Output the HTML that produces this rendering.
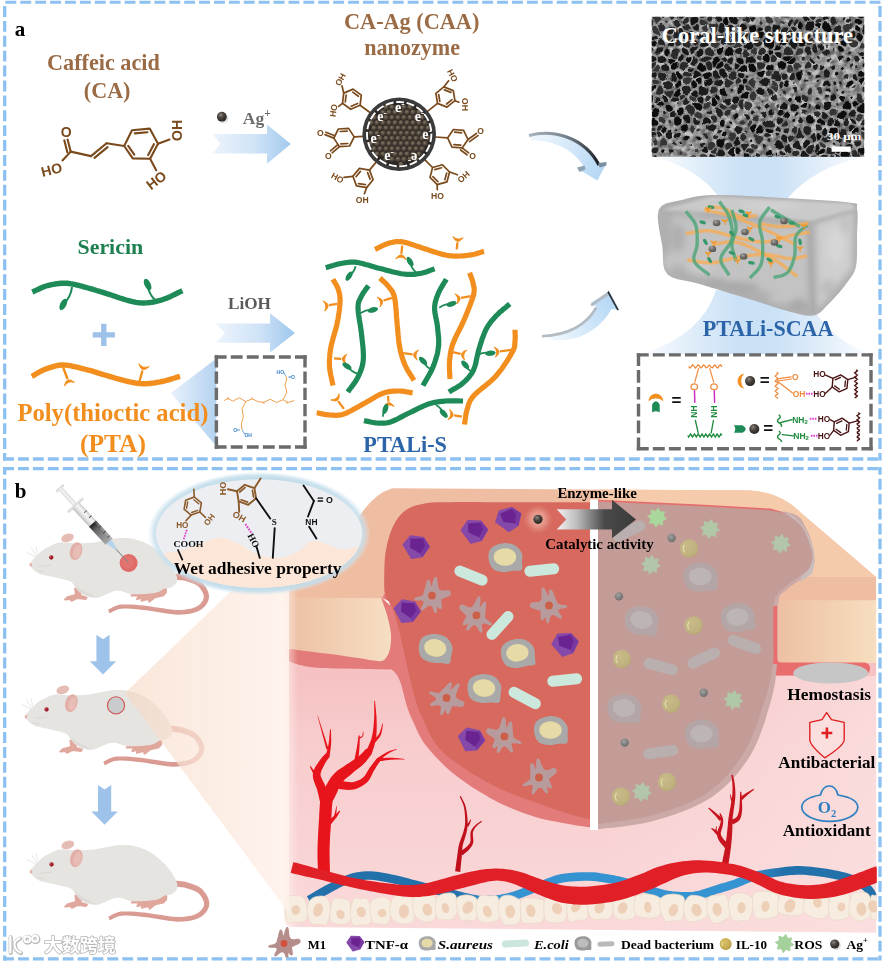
<!DOCTYPE html>
<html lang="en"><head><meta charset="utf-8"><title>PTALi-SCAA hydrogel scheme</title>
<style>html,body{margin:0;padding:0;background:#fff}svg{display:block;font-family:"Liberation Serif","Noto Serif CJK SC",serif}</style></head>
<body>
<svg width="887" height="962" viewBox="0 0 887 962">
<defs><radialGradient id="agS" cx="0.38" cy="0.32" r="0.7"><stop offset="0" stop-color="#8A847C"/><stop offset="0.45" stop-color="#4A4540"/><stop offset="1" stop-color="#262321"/></radialGradient><radialGradient id="npS" cx="0.4" cy="0.35" r="0.7"><stop offset="0" stop-color="#857865"/><stop offset="0.55" stop-color="#4C4339"/><stop offset="1" stop-color="#2A2520"/></radialGradient><radialGradient id="ilS" cx="0.4" cy="0.35" r="0.75"><stop offset="0" stop-color="#C8BB88"/><stop offset="0.7" stop-color="#BFB27E"/><stop offset="1" stop-color="#B2A470"/></radialGradient><radialGradient id="ilL" cx="0.4" cy="0.35" r="0.75"><stop offset="0" stop-color="#D9C26A"/><stop offset="0.7" stop-color="#C4A850"/><stop offset="1" stop-color="#A88E3C"/></radialGradient><radialGradient id="agG" cx="0.5" cy="0.5" r="0.5"><stop offset="0" stop-color="#F3C2B2" stop-opacity="0.95"/><stop offset="0.55" stop-color="#EBA898" stop-opacity="0.6"/><stop offset="1" stop-color="#E08878" stop-opacity="0"/></radialGradient><radialGradient id="agD" cx="0.4" cy="0.35" r="0.7"><stop offset="0" stop-color="#A2A2A2"/><stop offset="0.6" stop-color="#7E7E7E"/><stop offset="1" stop-color="#6C6C6C"/></radialGradient><linearGradient id="pe1" x1="287" x2="388" y1="0" y2="0" gradientUnits="userSpaceOnUse"><stop offset="0" stop-color="#EDBFA4"/><stop offset="1" stop-color="#F6DEC2"/></linearGradient><linearGradient id="pe2" x1="776" x2="877" y1="0" y2="0" gradientUnits="userSpaceOnUse"><stop offset="0" stop-color="#EDBFA2"/><stop offset="1" stop-color="#F7DEC0"/></linearGradient><linearGradient id="derm" x1="0" x2="0" y1="655" y2="933" gradientUnits="userSpaceOnUse"><stop offset="0" stop-color="#F5BFC0"/><stop offset="0.35" stop-color="#F8CDCE"/><stop offset="1" stop-color="#FAD9DA"/></linearGradient><linearGradient id="dermR" x1="600" x2="877" y1="0" y2="0" gradientUnits="userSpaceOnUse"><stop offset="0" stop-color="#FBE0E0" stop-opacity="0"/><stop offset="1" stop-color="#FBE0E0" stop-opacity="0.75"/></linearGradient><linearGradient id="arrG" x1="557" x2="636" y1="0" y2="0" gradientUnits="userSpaceOnUse"><stop offset="0" stop-color="#F2F2F2"/><stop offset="0.25" stop-color="#BDBDBD"/><stop offset="0.6" stop-color="#4A4A4A"/><stop offset="1" stop-color="#3A3A3A"/></linearGradient><linearGradient id="coneB" x1="125" x2="289" y1="0" y2="0" gradientUnits="userSpaceOnUse"><stop offset="0" stop-color="#F6D5BF" stop-opacity="0.55"/><stop offset="0.35" stop-color="#FAE3D5" stop-opacity="0.7"/><stop offset="1" stop-color="#FEF3EC" stop-opacity="0.9"/></linearGradient><g id="mouse">
<path d="M686.5 251.4 L695.3 252.3 L704 252.8 L712.3 253.4 L720.3 254.1 L728.2 255.4 L736.5 257.4 L746.1 260.2 L756.5 263.4 L766.8 267 L776.5 271.1 L784.9 275.7 L791.6 281 L797.9 287.6 L804.1 295.9 L809.5 305 L813.6 314.1 L815.9 322.3 L816.4 329.1 L815.1 335.7 L812 343.2 L807.3 350.8 L801.1 358.2 L793.6 364.8 L784.9 370.3 L774.8 374.9 L763.2 378.8 L750.1 381.9 L735.3 384.1 L718.7 385.3 L700.3 385.6 L678.9 384.4 L654 381.4 L627.2 377.4 L600.1 373.1 L574.2 369.1 L551.1 366.3 L530.8 364.4 L512.1 362.8 L494.7 361.5 L478.4 360.9 L463.2 360.9 L449 361.9 L436.2 364.2 L425.2 367.7 L415.9 371.9 L407.7 376.3 L399.9 380.4 L391.6 384.2 L398.4 399.8 L407.4 396 L415.7 391.8 L423.5 387.8 L431.4 384.4 L440.3 381.8 L451 380.1 L463.8 379.4 L477.9 379.5 L493.5 380.4 L510.5 381.8 L529 383.6 L548.9 385.7 L571.4 388.6 L596.9 392.7 L624.1 397.3 L651.2 401.5 L676.9 404.8 L699.7 406.4 L719.5 406.3 L737.5 405.1 L753.9 402.9 L768.9 399.6 L782.6 395.2 L795.1 389.7 L806.7 382.7 L816.8 374.1 L825.4 364.4 L832.2 353.8 L837.1 342.7 L839.6 330.9 L839.1 318.5 L835.9 306.2 L830.8 294.1 L824.2 282.7 L816.7 272.3 L808.4 263 L798.6 255.2 L787.7 248.8 L776.2 243.6 L764.7 239.4 L753.7 235.8 L743.5 232.6 L733.6 230 L723.9 228.2 L714.7 227.1 L706.1 226.3 L697.8 225.6 L689.5 224.6Z" fill="#DA9C93"/>
<path d="M688 238 L696.6 238.9 L705 239.6 L713.5 240.2 L722.1 241.2 L730.9 242.7 L740 245 L749.9 248 L760.6 251.4 L771.5 255.3 L782.1 260 L791.8 265.5 L800 272 L807.3 280 L814.1 289.3 L820.1 299.6 L824.7 310.1 L827.5 320.4 L828 330 L826.1 339.2 L822.1 348.5 L816.4 357.6 L809 366.1 L800.1 373.7 L790 380 L778.7 385.1 L766.1 389.2 L752 392.4 L736.4 394.6 L719.1 395.8 L700 396 L677.9 394.6 L652.6 391.4 L625.6 387.3 L598.5 382.9 L572.8 378.9 L550 376 L529.9 374 L511.3 372.3 L494.1 370.9 L478.1 370.2 L463.5 370.2 L450 371 L438.2 373 L428.3 376.1 L419.7 379.9 L411.7 384 L403.6 388.2 L395 392" fill="none" stroke="#C98A84" stroke-width="1.5" opacity="0.5" transform="translate(0,5)"/>
<ellipse cx="212" cy="66" rx="29" ry="18" fill="#E6BDB5" transform="rotate(-18 212 66)"/>
<path d="M600 300 Q625 275 648 290 Q655 310 635 322 L600 330 L575 350 L570 338 L540 345 L545 332 L520 338 L528 322 L495 322 L510 312 L570 308Z" fill="#E0A79D" stroke="#E0A79D" stroke-width="8" stroke-linejoin="round"/>
<path d="M245 290 L275 300 L268 322 L298 330 L292 338 L255 334 L230 346 L225 338 L200 340 L212 328 L248 318Z" fill="#E0A79D" stroke="#E0A79D" stroke-width="7" stroke-linejoin="round"/>
<path d="M45 183 L45.7 179.3 L47.5 175.9 L50.2 172.4 L53.6 168.8 L57.6 164.7 L62 160 L67.1 154.3 L73 147.9 L79.6 140.9 L86.4 134 L93.3 127.6 L100 122 L106.6 117.3 L113.2 113.2 L119.9 109.5 L126.6 106.1 L133.3 103 L140 100 L146.3 97 L152.2 94.1 L158.1 91.4 L164.4 89 L171.6 87.2 L180 86 L189.8 85.7 L200.7 86.3 L212.5 87.4 L224.8 88.6 L237.4 89.6 L250 90 L262.5 90 L275.2 89.8 L288.1 89.4 L301.5 88.7 L315.4 87.6 L330 86 L345.9 83.6 L363 80.3 L380.6 76.6 L398.1 73 L414.8 70 L430 68 L443.3 66.9 L455.2 66.1 L466.2 66 L477 66.5 L488.1 67.8 L500 70 L512.9 73 L526.3 76.8 L540 81.4 L553.7 86.7 L567.1 92.9 L580 100 L592.6 108.3 L605.2 117.8 L617.5 128.1 L629.3 138.9 L640.2 149.7 L650 160 L658.8 170.2 L666.8 180.7 L673.9 191.2 L680.2 201.5 L685.6 211.2 L690 220 L693.4 228 L696 235.4 L697.6 242.2 L698.3 248.5 L698.1 254.4 L697 260 L694.8 265.2 L691.3 270.1 L686.9 274.6 L682 278.6 L676.9 282 L672 285 L667.2 287.1 L662.1 288.3 L656.9 288.9 L651.5 289.5 L645.9 290.4 L640 292 L634.5 294.5 L629.5 297.6 L624.2 301.1 L618.1 304.5 L610.2 307.6 L600 310 L586.5 311.9 L570 313.7 L551.9 315.1 L533.3 316.1 L515.6 316.4 L500 316 L486.7 314.1 L474.8 310.6 L463.8 306.5 L453 302.7 L441.9 300.3 L430 300 L416.9 302.7 L403 307.9 L388.8 314.2 L374.8 320.8 L361.7 326.4 L350 330 L339.8 331.5 L330.7 331.9 L322.5 331.4 L314.8 330.1 L307.4 328.2 L300 326 L292.6 323.3 L285.6 320.1 L278.8 316.2 L272.2 311.9 L266 307.2 L260 302 L255 296.1 L251.1 289.2 L247.5 281.9 L243.3 274.6 L237.8 267.8 L230 262 L219.3 257.2 L206.3 253 L191.9 249.4 L177 246.1 L162.8 243 L150 240 L138.5 237.3 L127.4 235 L116.9 232.9 L107 230.8 L98 228.6 L90 226 L83.1 223 L77.2 219.9 L72.2 216.6 L67.8 213.1 L63.8 209.6 L60 206 L56.3 202.3 L52.7 198.6 L49.6 194.7 L47.1 190.8 L45.5 186.9Z" fill="#E6E4E1"/>
<path d="M230 262 Q300 320 350 330 Q300 330 260 302Z" fill="#D8D5D1" opacity="0.6"/>
<ellipse cx="250" cy="125" rx="27" ry="40" fill="#E1AFA7" transform="rotate(16 250 125)"/>
<ellipse cx="254" cy="128" rx="17" ry="30" fill="#E8BDB5" transform="rotate(16 254 128)"/>
<circle cx="140" cy="153" r="9.5" fill="#A01E2A"/><circle cx="137" cy="150" r="2.5" fill="#E08080"/>
<ellipse cx="49" cy="185" rx="6" ry="8" fill="#E3B0A8"/>
<path d="M72 152 L30 130 M72 146 L52 110 M78 140 L72 104" stroke="#BBB" stroke-width="1.6" fill="none"/>
<path d="M85 192 Q110 192 140 186 M78 210 Q92 218 108 216" stroke="#C9C5C0" stroke-width="2" fill="none"/>
</g></defs>
<rect width="887" height="962" fill="#fff"/>
<g id="panelA">
<linearGradient id="bm1" x1="652" x2="865" y1="0" y2="0" gradientUnits="userSpaceOnUse"><stop offset="0" stop-color="#CBE1F6" stop-opacity="0.05"/><stop offset="0.22" stop-color="#CBE1F6" stop-opacity="0.6"/><stop offset="0.42" stop-color="#CBE1F6"/><stop offset="0.58" stop-color="#CBE1F6"/><stop offset="0.78" stop-color="#CBE1F6" stop-opacity="0.6"/><stop offset="1" stop-color="#CBE1F6" stop-opacity="0.05"/></linearGradient>
<path d="M652 157 L865 157 Q815 166 786 200 L721 200 Q697 166 652 157Z" fill="url(#bm1)"/>
<linearGradient id="bm2" x1="640" x2="872" y1="0" y2="0" gradientUnits="userSpaceOnUse"><stop offset="0" stop-color="#CBE1F6" stop-opacity="0.05"/><stop offset="0.22" stop-color="#CBE1F6" stop-opacity="0.6"/><stop offset="0.42" stop-color="#CBE1F6"/><stop offset="0.58" stop-color="#CBE1F6"/><stop offset="0.78" stop-color="#CBE1F6" stop-opacity="0.6"/><stop offset="1" stop-color="#CBE1F6" stop-opacity="0.05"/></linearGradient>
<path d="M716 290 Q702 335 642 354 L870 354 Q826 338 806 296Z" fill="url(#bm2)"/>
<clipPath id="semclip"><rect x="651.7" y="16.7" width="212.6" height="140.1"/></clipPath>
<filter id="semn" x="0" y="0" width="100%" height="100%"><feTurbulence type="fractalNoise" baseFrequency="0.16" numOctaves="3" seed="4" result="n"/><feColorMatrix in="n" type="matrix" values="0 0 0 0 0  0 0 0 0 0  0 0 0 0 0  1.7 1.7 0 0 -1.25"/><feComposite in="SourceGraphic" operator="in"/></filter>
<filter id="semw" x="-5%" y="-5%" width="110%" height="110%"><feTurbulence type="fractalNoise" baseFrequency="0.07" numOctaves="2" seed="9" result="n"/><feDisplacementMap in="SourceGraphic" in2="n" scale="6" xChannelSelector="R" yChannelSelector="G"/></filter>
<g clip-path="url(#semclip)">
<rect x="651.7" y="16.7" width="212.6" height="140.1" fill="#686868"/>
<rect x="651.7" y="16.7" width="212.6" height="140.1" fill="#C2C2C2" filter="url(#semn)"/>
<g filter="url(#semw)" transform="translate(651.7 16.7)">
<path d="M7.7 -3.6Q7.9 -1.3 3 -1.2Q-1.9 -1.1 -2.1 -1.2Q-2.3 -1.4 -0.6 -4.2Q1.1 -7 4.3 -6.5Q7.6 -6 7.7 -3.6Z" fill="#1B1B1B"/>
<path d="M12.5 0Q10.5 0.6 9.9 -0.5Q9.2 -1.6 9.1 -3.7Q9 -5.8 10.1 -6.8Q11.3 -7.8 13.5 -6.7Q15.7 -5.5 15.2 -3.1Q14.6 -0.6 12.5 0Z" fill="#2B2B2B"/>
<path d="M18.4 1.2Q16.5 -0.3 17 -2.6Q17.5 -5 19.1 -5.5Q20.6 -6.1 21.4 -6Q22.2 -5.8 23 -4.9Q23.8 -4 23.7 -1.8Q23.6 0.4 21.9 1.5Q20.3 2.6 18.4 1.2Z" fill="#222"/>
<path d="M34 -2.6Q32.5 -4.9 29.5 -4.4Q26.5 -4 26.4 -1.7Q26.2 0.6 27.9 1.6Q29.6 2.6 32.6 1.1Q35.6 -0.4 34 -2.6Z" fill="#1B1B1B"/>
<path d="M38.2 -9.7Q40.6 -9.1 40.9 -5.7Q41.1 -2.3 39.5 -1.8Q38 -1.4 37.7 -1.5Q37.4 -1.6 35.9 -3.9Q34.3 -6.1 35 -8.2Q35.8 -10.3 38.2 -9.7Z" fill="#1B1B1B"/>
<path d="M42.4 -6Q42.2 -9 43.9 -9.9Q45.6 -10.9 47.1 -8.9Q48.6 -7 47.4 -4.7Q46.2 -2.4 44.4 -2.7Q42.6 -3 42.4 -6Z" fill="#222"/>
<path d="M50.2 -3.2Q48.8 -0.6 49.1 -0.1Q49.4 0.3 51.4 1Q53.4 1.6 55.3 -0.4Q57.1 -2.5 55.7 -4.4Q54.2 -6.3 52.8 -6Q51.5 -5.8 50.2 -3.2Z" fill="#2B2B2B"/>
<path d="M58.9 -9.1Q55.4 -8.2 55 -7.8Q54.7 -7.5 56.4 -5.2Q58.1 -3 59.9 -2.5Q61.6 -1.9 63.1 -3Q64.6 -4 64.6 -5.2Q64.7 -6.3 63.5 -8.2Q62.4 -10.1 58.9 -9.1Z" fill="#353535"/>
<path d="M66.3 -5.2Q66.3 -6.2 69.4 -7.7Q72.5 -9.1 74 -7.9Q75.5 -6.8 75.3 -4.4Q75.2 -2 73.3 -1.3Q71.4 -0.6 68.9 -2.4Q66.3 -4.2 66.3 -5.2Z" fill="#2B2B2B"/>
<path d="M83.2 -8Q80.6 -8.3 79.3 -7.4Q78 -6.5 77.9 -4.3Q77.7 -2 77.8 -2Q77.8 -2 81.4 -1.7Q85 -1.5 85.4 -4.6Q85.8 -7.7 83.2 -8Z" fill="#222"/>
<path d="M93.3 -3.8Q92.9 -2.6 91 -0.9Q89.2 0.7 88.2 -0.4Q87.2 -1.5 87.5 -4.3Q87.9 -7.1 88.4 -7.4Q88.8 -7.8 90.8 -7.3Q92.9 -6.9 93.3 -5.9Q93.7 -4.9 93.3 -3.8Z" fill="#2B2B2B"/>
<path d="M103.4 -2.1Q103.9 -1.1 100.8 -0.3Q97.8 0.6 96.5 -0.5Q95.2 -1.7 95.7 -3.1Q96.2 -4.4 99.5 -3.7Q102.9 -3 103.4 -2.1Z" fill="#0C0C0C"/>
<path d="M109 -2.1Q107 -2.3 106.9 -2.5Q106.7 -2.7 106.3 -3.6Q105.8 -4.5 106.5 -8.1Q107.3 -11.7 110.2 -9.8Q113.1 -8 112.6 -5.5Q112.1 -3.1 111.5 -2.5Q110.9 -1.9 109 -2.1Z" fill="#161616"/>
<path d="M119.3 -5.4Q119.5 -8.3 117.8 -8.1Q116.1 -7.8 115.7 -7.7Q115.4 -7.6 114.9 -5.1Q114.4 -2.6 116.8 -2.5Q119.1 -2.5 119.3 -5.4Z" fill="#2B2B2B"/>
<path d="M124.4 -6.7Q122.8 -9.2 121.7 -8.6Q120.6 -8 120.5 -5.3Q120.3 -2.5 122.1 -1.4Q123.9 -0.3 124.4 -0.7Q124.8 -1.1 125.4 -2.6Q125.9 -4.1 124.4 -6.7Z" fill="#353535"/>
<path d="M134.4 -4.6Q133.6 -4.7 131.4 -3.9Q129.1 -3.2 128.5 -1.4Q127.9 0.3 131.2 1.5Q134.5 2.6 136.6 1.2Q138.8 -0.2 137 -2.4Q135.2 -4.6 134.4 -4.6Z" fill="#353535"/>
<path d="M137.7 -8.1Q139 -10.4 142.8 -8.8Q146.5 -7.1 146.4 -4.3Q146.2 -1.5 143.7 -1.1Q141.2 -0.7 140.8 -0.8Q140.5 -0.9 138.4 -3.4Q136.4 -5.9 137.7 -8.1Z" fill="#222"/>
<path d="M155.4 -3.6Q154.6 -2.6 151.5 -1.7Q148.3 -0.9 147.9 -1.1Q147.6 -1.4 147.7 -4.2Q147.9 -7 149.4 -10.1Q150.9 -13.2 153.6 -8.9Q156.2 -4.6 155.4 -3.6Z" fill="#222"/>
<path d="M160.6 2.4Q160.5 2.4 158.2 0.2Q155.9 -1.9 156.6 -2.8Q157.3 -3.6 158.5 -4.2Q159.8 -4.8 161.1 -4.3Q162.5 -3.8 163 -2.2Q163.5 -0.6 162.1 0.9Q160.7 2.4 160.6 2.4Z" fill="#222"/>
<path d="M164.8 -2.7Q164.2 -4.5 166.5 -7.2Q168.9 -9.9 170.9 -6.8Q173 -3.7 171.6 -1.7Q170.1 0.3 167.7 -0.3Q165.3 -0.9 164.8 -2.7Z" fill="#161616"/>
<path d="M180.7 -3Q181 -3 182.3 -6.5Q183.5 -10 180.8 -9.4Q178.1 -8.8 177.2 -6.6Q176.4 -4.5 178.4 -3.7Q180.5 -2.9 180.7 -3Z" fill="#161616"/>
<path d="M184.5 -1.4Q182.5 -2.4 183.8 -6Q185.1 -9.5 185.6 -10Q186.1 -10.6 188.8 -8.1Q191.6 -5.5 191.4 -4.7Q191.2 -3.9 188.8 -2.1Q186.4 -0.3 184.5 -1.4Z" fill="#222"/>
<path d="M201.9 0.3Q200.8 1.4 198.4 0.6Q195.9 -0.3 195.1 -1.7Q194.2 -3.1 194.4 -3.8Q194.6 -4.5 195.2 -4.8Q195.8 -5.1 199.4 -3Q202.9 -0.9 202.9 -0.9Q202.9 -0.8 201.9 0.3Z" fill="#1B1B1B"/>
<path d="M205 -6.8Q205.4 -6.1 204.8 -3.9Q204.1 -1.7 200.1 -4.1Q196.1 -6.4 197.1 -7.4Q198 -8.4 201.3 -7.9Q204.5 -7.5 205 -6.8Z" fill="#222"/>
<path d="M209.1 0.4Q206.8 -0.9 206.8 -0.9Q206.8 -0.9 207.4 -3.1Q208.1 -5.3 211.1 -6Q214.2 -6.7 214.9 -4.2Q215.6 -1.7 213.5 -0Q211.3 1.6 209.1 0.4Z" fill="#111"/>
<path d="M-0.7 3.8Q-3 0.4 -3.2 0.3Q-3.3 0.1 -3.6 0.1Q-3.9 0.2 -5.1 0.8Q-6.4 1.5 -6.2 4.9Q-5.9 8.3 -3.7 9.5Q-1.5 10.7 -1.5 10.7Q-1.5 10.7 0 8.9Q1.6 7.2 -0.7 3.8Z" fill="#353535"/>
<path d="M6.2 4.9Q8.3 3.6 8.6 2.6Q9 1.6 8.4 0.5Q7.7 -0.7 3.1 -0.6Q-1.5 -0.5 0.7 2.9Q3 6.2 3.6 6.2Q4.2 6.2 6.2 4.9Z" fill="#353535"/>
<path d="M13.8 5.7Q14.8 6.6 15.5 6.1Q16.2 5.7 16.3 5.2Q16.4 4.8 15.6 4.1Q14.8 3.5 14 3.8Q13.2 4 13.1 4.4Q12.9 4.7 13.8 5.7Z" fill="#353535"/>
<path d="M21.7 6.1Q21.9 4.9 23.5 3.8Q25.2 2.6 26.8 3.6Q28.5 4.5 28.8 6.5Q29.2 8.4 29 8.9Q28.7 9.3 27.1 10Q25.5 10.7 25.1 10.7Q24.8 10.7 23.1 9Q21.5 7.3 21.7 6.1Z" fill="#2B2B2B"/>
<path d="M36.6 1.2Q36.9 1.3 37.1 4.4Q37.2 7.4 34.1 7.8Q31.1 8.1 30.7 6.1Q30.4 4.1 33.4 2.6Q36.4 1.1 36.6 1.2Z" fill="#2B2B2B"/>
<path d="M40.2 0.5Q38.6 1 38.7 4.2Q38.9 7.5 39.4 8.2Q40 8.9 43 7.5Q46 6.1 46.5 3.9Q46.9 1.8 46.6 1.2Q46.3 0.7 44.1 0.4Q41.9 -0 40.2 0.5Z" fill="#161616"/>
<path d="M53 8.6Q56.6 7.2 56.6 7.2Q56.6 7.2 54.7 5.3Q52.9 3.4 50.6 2.7Q48.4 2 48 4.2Q47.5 6.4 48.4 8.2Q49.3 10 53 8.6Z" fill="#353535"/>
<path d="M59.3 -1.2Q57.9 -1.6 56.1 0.3Q54.4 2.3 56 3.9Q57.6 5.5 58.8 4.7Q60.1 4 60.4 1.6Q60.7 -0.8 59.3 -1.2Z" fill="#2B2B2B"/>
<path d="M62.5 1.9Q62.8 -0.5 64 -1.4Q65.2 -2.2 67.6 -0.6Q69.9 1 69.3 2.6Q68.6 4.2 67.3 4.8Q66 5.3 64.1 4.8Q62.3 4.2 62.5 1.9Z" fill="#1B1B1B"/>
<path d="M76.1 -0Q76.1 -0 74.1 0.7Q72.1 1.5 71.4 3.3Q70.6 5.1 72.2 7.3Q73.8 9.5 76.1 8Q78.5 6.4 77.3 3.2Q76.1 -0 76.1 -0Z" fill="#0C0C0C"/>
<path d="M85.9 6.7Q84 8.5 81.8 7.3Q79.5 6 78.4 2.9Q77.2 -0.3 81.2 -0Q85.1 0.3 86.3 1.7Q87.6 3.1 87.7 4Q87.8 4.9 85.9 6.7Z" fill="#161616"/>
<path d="M96.5 6.6Q95.8 7.1 93.3 5.7Q90.7 4.4 90.7 3.6Q90.6 2.8 92.6 1Q94.6 -0.8 95.8 0.3Q97.1 1.4 97.2 3.8Q97.3 6.2 96.5 6.6Z" fill="#2B2B2B"/>
<path d="M100.1 5.9Q98.2 6.3 98.1 3.8Q98 1.3 101 0.4Q104 -0.4 104.2 -0.2Q104.4 0 103.2 2.8Q102 5.6 100.1 5.9Z" fill="#222"/>
<path d="M106.9 6.5Q106.6 6.2 107.1 5Q107.6 3.9 108.5 4Q109.3 4.1 109.8 5.2Q110.3 6.3 109.9 6.8Q109.5 7.3 108.4 7.1Q107.2 6.8 106.9 6.5Z" fill="#2B2B2B"/>
<path d="M114.3 3Q115.4 5.5 117.7 5.6Q120.1 5.8 121.1 5.1Q122.1 4.3 122.5 3.1Q123 1.8 121 0.6Q119.1 -0.6 116.7 -0.6Q114.4 -0.7 113.8 -0.1Q113.2 0.5 114.3 3Z" fill="#353535"/>
<path d="M131.2 7.3Q130.3 7.4 129.4 6.6Q128.5 5.8 128.7 5.2Q128.9 4.6 129.1 4.4Q129.4 4.2 130.8 4.7Q132.3 5.2 132.2 6.2Q132.1 7.1 131.2 7.3Z" fill="#353535"/>
<path d="M136.5 9.5Q135.4 8.5 135.6 6.5Q135.8 4.5 137.8 3.2Q139.7 1.9 140.1 2Q140.4 2 140.2 4.9Q140 7.8 138.9 9.1Q137.8 10.5 137.7 10.5Q137.7 10.5 136.5 9.5Z" fill="#1B1B1B"/>
<path d="M146 5.7Q146.9 2.8 146.7 2.4Q146.5 1.9 146.2 1.6Q145.9 1.4 143.9 1.7Q141.9 2.1 141.7 5Q141.5 7.9 143.3 8.3Q145.1 8.6 146 5.7Z" fill="#2B2B2B"/>
<path d="M152.5 3.6Q154.4 5.6 156.8 4.4Q159.1 3.2 157.1 1.3Q155.1 -0.6 152.7 0.1Q150.3 0.7 150.5 1.2Q150.7 1.6 152.5 3.6Z" fill="#1B1B1B"/>
<path d="M170.5 6Q170.2 6.5 166.8 6.4Q163.3 6.3 162.8 5.1Q162.3 3.9 163.7 2.4Q165.1 0.9 167.3 1.5Q169.4 2 170.1 3.8Q170.8 5.6 170.5 6Z" fill="#2B2B2B"/>
<path d="M178.7 2Q180 -1.2 177.8 -2Q175.7 -2.9 174.9 -2.8Q174.2 -2.8 172.8 -0.8Q171.4 1.2 172.1 3Q172.9 4.9 175.1 5Q177.4 5.1 178.7 2Z" fill="#161616"/>
<path d="M181.5 0Q181.7 -0 183.3 0.9Q185 1.7 185.4 3.9Q185.7 6 183.8 6.9Q181.9 7.8 180.5 6.5Q179.2 5.2 180.2 2.6Q181.3 0.1 181.5 0Z" fill="#222"/>
<path d="M190.1 2.7Q189.9 1.7 190.8 1Q191.7 0.3 192.1 1Q192.5 1.6 192.1 2.5Q191.7 3.5 191.3 3.7Q190.9 3.9 190.6 3.8Q190.2 3.7 190.1 2.7Z" fill="#1B1B1B"/>
<path d="M199.8 4.8Q199.5 6.2 196.5 6Q193.5 5.8 194.4 3.7Q195.3 1.7 197.7 2.5Q200.1 3.3 199.8 4.8Z" fill="#222"/>
<path d="M202.9 7.8Q203.1 8.6 205.8 8.9Q208.6 9.2 209.8 8.1Q211.1 7 210.6 5.4Q210.1 3.8 207.9 2.6Q205.7 1.4 204.5 2.6Q203.4 3.9 203 5.4Q202.7 7 202.9 7.8Z" fill="#0C0C0C"/>
<path d="M212.9 4.6Q212.3 3 214.5 1.3Q216.7 -0.3 219.7 1Q222.7 2.3 219.4 4.9Q216.1 7.4 214.8 6.8Q213.5 6.3 212.9 4.6Z" fill="#222"/>
<path d="M-8.7 13.3Q-6.9 14 -5.8 12.8Q-4.7 11.7 -5.6 11.2Q-6.6 10.7 -8.5 11.6Q-10.4 12.6 -8.7 13.3Z" fill="#353535"/>
<path d="M7.2 12.3Q10.2 16.7 9.8 17.4Q9.4 18.1 9.1 18.2Q8.9 18.3 6 17.8Q3.2 17.4 1.4 14.6Q-0.4 11.8 1.2 9.9Q2.8 8 3.5 8Q4.2 8 7.2 12.3Z" fill="#353535"/>
<path d="M11.6 14.9Q12.5 14.4 13.3 12.2Q14.1 10.1 11.7 7.7Q9.3 5.3 7.3 6.6Q5.4 7.8 8.1 11.6Q10.7 15.5 11.6 14.9Z" fill="#2B2B2B"/>
<path d="M15 13Q14.1 15.3 17.2 16.2Q20.3 17.1 22 14.6Q23.6 12.1 21.8 10.2Q19.9 8.3 17.9 9.5Q15.9 10.7 15 13Z" fill="#222"/>
<path d="M29.4 20.2Q29.4 20.2 27.6 16.3Q25.9 12.4 27.8 11.6Q29.7 10.7 31 12.5Q32.3 14.2 30.8 17.2Q29.4 20.2 29.4 20.2Z" fill="#1B1B1B"/>
<path d="M39 11.4Q39.1 12.9 38.1 13.5Q37.1 14 35 13.8Q32.9 13.7 31.6 12Q30.3 10.2 30.6 9.7Q30.8 9.1 34.3 8.7Q37.7 8.3 38.3 9.1Q38.8 9.9 39 11.4Z" fill="#2B2B2B"/>
<path d="M45.6 14.1Q47.1 13.9 47.3 12.2Q47.5 10.5 46.8 9.1Q46.1 7.6 43.7 8.8Q41.2 9.9 41.3 11.1Q41.4 12.3 42.8 13.3Q44.1 14.3 45.6 14.1Z" fill="#1B1B1B"/>
<path d="M50.6 15.1Q49.7 14.5 49.9 12.6Q50.1 10.8 53.2 9.7Q56.3 8.5 56.7 11.2Q57.1 13.9 54.3 14.8Q51.5 15.7 50.6 15.1Z" fill="#353535"/>
<path d="M58.7 11Q59.2 14.4 60.7 15.3Q62.1 16.2 63.8 15.5Q65.5 14.8 65.7 10.9Q65.9 7 63.6 6.3Q61.3 5.7 59.8 6.6Q58.2 7.6 58.2 7.6Q58.2 7.6 58.7 11Z" fill="#353535"/>
<path d="M69.4 15.3Q72.6 15.7 72.8 15.6Q73 15.5 73 12.8Q73.1 10.1 71.4 7.8Q69.8 5.5 68.1 6.3Q66.5 7 66.4 10.9Q66.2 14.9 69.4 15.3Z" fill="#1B1B1B"/>
<path d="M82.8 11Q83 9.8 80.9 8.6Q78.8 7.4 76.7 8.8Q74.5 10.2 74.5 12.5Q74.5 14.8 76.4 15Q78.3 15.2 80.5 13.7Q82.6 12.3 82.8 11Z" fill="#1B1B1B"/>
<path d="M94.3 12.2Q94.3 9.8 91.8 8.5Q89.4 7.2 87.8 8.8Q86.2 10.4 86 11.5Q85.8 12.7 87.5 14.3Q89.3 15.9 91.8 15.3Q94.4 14.7 94.3 12.2Z" fill="#161616"/>
<path d="M98.1 9.3Q97.4 9.7 97.4 12.1Q97.5 14.6 97.8 15Q98.2 15.3 100.5 15.4Q102.8 15.5 103 15.2Q103.2 14.9 103.5 12.3Q103.7 9.6 103.1 8.9Q102.4 8.1 100.6 8.5Q98.8 8.8 98.1 9.3Z" fill="#111"/>
<path d="M104.6 12.4Q104.9 9.2 108.2 9.8Q111.5 10.4 111.5 12.1Q111.6 13.8 107.9 14.7Q104.3 15.6 104.6 12.4Z" fill="#0C0C0C"/>
<path d="M113.8 9Q112.8 10.4 112.8 12.1Q112.8 13.8 113.6 15.1Q114.4 16.4 117.5 14.7Q120.6 13 120.5 10.5Q120.5 8 117.6 7.8Q114.8 7.7 113.8 9Z" fill="#2B2B2B"/>
<path d="M121.5 10.5Q121.5 13 123.1 14.9Q124.6 16.7 126.1 16.4Q127.7 16.1 128.1 13.3Q128.6 10.4 126.3 8.3Q124 6.2 122.8 7Q121.5 7.9 121.5 10.5Z" fill="#161616"/>
<path d="M130.3 16.9Q128.9 16 129.3 13.4Q129.7 10.9 131.8 10.5Q133.9 10.2 135.1 11.3Q136.4 12.4 134 15.1Q131.6 17.8 130.3 16.9Z" fill="#222"/>
<path d="M145.9 11.5Q145.3 9.4 143.2 9Q141 8.5 139.7 10.2Q138.4 11.8 140.7 13.8Q143.1 15.7 144.7 14.7Q146.4 13.6 145.9 11.5Z" fill="#222"/>
<path d="M150.4 5.6Q152.3 7.6 152.4 10.1Q152.5 12.7 150.1 12.6Q147.7 12.5 147.3 10.8Q146.8 9.1 147.7 6.3Q148.5 3.5 150.4 5.6Z" fill="#0C0C0C"/>
<path d="M160.1 13.2Q158.7 14.2 156.9 13.9Q155 13.6 154.9 13.5Q154.8 13.4 154.7 10.4Q154.6 7.3 157.5 5.8Q160.4 4.4 160.5 4.4Q160.6 4.4 161.2 5.7Q161.8 7 161.7 9.6Q161.6 12.2 160.1 13.2Z" fill="#161616"/>
<path d="M166.1 12.1Q169 12.3 169.1 12.3Q169.1 12.3 169.6 9.8Q170.1 7.4 166.7 7.3Q163.4 7.2 163.3 9.5Q163.2 11.9 166.1 12.1Z" fill="#0C0C0C"/>
<path d="M179.1 8.3Q180.9 9.9 180.2 12.3Q179.6 14.7 178 15.8Q176.5 16.8 173.7 14.9Q170.9 13 171.5 10.3Q172.1 7.5 172.4 7Q172.7 6.5 175 6.6Q177.4 6.7 179.1 8.3Z" fill="#111"/>
<path d="M185 9.4Q187.3 8.4 188.2 8.7Q189 9.1 190.4 12.1Q191.8 15.1 188.5 16Q185.2 16.8 183.3 15.9Q181.5 15.1 182.1 12.8Q182.7 10.5 185 9.4Z" fill="#222"/>
<path d="M200.2 8.4Q200.4 9.3 200 10.4Q199.6 11.6 197.3 13.4Q195 15.1 194.3 14.7Q193.6 14.2 192.2 11.3Q190.9 8.3 191.9 7.7Q193 7.1 196.5 7.4Q200 7.6 200.2 8.4Z" fill="#353535"/>
<path d="M205.6 10.6Q202.8 10.3 202.4 11.4Q202 12.5 203.7 13.9Q205.3 15.4 207 15.3Q208.8 15.2 208.6 13.1Q208.4 10.9 205.6 10.6Z" fill="#0C0C0C"/>
<path d="M211.1 9.4Q209.7 10.7 210 12.9Q210.2 15.2 211.4 16.3Q212.6 17.5 215 16.3Q217.3 15.2 216.3 12.3Q215.3 9.4 213.9 8.8Q212.5 8.2 211.1 9.4Z" fill="#1B1B1B"/>
<path d="M-3.1 22Q-3.1 22 -0.6 19.8Q1.9 17.7 0.4 15.3Q-1.1 13 -1.1 13Q-1.1 13 -3.5 15.3Q-5.9 17.7 -4.7 19.8Q-3.5 21.9 -3.3 22Q-3.2 22 -3.1 22Z" fill="#1B1B1B"/>
<path d="M1.4 23.8Q-2 23.3 0.5 21.1Q3 18.9 5.5 19.3Q7.9 19.7 6.3 22Q4.7 24.4 1.4 23.8Z" fill="#1B1B1B"/>
<path d="M13.5 17.6Q14.3 17.1 16.9 17.9Q19.6 18.7 20 19.6Q20.5 20.6 18 22.9Q15.5 25.2 13.7 22.2Q12 19.3 12.3 18.7Q12.6 18.2 13.5 17.6Z" fill="#353535"/>
<path d="M27.1 16.5Q28.8 20.4 26.1 20.5Q23.4 20.5 22.8 20.2Q22.2 19.9 21.7 18.8Q21.1 17.7 22.8 15.1Q24.5 12.6 24.9 12.6Q25.3 12.7 27.1 16.5Z" fill="#222"/>
<path d="M33.5 21.4Q32.2 21.8 31.4 20.9Q30.6 20 31.8 17.5Q33.1 14.9 34.9 15Q36.6 15.1 35.7 18Q34.7 20.9 33.5 21.4Z" fill="#111"/>
<path d="M40.7 21.9Q41.4 21.4 42.3 19Q43.3 16.5 41.5 15.2Q39.6 13.8 38.6 14.3Q37.6 14.8 36.4 18.3Q35.3 21.8 37.7 22.1Q40 22.3 40.7 21.9Z" fill="#1B1B1B"/>
<path d="M48.4 23.1Q46.9 24.5 45 23.1Q43 21.7 43.8 19.8Q44.5 17.8 46.1 17.6Q47.7 17.4 48.6 18Q49.5 18.6 49.7 20.2Q49.8 21.7 48.4 23.1Z" fill="#161616"/>
<path d="M55 23.8Q52.4 21.5 52.3 19.9Q52.2 18.3 55.1 17.4Q58 16.5 59.3 17.3Q60.5 18 60.5 19.8Q60.5 21.5 59 23.8Q57.5 26 55 23.8Z" fill="#1B1B1B"/>
<path d="M65.2 23Q67.8 24.4 70 21.5Q72.2 18.7 72.3 17.8Q72.4 16.9 69.3 16.5Q66.1 16.1 64.4 16.8Q62.6 17.5 62.6 19.6Q62.6 21.7 65.2 23Z" fill="#353535"/>
<path d="M73.3 17.9Q73.1 18.8 74.1 22.7Q75.1 26.6 77.4 23.6Q79.8 20.6 79 18.9Q78.3 17.2 76 16.9Q73.8 16.7 73.6 16.8Q73.4 16.9 73.3 17.9Z" fill="#161616"/>
<path d="M86 15.7Q83.9 13.8 81.6 15.4Q79.2 17 80 18.6Q80.7 20.2 82.4 22.1Q84.2 23.9 85.6 23.6Q87 23.3 87.5 20.4Q88.1 17.6 86 15.7Z" fill="#2B2B2B"/>
<path d="M95.7 17.1Q96.1 17.5 95.9 20.7Q95.8 23.9 94.3 25.2Q92.7 26.5 90.6 24.9Q88.5 23.4 89 20.7Q89.5 18.1 92.4 17.4Q95.3 16.7 95.7 17.1Z" fill="#111"/>
<path d="M100.4 18.1Q98.2 18 98 20.9Q97.9 23.7 99.2 24Q100.5 24.2 102.5 22.9Q104.4 21.6 103.5 19.9Q102.6 18.2 100.4 18.1Z" fill="#161616"/>
<path d="M104.5 16.6Q104.2 16.9 105.3 18.9Q106.3 20.9 108.6 22Q110.9 23.1 112 21.8Q113.2 20.5 113.1 18.8Q113 17.1 112.2 15.9Q111.5 14.6 108.1 15.5Q104.7 16.3 104.5 16.6Z" fill="#0C0C0C"/>
<path d="M114.7 18.9Q114.6 17 117.8 15.3Q120.9 13.5 122.4 15.4Q124 17.2 122.5 19.3Q121.1 21.4 118 21.1Q114.8 20.7 114.7 18.9Z" fill="#1B1B1B"/>
<path d="M129.2 18.5Q127.8 17.5 126.4 17.8Q124.9 18.1 123.6 20Q122.3 22 123.3 23.7Q124.3 25.4 124.9 25.3Q125.5 25.3 128.5 23.4Q131.5 21.6 131.1 20.5Q130.6 19.4 129.2 18.5Z" fill="#111"/>
<path d="M134.8 15.8Q132.3 18.7 132.7 19.8Q133.2 20.9 134.7 22.1Q136.2 23.2 138.9 21.3Q141.7 19.5 141.9 18.2Q142.2 16.9 139.8 14.9Q137.5 12.9 137.4 12.9Q137.3 12.9 134.8 15.8Z" fill="#2B2B2B"/>
<path d="M150.1 15.8Q152.6 15.9 152.7 16Q152.8 16 151.9 18.9Q151.1 21.8 149 22.2Q146.9 22.6 145.6 21.2Q144.2 19.9 144.4 18.7Q144.6 17.6 146.1 16.7Q147.5 15.8 150.1 15.8Z" fill="#1B1B1B"/>
<path d="M158.6 18.9Q159.3 20.4 157 22.4Q154.7 24.5 153.9 23.4Q153.2 22.4 154 19.6Q154.8 16.9 156.4 17.2Q157.9 17.4 158.6 18.9Z" fill="#161616"/>
<path d="M163 21.6Q164.7 23.8 167.1 18.9Q169.4 14 166 13.8Q162.5 13.5 161 14.6Q159.5 15.7 160.4 17.6Q161.2 19.4 163 21.6Z" fill="#353535"/>
<path d="M167.8 19.2Q165.8 23.5 165.8 23.6Q165.8 23.7 166.2 23.8Q166.5 24 168.5 23.9Q170.5 23.8 172.5 22.9Q174.5 22 174.7 20.2Q174.9 18.3 172.4 16.6Q170 14.9 169.9 14.9Q169.9 15 167.8 19.2Z" fill="#353535"/>
<path d="M184.6 20Q184.3 18.8 182.7 18.1Q181.1 17.4 179.9 18.2Q178.7 19 178.4 20.7Q178.2 22.3 179.4 23.6Q180.6 24.9 181.3 25Q182 25.2 183.4 23.2Q184.8 21.3 184.6 20Z" fill="#1B1B1B"/>
<path d="M193.2 19.2Q193 17.7 192.3 17.3Q191.7 16.9 188.8 17.6Q185.9 18.3 186.2 19.6Q186.5 20.9 188.1 21.8Q189.7 22.7 191.6 21.8Q193.4 20.8 193.5 20.7Q193.5 20.6 193.2 19.2Z" fill="#1B1B1B"/>
<path d="M202.6 15.2Q201.1 13.8 199 15.4Q196.9 17 197.2 18.5Q197.4 19.9 200.3 20.4Q203.1 20.8 203.6 18.7Q204.2 16.6 202.6 15.2Z" fill="#1B1B1B"/>
<path d="M207.2 16.4Q209.2 16.3 210.5 17.5Q211.8 18.7 211 20.9Q210.2 23.1 208.7 23.7Q207.1 24.2 205.5 22.9Q203.9 21.6 204.5 19Q205.2 16.5 207.2 16.4Z" fill="#111"/>
<path d="M216.2 19.1Q214.2 20.1 213.6 21.7Q213 23.4 214.7 24.9Q216.4 26.3 219.2 22.8Q222 19.3 220.1 18.7Q218.1 18.2 216.2 19.1Z" fill="#222"/>
<path d="M-4.6 30.8Q-3.1 27.8 -3.6 26.1Q-4.2 24.3 -4.3 24.3Q-4.5 24.2 -10.7 27.7Q-16.9 31.2 -11.5 32.6Q-6.1 33.9 -4.6 30.8Z" fill="#2B2B2B"/>
<path d="M0.7 29.5Q3.4 31.5 4.5 30.6Q5.5 29.8 5.2 27.5Q4.9 25.3 1 24.6Q-3 24 -3.1 24Q-3.1 24 -2.6 25.8Q-2.1 27.5 0.7 29.5Z" fill="#0C0C0C"/>
<path d="M6.4 27.2Q6.6 29.2 9.4 29.3Q12.3 29.4 12.9 29Q13.5 28.5 13.4 27.6Q13.3 26.6 11.5 23.5Q9.7 20.5 9.5 20.6Q9.3 20.6 7.7 23Q6.1 25.3 6.4 27.2Z" fill="#222"/>
<path d="M22.4 25.7Q22.2 29.6 21.4 29.8Q20.5 30.1 18.4 29.3Q16.2 28.4 16.1 27.4Q16 26.4 18.8 23.8Q21.6 21.3 22.1 21.6Q22.6 21.9 22.4 25.7Z" fill="#161616"/>
<path d="M29.6 25.7Q29.7 23.9 29 23Q28.2 22.2 28.2 22.2Q28.2 22.2 25.9 22.2Q23.7 22.2 23.5 25.7Q23.3 29.2 25.3 29.3Q27.4 29.5 28.4 28.5Q29.4 27.5 29.6 25.7Z" fill="#2B2B2B"/>
<path d="M40 25.7Q39.9 23.1 37.6 22.9Q35.2 22.6 33.7 23.2Q32.2 23.7 32 26Q31.8 28.2 34.2 29.2Q36.5 30.2 38.3 29.2Q40.2 28.2 40 25.7Z" fill="#2B2B2B"/>
<path d="M45.9 27.6Q46.1 25.7 44.1 24.3Q42.2 23 41.6 23.3Q41.1 23.7 41.2 25.7Q41.3 27.7 43.5 28.7Q45.7 29.6 45.9 27.6Z" fill="#222"/>
<path d="M49.5 24.1Q47.8 25.8 47.6 28.1Q47.4 30.4 47.5 30.5Q47.6 30.7 49.8 31.2Q51.9 31.7 54.5 30.3Q57 29 57 28.2Q57 27.5 54.1 25Q51.2 22.5 49.5 24.1Z" fill="#161616"/>
<path d="M60 28Q60 27.4 61.4 25.3Q62.8 23.1 64.9 24.2Q67 25.3 67.5 26.5Q68.1 27.8 65.6 29.5Q63.1 31.3 61.6 30Q60 28.6 60 28Z" fill="#353535"/>
<path d="M68.9 26.1Q68.2 24.6 70.4 21.8Q72.5 19.1 73.5 22.9Q74.5 26.7 74.5 27.7Q74.4 28.7 72 28.2Q69.6 27.6 68.9 26.1Z" fill="#222"/>
<path d="M81.6 26.9Q83.4 24.6 81.6 22.8Q79.9 21 77.7 23.8Q75.6 26.6 75.5 27.6Q75.5 28.6 75.6 28.7Q75.8 28.9 77.8 29.1Q79.9 29.3 81.6 26.9Z" fill="#2B2B2B"/>
<path d="M89.7 26.3Q92.1 28.1 92.1 28.8Q92.1 29.4 87.6 31.4Q83 33.3 81.9 31.7Q80.7 30.2 82.5 27.7Q84.4 25.2 85.9 24.9Q87.4 24.5 89.7 26.3Z" fill="#353535"/>
<path d="M98.6 25.7Q97 25.4 95.4 26.7Q93.8 28.1 93.8 28.8Q93.8 29.4 94.1 30.2Q94.4 31 96 31.8Q97.5 32.6 100 31.1Q102.6 29.6 101.4 27.8Q100.2 26 98.6 25.7Z" fill="#161616"/>
<path d="M103.3 24Q101 25.5 102.1 27.3Q103.3 29.1 104.9 29.7Q106.6 30.4 108.3 29.3Q110.1 28.2 110.2 26.4Q110.2 24.6 107.9 23.5Q105.6 22.4 103.3 24Z" fill="#222"/>
<path d="M113.5 23.2Q112.2 24.6 112.2 26.5Q112.1 28.4 113.8 29.9Q115.5 31.3 118.3 31.4Q121.1 31.4 122.1 28.8Q123.2 26.2 122.1 24.4Q121 22.6 117.9 22.2Q114.7 21.8 113.5 23.2Z" fill="#111"/>
<path d="M123.4 32.1Q123.9 32.7 127.1 32.6Q130.3 32.6 130.7 31.8Q131.1 31 128.5 29.1Q125.8 27.2 125.2 27.2Q124.7 27.3 123.8 29.4Q123 31.5 123.4 32.1Z" fill="#0C0C0C"/>
<path d="M133.7 23.4Q132.2 22.3 129 24.2Q125.9 26.2 129 28.4Q132.1 30.6 133.7 29.3Q135.3 28 135.3 26.3Q135.2 24.5 133.7 23.4Z" fill="#0C0C0C"/>
<path d="M144.2 30.8Q142.6 32 139.8 30Q137 28 136.9 26.2Q136.8 24.4 139.7 22.4Q142.5 20.5 144.2 22.2Q145.9 23.9 145.9 26.8Q145.8 29.6 144.2 30.8Z" fill="#161616"/>
<path d="M152.9 29.1Q151.7 30 149.3 29.7Q146.8 29.4 146.8 26.7Q146.9 24 149.3 23.5Q151.7 23.1 152.5 24.4Q153.4 25.6 153.7 26.9Q154.1 28.1 152.9 29.1Z" fill="#0C0C0C"/>
<path d="M157 28.3Q155.2 28 154.8 26.7Q154.4 25.4 157.4 22.7Q160.3 20.1 162.1 22.3Q163.9 24.5 163.9 24.7Q163.9 24.8 161.4 26.7Q158.9 28.6 157 28.3Z" fill="#353535"/>
<path d="M170.1 32.7Q168.4 34 167.6 30.3Q166.7 26.7 168.7 26.6Q170.6 26.5 171.2 29Q171.8 31.5 170.1 32.7Z" fill="#1B1B1B"/>
<path d="M174.2 30.3Q173.6 30.2 173.4 29.2Q173.2 28.3 173.9 28Q174.6 27.6 175.1 28.2Q175.6 28.7 175.1 29.6Q174.7 30.4 174.2 30.3Z" fill="#222"/>
<path d="M184.4 24Q185.9 22 187.5 22.9Q189 23.8 187.9 25.6Q186.8 27.4 186.1 27.6Q185.5 27.8 184.2 26.9Q182.9 26.1 184.4 24Z" fill="#0C0C0C"/>
<path d="M195.2 30.7Q194.4 31.3 191.2 29.9Q188 28.6 189.2 26.5Q190.5 24.4 192.7 23.3Q194.8 22.2 195.4 26.2Q196.1 30.1 195.2 30.7Z" fill="#111"/>
<path d="M204.6 23.9Q203 22.6 199.7 22.1Q196.4 21.6 196.4 21.7Q196.3 21.8 197 25.9Q197.7 30 200.6 30.6Q203.4 31.3 204.8 28.3Q206.2 25.3 204.6 23.9Z" fill="#353535"/>
<path d="M209.7 26.5Q210.9 26.1 212.5 27.5Q214.2 28.9 214.7 29.9Q215.1 30.8 213.8 31.8Q212.5 32.8 209.7 32.7Q206.8 32.6 206.6 32.1Q206.3 31.7 207.4 29.3Q208.5 27 209.7 26.5Z" fill="#353535"/>
<path d="M-0.6 37Q1.4 36.9 1.8 34.5Q2.3 32.1 -0 30.4Q-2.4 28.7 -3.7 31.3Q-5 33.9 -3.8 35.5Q-2.6 37 -0.6 37Z" fill="#222"/>
<path d="M4.6 37.9Q5.3 38.5 8 37.7Q10.7 37 11.4 34.3Q12 31.6 9.3 31.5Q6.6 31.4 5.7 32Q4.9 32.7 4.4 35Q3.9 37.2 4.6 37.9Z" fill="#1B1B1B"/>
<path d="M13.7 34.9Q13.1 37.5 14.6 38.8Q16.1 40.2 17.6 39.5Q19 38.7 19.1 35.8Q19.2 32.9 17.3 32.2Q15.4 31.5 14.9 31.9Q14.3 32.3 13.7 34.9Z" fill="#111"/>
<path d="M26.6 38.8Q24.6 41 22.7 40.2Q20.8 39.3 20.9 35.8Q21.1 32.2 22 32Q22.9 31.7 25.2 31.9Q27.6 32.1 28.1 34.3Q28.6 36.5 26.6 38.8Z" fill="#2B2B2B"/>
<path d="M35.9 37.6Q37.9 37.3 36.9 34.5Q35.8 31.7 33.8 30.8Q31.9 30 30.8 31.1Q29.7 32.1 30.2 34Q30.6 36 32.2 37Q33.8 38 35.9 37.6Z" fill="#161616"/>
<path d="M45.2 31.5Q45.1 31.3 42.8 30.4Q40.5 29.5 39.1 30.3Q37.6 31.1 38.6 33.8Q39.6 36.5 39.9 36.7Q40.3 36.8 41.1 36.7Q41.9 36.6 43.6 34.1Q45.3 31.6 45.2 31.5Z" fill="#1B1B1B"/>
<path d="M49.4 33.1Q51.4 33.6 51.7 35.9Q52 38.3 50.2 40.4Q48.5 42.6 46.1 40.4Q43.6 38.2 45.5 35.4Q47.3 32.6 49.4 33.1Z" fill="#161616"/>
<path d="M55.4 32.2Q57.7 30.9 59.4 32.4Q61.2 33.9 61.8 35.8Q62.3 37.8 60.9 38.9Q59.5 40 56.5 39.1Q53.6 38.1 53.3 35.7Q53 33.4 55.4 32.2Z" fill="#2B2B2B"/>
<path d="M67 31.4Q64.7 33 65.2 34.7Q65.7 36.3 67 36.9Q68.2 37.4 69.7 36.8Q71.2 36.2 72.2 33.5Q73.2 30.8 73.1 30.7Q73 30.5 71.2 30.1Q69.3 29.7 67 31.4Z" fill="#0C0C0C"/>
<path d="M75.6 38.7Q73.4 37.5 74.6 34.3Q75.8 31.1 77.7 31.3Q79.6 31.4 80.6 32.8Q81.7 34.2 82.1 36.6Q82.5 39.1 82.3 39.3Q82.1 39.6 79.9 39.7Q77.8 39.9 75.6 38.7Z" fill="#111"/>
<path d="M91.9 31.3Q91.6 30.6 87.8 32.2Q84 33.8 84.4 36.1Q84.8 38.4 87.2 38.4Q89.5 38.3 90.8 35.1Q92.2 32 91.9 31.3Z" fill="#1B1B1B"/>
<path d="M92.2 35.7Q93.8 32 95.3 32.8Q96.9 33.7 98.6 36.1Q100.2 38.6 96.7 40Q93.1 41.4 91.9 40.4Q90.7 39.4 92.2 35.7Z" fill="#2B2B2B"/>
<path d="M105 33.7Q105.7 31.6 104.2 31Q102.7 30.5 100.5 31.8Q98.2 33.1 99.6 35.3Q101.1 37.4 101.8 37.6Q102.6 37.9 103.5 36.8Q104.3 35.8 105 33.7Z" fill="#353535"/>
<path d="M112.9 37.1Q113.9 36.3 114.2 34.4Q114.6 32.4 112.9 30.9Q111.2 29.5 109.3 30.6Q107.4 31.8 106.6 34.2Q105.8 36.6 108.9 37.3Q111.9 38 112.9 37.1Z" fill="#2B2B2B"/>
<path d="M116.8 38.2Q115.6 36.6 115.8 35.1Q116.1 33.6 118.3 33.6Q120.5 33.6 120.9 34.1Q121.4 34.7 121.4 36Q121.5 37.3 119.7 38.5Q117.9 39.8 116.8 38.2Z" fill="#0C0C0C"/>
<path d="M130.3 39.3Q131.2 37.4 130.8 35.8Q130.5 34.1 127.1 34.2Q123.7 34.3 123.8 35.7Q123.9 37.1 125.7 39.3Q127.5 41.6 128.4 41.3Q129.4 41.1 130.3 39.3Z" fill="#161616"/>
<path d="M141.9 35.4Q141.9 37.9 137.3 37.6Q132.8 37.3 132.4 35.5Q132 33.6 132.5 32.6Q133 31.7 134.6 30.4Q136.3 29.1 139.1 31Q141.9 33 141.9 35.4Z" fill="#2B2B2B"/>
<path d="M151.6 34.4Q151.3 31.7 149.1 31.5Q146.9 31.2 145.5 32.2Q144.2 33.2 144.2 35.3Q144.2 37.4 144.4 37.8Q144.6 38.2 144.9 38.5Q145.1 38.7 148.6 37.9Q152 37.1 151.6 34.4Z" fill="#353535"/>
<path d="M154 30.5Q152.9 31.4 153.2 34.2Q153.6 37 155.1 37.9Q156.5 38.8 158.1 38.1Q159.6 37.4 159.8 37.1Q160 36.7 159.2 33.5Q158.4 30.2 156.8 29.9Q155.1 29.6 154 30.5Z" fill="#222"/>
<path d="M160.8 33.1Q161.6 36.4 164.3 35.5Q166.9 34.7 166.9 34.6Q167 34.6 166.1 30.6Q165.2 26.6 164.9 26.5Q164.5 26.3 162.3 28Q160 29.8 160.8 33.1Z" fill="#222"/>
<path d="M168.7 35.2Q168.7 35.1 170.6 33.7Q172.5 32.3 174.1 32.6Q175.7 33 176.4 35.5Q177 37.9 174.8 38.7Q172.6 39.5 170.6 37.4Q168.6 35.3 168.7 35.2Z" fill="#222"/>
<path d="M179.2 33.7Q178.9 32.7 179.4 31.6Q180 30.6 180.3 30.7Q180.7 30.8 181.3 31.2Q181.9 31.6 181.8 32.8Q181.6 34 181.2 34.5Q180.7 35 180.1 34.8Q179.4 34.7 179.2 33.7Z" fill="#353535"/>
<path d="M192.9 34.4Q193.6 32.5 190.6 31.2Q187.6 30 186.8 30.2Q186.1 30.4 185.8 33.2Q185.6 36 188.9 36.1Q192.1 36.3 192.9 34.4Z" fill="#0C0C0C"/>
<path d="M200.7 35.9Q200.7 35.8 200.6 35.5Q200.4 35.2 199.1 34.9Q197.8 34.6 197.4 34.9Q197 35.1 196.6 36.1Q196.3 37.1 196.3 37.2Q196.4 37.4 197.9 38Q199.3 38.6 200 37.3Q200.7 36.1 200.7 35.9Z" fill="#222"/>
<path d="M212.5 36.7Q212.5 35.3 209.6 35.2Q206.7 35.1 206.6 35.4Q206.6 35.6 207.7 37Q208.8 38.4 210.7 38.3Q212.6 38.1 212.5 36.7Z" fill="#161616"/>
<path d="M214.7 36.8Q214.7 35.7 215.8 34.9Q216.9 34 218.2 34.6Q219.5 35.1 218.4 38Q217.4 40.8 216.4 40.6Q215.5 40.3 215.1 39.1Q214.8 38 214.7 36.8Z" fill="#222"/>
<path d="M-5.3 44.7Q-4.8 46.6 -5.2 48.2Q-5.6 49.9 -6.7 50.1Q-7.8 50.2 -9.1 47.1Q-10.3 44 -8.1 43.5Q-5.9 42.9 -5.3 44.7Z" fill="#111"/>
<path d="M3.7 42.4Q3.9 44.2 0.3 45.3Q-3.4 46.5 -4.1 44.1Q-4.8 41.7 -3.7 40.5Q-2.7 39.2 -0.5 39.1Q1.8 39.1 2.6 39.9Q3.4 40.7 3.7 42.4Z" fill="#161616"/>
<path d="M5.6 42.2Q5.8 43.9 6.1 44.5Q6.4 45.1 7.4 45.8Q8.5 46.5 11.3 46Q14.2 45.5 14.6 43.7Q15 42 13.2 40.4Q11.5 38.8 8.4 39.7Q5.4 40.6 5.6 42.2Z" fill="#1B1B1B"/>
<path d="M23.8 42.9Q23.7 42.5 22 41.8Q20.3 41 18.7 41.8Q17.1 42.6 16.7 44.2Q16.4 45.8 17.4 47.2Q18.4 48.6 21.2 45.9Q23.9 43.2 23.8 42.9Z" fill="#111"/>
<path d="M32 42Q32.7 39.8 31.1 38.8Q29.5 37.8 27.8 39.8Q26 41.7 26.2 42Q26.3 42.4 27.4 43.8Q28.5 45.3 29.9 44.8Q31.4 44.3 32 42Z" fill="#161616"/>
<path d="M38.9 39.3Q39.2 39.5 38.4 43.3Q37.5 47.2 35 46Q32.6 44.8 33.3 42.4Q34 39.9 36.3 39.5Q38.5 39.1 38.9 39.3Z" fill="#111"/>
<path d="M39.5 43.5Q40.4 39.6 41.4 39.5Q42.3 39.3 44.9 41.7Q47.4 44 47.5 44.3Q47.5 44.5 46.1 47.2Q44.6 49.9 41.6 48.8Q38.7 47.7 38.6 47.6Q38.6 47.5 39.5 43.5Z" fill="#222"/>
<path d="M49.3 43.9Q49.3 43.6 51.2 41.3Q53 39 56.3 40.1Q59.5 41.2 59.2 41.9Q59 42.5 56.2 44Q53.4 45.6 51.4 44.9Q49.4 44.2 49.3 43.9Z" fill="#222"/>
<path d="M67.4 42.3Q67.8 43.9 65.3 47.9Q62.9 51.8 62.5 51.8Q62.1 51.8 61.2 47.4Q60.3 43 60.5 42.4Q60.8 41.7 62.3 40.5Q63.9 39.3 65.5 39.9Q67.1 40.6 67.4 42.3Z" fill="#0C0C0C"/>
<path d="M69.8 42.3Q70.1 43.6 71.7 45.1Q73.3 46.7 73.9 46.5Q74.5 46.3 75.5 44Q76.5 41.8 74.6 40.7Q72.7 39.7 71.1 40.3Q69.6 41 69.8 42.3Z" fill="#1B1B1B"/>
<path d="M76.7 44.5Q75.5 47.2 78.2 48.3Q81 49.5 81.7 46.8Q82.4 44.1 82.4 42.8Q82.3 41.5 80.1 41.7Q77.9 41.8 76.7 44.5Z" fill="#1B1B1B"/>
<path d="M91 47.3Q92.4 46.9 92 44.9Q91.7 42.9 90.6 42Q89.6 41.1 87.3 41.2Q85 41.3 84.7 41.5Q84.5 41.8 84.6 43Q84.6 44.1 87.2 46Q89.7 47.8 91 47.3Z" fill="#111"/>
<path d="M94.5 47Q94.3 46.9 93.9 44.6Q93.6 42.3 97 40.9Q100.5 39.5 101.4 39.8Q102.2 40 102.8 41.7Q103.4 43.4 102.9 44.4Q102.4 45.4 98.6 46.3Q94.7 47.2 94.5 47Z" fill="#161616"/>
<path d="M111 40.9Q111.4 38.6 108.9 38Q106.3 37.5 105.5 38.5Q104.7 39.5 105.2 40.9Q105.7 42.3 108.2 42.7Q110.6 43.1 111 40.9Z" fill="#353535"/>
<path d="M113.4 37.7Q114.4 36.8 115.9 38.8Q117.3 40.8 117 43.2Q116.6 45.6 115.5 45.9Q114.5 46.2 113 45Q111.5 43.9 111.9 41.2Q112.4 38.5 113.4 37.7Z" fill="#111"/>
<path d="M118.1 43.2Q118.4 41 120.5 39.5Q122.6 38 124.5 40.4Q126.4 42.7 124.7 44.9Q123 47.1 120.4 46.3Q117.7 45.4 118.1 43.2Z" fill="#2B2B2B"/>
<path d="M141.8 39.2Q142 39.6 138.3 42.2Q134.7 44.8 132.8 43.5Q131 42.1 131.9 40.2Q132.9 38.2 137.2 38.5Q141.6 38.7 141.8 39.2Z" fill="#111"/>
<path d="M143 40.5Q142.7 40.2 138.9 42.9Q135.1 45.6 135.3 46.2Q135.5 46.8 138 47.4Q140.5 48 142.3 46Q144.2 43.9 143.7 42.3Q143.3 40.8 143 40.5Z" fill="#111"/>
<path d="M152 41.3Q152.6 41.7 152.5 42.1Q152.4 42.5 151.5 43.5Q150.6 44.5 149.8 43.7Q148.9 42.8 148.8 42.2Q148.6 41.6 150 41.3Q151.5 41 152 41.3Z" fill="#2B2B2B"/>
<path d="M159.3 40.9Q160.6 40.2 162.6 42.9Q164.5 45.5 162.3 46.1Q160.2 46.7 158.8 45Q157.5 43.2 157.7 42.4Q157.9 41.5 159.3 40.9Z" fill="#1B1B1B"/>
<path d="M164.8 39.8Q164.7 39.9 165.6 41Q166.4 42.1 166.6 42.3Q166.8 42.4 167.3 42.3Q167.7 42.2 168 41.4Q168.4 40.6 167.6 39.8Q166.9 39 165.9 39.3Q164.9 39.7 164.8 39.8Z" fill="#222"/>
<path d="M176.2 43.2Q175.3 43.5 174.9 44.4Q174.5 45.3 175.3 46.1Q176.1 46.9 177.6 45.9Q179 45 178.7 44.1Q178.4 43.2 177.7 43Q177.1 42.8 176.2 43.2Z" fill="#2B2B2B"/>
<path d="M190.8 39.2Q190.8 39 188.8 38.9Q186.9 38.8 186.2 39.5Q185.6 40.2 186.1 41.3Q186.5 42.5 187.1 43Q187.7 43.4 188.8 43.2Q190 43.1 190.5 41.2Q190.9 39.4 190.8 39.2Z" fill="#161616"/>
<path d="M197.1 44.2Q198.8 43.2 198.8 42.5Q198.7 41.7 196.7 40.9Q194.6 40 194.1 42.2Q193.6 44.3 194.5 44.7Q195.3 45.2 197.1 44.2Z" fill="#0C0C0C"/>
<path d="M203.6 43.4Q204.2 43.8 205.9 44Q207.7 44.1 208.2 43.6Q208.6 43 207.9 41.4Q207.3 39.7 206.2 38.3Q205.2 37 204.1 39.1Q202.9 41.2 203 42.1Q203.1 43.1 203.6 43.4Z" fill="#222"/>
<path d="M210.8 39Q212.1 38.8 212.4 39.9Q212.8 40.9 211.6 41.2Q210.5 41.6 210 40.3Q209.5 39.1 210.8 39Z" fill="#111"/>
<path d="M0.3 46Q3.4 45 3.7 45.6Q3.9 46.1 1.4 49.1Q-1.1 52 -2.4 51.4Q-3.7 50.8 -3.3 48.9Q-2.8 47 0.3 46Z" fill="#2B2B2B"/>
<path d="M6.1 47.7Q5.2 47.1 2.6 50.1Q0.1 53.1 0.4 53.6Q0.8 54.2 3.5 54.6Q6.1 55 6.9 54.5Q7.6 54 7.4 51.2Q7.1 48.4 6.1 47.7Z" fill="#353535"/>
<path d="M9.5 51Q9.2 48.5 11.7 48Q14.2 47.6 15.1 48.8Q16 50.1 16.5 51.6Q17 53 16.1 53.9Q15.2 54.7 12.4 54.1Q9.7 53.5 9.5 51Z" fill="#1B1B1B"/>
<path d="M26.7 49.6Q26 52.6 24.7 52.9Q23.3 53.2 21.5 53.1Q19.7 53 19 51.2Q18.4 49.4 21.5 46.3Q24.7 43.2 26 45Q27.3 46.7 26.7 49.6Z" fill="#0C0C0C"/>
<path d="M34.5 47.1Q37 48.3 37 48.4Q37.1 48.4 35.9 50.1Q34.7 51.8 32.4 53Q30.1 54.2 28.9 53.5Q27.6 52.7 28.2 49.9Q28.9 47.1 30.5 46.5Q32 45.9 34.5 47.1Z" fill="#2B2B2B"/>
<path d="M37.3 51.4Q38.3 50 40.7 50.9Q43.1 51.8 43.2 52.1Q43.2 52.5 41.5 54.4Q39.8 56.4 38.1 54.6Q36.4 52.8 37.3 51.4Z" fill="#1B1B1B"/>
<path d="M48.8 53.8Q46.3 51.7 46.2 51.2Q46.1 50.8 47.5 48Q49 45.3 51 46Q53 46.6 54.9 50Q56.8 53.4 54 54.6Q51.3 55.8 48.8 53.8Z" fill="#0C0C0C"/>
<path d="M60.1 47.6Q60.9 51.8 59.9 52.2Q58.9 52.7 58.2 52.7Q57.5 52.6 55.7 49.5Q53.9 46.3 56.6 44.9Q59.2 43.4 60.1 47.6Z" fill="#222"/>
<path d="M70.5 46.2Q68.5 44.3 66.1 48.3Q63.6 52.3 64.8 52.9Q66 53.5 68.8 52.2Q71.5 50.9 72 49.5Q72.5 48.1 70.5 46.2Z" fill="#111"/>
<path d="M74.5 48.6Q73.8 48.8 73.4 50Q73 51.2 74.7 53Q76.5 54.8 78.6 53.8Q80.8 52.8 80.5 51.7Q80.2 50.6 77.6 49.5Q75.1 48.4 74.5 48.6Z" fill="#222"/>
<path d="M87.1 50.8Q89.4 48.5 86.7 46.6Q84 44.7 83.3 47.3Q82.6 49.9 83 51Q83.3 52.1 84.1 52.6Q84.9 53 87.1 50.8Z" fill="#161616"/>
<path d="M93.8 54.5Q92.5 55.2 89.4 55.2Q86.2 55.3 85.8 54.7Q85.4 54.1 87.8 51.6Q90.2 49.2 91.7 48.6Q93.2 48.1 93.4 48.3Q93.6 48.5 94.4 51.1Q95.2 53.8 93.8 54.5Z" fill="#0C0C0C"/>
<path d="M99.1 54.7Q96.5 53.4 95.7 50.7Q94.9 48 98.8 47.2Q102.6 46.3 103.2 49.6Q103.7 52.9 102.7 54.5Q101.8 56.1 99.1 54.7Z" fill="#111"/>
<path d="M112 46.1Q110.6 45 107.8 44.6Q104.9 44.1 104.5 45.2Q104 46.2 104.5 49.4Q105 52.6 108.4 51.7Q111.8 50.8 112.6 49Q113.4 47.2 112 46.1Z" fill="#2B2B2B"/>
<path d="M116.3 48.3Q115.4 48.5 114.7 50.1Q114 51.7 114.4 52.4Q114.7 53.2 118.2 54.1Q121.7 54.9 122.5 54.2Q123.2 53.5 122.6 51.5Q121.9 49.4 119.6 48.7Q117.2 48 116.3 48.3Z" fill="#0C0C0C"/>
<path d="M131.7 45.3Q130.1 44.2 129.2 44.4Q128.3 44.6 126.9 46.5Q125.4 48.4 126.1 50.3Q126.7 52.3 127.6 52.6Q128.6 52.9 130.5 52.8Q132.4 52.7 133 50.1Q133.6 47.4 133.4 47Q133.3 46.5 131.7 45.3Z" fill="#0C0C0C"/>
<path d="M137.8 48Q140.3 48.7 140.8 51.5Q141.3 54.4 138.8 54.9Q136.4 55.5 135.1 54.7Q133.9 53.8 134.6 50.6Q135.3 47.4 137.8 48Z" fill="#353535"/>
<path d="M146.3 52.9Q149 51.9 148.9 50.5Q148.7 49.2 146.7 47.1Q144.6 45 143 46.8Q141.4 48.7 141.8 51.1Q142.2 53.6 142.9 53.8Q143.6 54 146.3 52.9Z" fill="#353535"/>
<path d="M152.3 51.7Q152.1 51.6 151.9 50.2Q151.8 48.8 154 46.3Q156.2 43.7 157.7 45.7Q159.2 47.6 158.7 49.5Q158.1 51.4 155.3 51.6Q152.4 51.9 152.3 51.7Z" fill="#2B2B2B"/>
<path d="M160 49.8Q160.5 48.1 162.7 47.4Q165 46.7 165.5 47Q166.1 47.3 164.9 50.3Q163.7 53.3 163.3 53.4Q162.9 53.6 161.2 52.6Q159.5 51.6 160 49.8Z" fill="#222"/>
<path d="M168.1 54.4Q166.4 53.7 167.3 51.3Q168.3 48.8 169.1 48.6Q169.9 48.4 171.3 49.9Q172.8 51.3 172.8 51.5Q172.8 51.7 171.3 53.4Q169.8 55.2 168.1 54.4Z" fill="#1B1B1B"/>
<path d="M182.8 48.8Q183.4 49.2 183.3 50.4Q183.1 51.5 181.8 52.5Q180.5 53.6 179.4 52.5Q178.2 51.3 178.2 51.1Q178.2 51 180.2 49.7Q182.2 48.3 182.8 48.8Z" fill="#161616"/>
<path d="M192.2 51.9Q191.9 50.8 191.4 50.5Q190.8 50.2 190 50.3Q189.1 50.4 189 51.3Q189 52.1 189.6 52.9Q190.3 53.7 191.4 53.4Q192.5 53 192.2 51.9Z" fill="#0C0C0C"/>
<path d="M201.1 47.5Q201.5 47.8 201.4 49.8Q201.3 51.8 200.4 52.1Q199.5 52.5 199.1 52.1Q198.6 51.8 198.2 50.4Q197.8 48.9 199.3 48.1Q200.8 47.3 201.1 47.5Z" fill="#2B2B2B"/>
<path d="M204.4 49.9Q204.5 48.1 205.6 48.2Q206.7 48.2 207.1 49.6Q207.5 50.9 206.6 51.4Q205.7 51.9 205 51.8Q204.4 51.7 204.4 49.9Z" fill="#2B2B2B"/>
<path d="M212.8 49.4Q212.4 49.3 212.1 48.1Q211.7 46.9 212 46.6Q212.2 46.3 213.1 46Q214 45.7 214.6 45.9Q215.2 46.1 215.7 46.9Q216.3 47.7 214.8 48.6Q213.2 49.5 212.8 49.4Z" fill="#0C0C0C"/>
<path d="M-1.8 55.1Q-2.2 54.6 -3.6 53.9Q-5 53.3 -6.3 53.5Q-7.6 53.6 -10 55.7Q-12.4 57.8 -9.6 60.2Q-6.7 62.6 -4.6 61.6Q-2.4 60.7 -1.9 58.2Q-1.5 55.7 -1.8 55.1Z" fill="#1B1B1B"/>
<path d="M3.1 62Q6.2 62.2 6.1 59.4Q6.1 56.7 3.1 56.2Q0.2 55.7 -0.3 58.4Q-0.8 61.1 -0.4 61.4Q0 61.7 3.1 62Z" fill="#1B1B1B"/>
<path d="M8.5 63.5Q9.6 65.1 12.1 63.5Q14.5 62 14.8 59.6Q15.2 57.1 12.1 56.4Q9 55.8 8.2 56.3Q7.4 56.9 7.4 59.4Q7.5 62 8.5 63.5Z" fill="#222"/>
<path d="M17.6 59.9Q17.9 57.6 18.9 56.7Q19.9 55.8 21.4 55.9Q23 56 23.2 59.4Q23.5 62.8 22.2 63.9Q21 65 19.1 63.6Q17.3 62.3 17.6 59.9Z" fill="#1B1B1B"/>
<path d="M27.5 56Q28.6 56.6 29.4 58.2Q30.1 59.8 29.6 61.3Q29.1 62.7 26.8 62.7Q24.5 62.7 24.3 59.3Q24.1 55.9 25.2 55.6Q26.4 55.3 27.5 56Z" fill="#111"/>
<path d="M32.9 54.1Q30.5 55.4 31.4 57.2Q32.2 59 35.6 59.5Q38.9 60 39.3 58.8Q39.7 57.5 37.5 55.2Q35.3 52.9 32.9 54.1Z" fill="#2B2B2B"/>
<path d="M41.2 61.8Q41.5 62 45.7 60.4Q50 58.8 50.1 57.9Q50.3 57 47.8 54.9Q45.3 52.8 43.1 55.4Q40.9 57.9 40.5 59.2Q40.1 60.4 40.4 61.1Q40.8 61.7 41.2 61.8Z" fill="#161616"/>
<path d="M52 58.4Q51.9 59.2 52.3 61Q52.6 62.8 56 62.2Q59.4 61.6 59.1 58.5Q58.8 55.3 58.1 55.3Q57.4 55.3 54.8 56.4Q52.2 57.6 52 58.4Z" fill="#0C0C0C"/>
<path d="M65.3 62.5Q61.6 63.6 61 62.6Q60.4 61.6 60.1 58.2Q59.7 54.7 60.8 54.2Q62 53.7 62.4 53.7Q62.8 53.7 64 54.3Q65.3 54.9 67.1 58.2Q68.9 61.4 65.3 62.5Z" fill="#1B1B1B"/>
<path d="M70.4 61.1Q69.9 60.8 68.1 57.6Q66.3 54.4 69.1 53.1Q72 51.7 74 53.8Q76 55.9 75 58Q74 60 72.5 60.7Q70.9 61.5 70.4 61.1Z" fill="#161616"/>
<path d="M84.3 55.7Q84.7 56.3 84.7 57.8Q84.7 59.2 83 61.3Q81.2 63.4 78.1 61.9Q75 60.4 76 58.4Q77 56.5 79.6 55.3Q82.1 54.1 83 54.6Q83.9 55.1 84.3 55.7Z" fill="#2B2B2B"/>
<path d="M92.5 58.5Q92.5 56.2 89.4 56.3Q86.2 56.3 86.2 57.7Q86.2 59.2 87.8 60.6Q89.4 62.1 90.9 61.4Q92.5 60.7 92.5 58.5Z" fill="#161616"/>
<path d="M94.6 58.1Q94.1 58.3 94.1 59.1Q94.1 59.8 94.7 60.1Q95.3 60.4 96.1 59.7Q96.8 59 96.8 58.8Q96.7 58.7 95.9 58.3Q95 57.8 94.6 58.1Z" fill="#0C0C0C"/>
<path d="M104.2 57.2Q104.3 57.6 106 59.3Q107.7 61 110.2 60.1Q112.7 59.2 112.7 56.6Q112.7 54.1 112.3 53.3Q112 52.5 108.9 53.3Q105.8 54.1 105 55.5Q104.2 56.9 104.2 57.2Z" fill="#0C0C0C"/>
<path d="M120.5 58.5Q119 61.2 116.7 60.3Q114.3 59.4 114.2 56.7Q114.2 53.9 118.1 54.9Q122 55.8 120.5 58.5Z" fill="#353535"/>
<path d="M126.5 55.2Q125.3 54.8 124.5 55.6Q123.6 56.5 122 59.4Q120.4 62.3 120.5 62.4Q120.5 62.5 123.4 63.8Q126.3 65.1 127.5 64.3Q128.8 63.5 128.2 59.5Q127.6 55.6 126.5 55.2Z" fill="#222"/>
<path d="M133.9 56.4Q132.8 55.7 130.7 55.8Q128.6 56 129.1 59.5Q129.6 63.1 130.7 63.2Q131.8 63.3 133.3 62.6Q134.8 61.9 134.9 59.5Q135 57.2 133.9 56.4Z" fill="#222"/>
<path d="M143.3 59.6Q143.6 62.6 141.4 63.4Q139.3 64.3 138.1 63.1Q136.9 62 137 59.6Q137.1 57.3 139.3 56.7Q141.5 56.2 142.2 56.4Q142.9 56.6 143.3 59.6Z" fill="#222"/>
<path d="M150.2 54.3Q150.1 54.2 147.2 55.3Q144.4 56.4 144.8 59.4Q145.2 62.4 146.8 63.4Q148.4 64.3 148.7 64.2Q149 64.1 150.3 61.4Q151.5 58.6 151 56.5Q150.4 54.5 150.2 54.3Z" fill="#0C0C0C"/>
<path d="M155.4 56.6Q155.1 55.6 156.6 55.4Q158 55.3 158.9 55.9Q159.8 56.4 159.3 57.8Q158.8 59.2 157.2 58.4Q155.7 57.6 155.4 56.6Z" fill="#1B1B1B"/>
<path d="M163.8 61.3Q163.7 61.1 164.3 59.6Q164.8 58 165.1 57.9Q165.3 57.9 166.6 58.4Q167.8 58.9 168.1 59.7Q168.3 60.4 166.1 61Q163.8 61.5 163.8 61.3Z" fill="#161616"/>
<path d="M178.6 60.4Q178.3 60.7 175.9 60.9Q173.5 61 173 60.4Q172.5 59.7 172 58.4Q171.6 57.2 173.4 55.1Q175.1 53 176.9 54.8Q178.7 56.5 178.8 58.3Q178.9 60.1 178.6 60.4Z" fill="#1B1B1B"/>
<path d="M184.6 58.6Q186.1 58.7 186.1 58.7Q186.1 58.7 186.5 57.7Q187 56.6 186.2 55.5Q185.4 54.5 184.2 55.4Q183 56.4 183 57.5Q183.1 58.5 184.6 58.6Z" fill="#111"/>
<path d="M195.2 57.6Q194.6 57.2 193 57.7Q191.3 58.3 190.8 59.5Q190.3 60.7 191.9 61.5Q193.6 62.3 194.6 61.5Q195.7 60.7 195.7 59.3Q195.7 58 195.2 57.6Z" fill="#2B2B2B"/>
<path d="M201.7 56.8Q203.2 56.3 204.3 56.5Q205.4 56.6 206 58.7Q206.5 60.9 205.9 62.5Q205.2 64.2 204.8 64.1Q204.4 63.9 202.4 62.5Q200.3 61.1 200.3 59.2Q200.3 57.4 201.7 56.8Z" fill="#1B1B1B"/>
<path d="M207.4 58.2Q206.8 55.7 208.6 54.7Q210.5 53.7 211.4 54Q212.4 54.2 213.3 56.8Q214.2 59.3 211.2 60Q208.1 60.7 207.4 58.2Z" fill="#0C0C0C"/>
<path d="M215.1 56.2Q214.2 53.8 217.4 51.8Q220.7 49.8 238.8 56.3Q257 62.8 240.4 62.3Q223.8 61.8 220.1 60.4Q216.4 58.9 216.2 58.7Q216 58.5 215.1 56.2Z" fill="#161616"/>
<path d="M-0.3 65.4Q-0.9 63.4 -1.2 63.1Q-1.6 62.9 -3.5 63.8Q-5.5 64.6 -5.4 66.2Q-5.4 67.7 -4.8 68.6Q-4.1 69.6 -1.9 68.5Q0.3 67.5 -0.3 65.4Z" fill="#353535"/>
<path d="M8 66.8Q8.2 66.2 7 64.7Q5.9 63.1 3 62.9Q0.1 62.6 0.8 65Q1.5 67.4 3.2 68Q5 68.6 6.4 67.9Q7.8 67.3 8 66.8Z" fill="#353535"/>
<path d="M10.1 67.4Q10.2 66.8 13 65.1Q15.7 63.4 17.9 65Q20.1 66.6 20.8 68.7Q21.4 70.8 17 71.5Q12.5 72.2 11.2 70.1Q9.9 68 10.1 67.4Z" fill="#222"/>
<path d="M23.3 69.9Q23.1 69.7 22.5 67.9Q22 66.2 23.3 65.1Q24.5 64 26.8 63.9Q29.1 63.9 29.5 66.1Q29.9 68.2 29.3 68.8Q28.8 69.5 26.1 69.7Q23.4 70 23.3 69.9Z" fill="#111"/>
<path d="M37.9 65.4Q39.3 62.5 39 61.9Q38.7 61.3 35.4 60.8Q32.1 60.3 31.5 61.9Q31 63.4 31.4 65.8Q31.8 68.2 34.1 68.2Q36.4 68.2 37.9 65.4Z" fill="#353535"/>
<path d="M40.8 63.3Q41.2 63.5 44 66.3Q46.9 69.2 46.5 69.8Q46.1 70.4 43.3 71.1Q40.5 71.7 39 70.2Q37.6 68.7 39 66Q40.5 63.2 40.8 63.3Z" fill="#0C0C0C"/>
<path d="M45.1 65.1Q42.5 62.6 46 61.3Q49.5 60 49.8 61.6Q50.1 63.2 50 64.8Q49.9 66.5 48.7 67.1Q47.6 67.7 45.1 65.1Z" fill="#111"/>
<path d="M60.2 66.2Q60.8 64 60.2 63Q59.7 62.1 56.1 62.7Q52.4 63.4 52.3 65.3Q52.1 67.3 54.6 68.4Q57.2 69.5 58.3 69Q59.5 68.5 60.2 66.2Z" fill="#161616"/>
<path d="M61.7 66.5Q62.3 64.5 65.4 63.6Q68.5 62.7 69 62.9Q69.4 63.2 69.5 65.7Q69.6 68.3 68.2 69.4Q66.7 70.6 63.9 69.5Q61.1 68.5 61.7 66.5Z" fill="#1B1B1B"/>
<path d="M71.8 65.6Q71.9 68.5 74.1 69.5Q76.2 70.5 78.7 69Q81.2 67.6 81 65.9Q80.8 64.3 77.7 62.8Q74.7 61.3 73.2 62.1Q71.7 62.8 71.8 65.6Z" fill="#2B2B2B"/>
<path d="M88.7 64.7Q89 66.3 86.9 67.2Q84.7 68.1 83.8 67.6Q82.9 67.1 82.8 65.6Q82.6 64.2 84.1 62.3Q85.6 60.5 87 61.8Q88.4 63 88.7 64.7Z" fill="#2B2B2B"/>
<path d="M94.5 62.2Q92.7 61.3 91.2 62Q89.7 62.6 90.1 64.5Q90.4 66.3 91.3 66.8Q92.2 67.2 93.8 66.6Q95.4 66.1 95.9 64.6Q96.3 63 94.5 62.2Z" fill="#111"/>
<path d="M100 62.2Q101.8 60.5 103.4 62Q104.9 63.6 104.9 65.6Q104.9 67.5 103.5 69.1Q102 70.6 101.9 70.6Q101.9 70.6 99.6 68.5Q97.3 66.4 97.7 65.1Q98.1 63.8 100 62.2Z" fill="#353535"/>
<path d="M118.3 63.2Q118.3 63.3 117.4 65.8Q116.6 68.3 116.5 68.4Q116.5 68.5 115.1 69.2Q113.8 70 111 68.9Q108.3 67.8 108.3 65.5Q108.3 63.2 110.9 62.3Q113.6 61.4 115.9 62.2Q118.2 63.1 118.3 63.2Z" fill="#1B1B1B"/>
<path d="M122.8 65.5Q120.4 64.4 119.6 66.7Q118.8 68.9 122.3 69.3Q125.7 69.7 125.5 68.2Q125.3 66.6 122.8 65.5Z" fill="#353535"/>
<path d="M128.4 65.5Q127.3 66.2 127.5 67.9Q127.7 69.5 128 70.5Q128.3 71.5 129.1 71.7Q129.9 71.8 131.3 71.4Q132.6 71 132.1 68Q131.6 64.9 130.6 64.8Q129.5 64.8 128.4 65.5Z" fill="#222"/>
<path d="M132.9 67.9Q133.4 71.1 135.3 71.2Q137.3 71.4 137.6 70.6Q137.9 69.8 138 67.7Q138.1 65.6 136.8 64.4Q135.6 63.2 134 63.9Q132.4 64.7 132.9 67.9Z" fill="#0C0C0C"/>
<path d="M144 66.8Q144.5 67.1 144.3 67.4Q144.2 67.7 143.1 68Q142.1 68.2 142.2 67.6Q142.2 67 142.9 66.8Q143.5 66.5 144 66.8Z" fill="#161616"/>
<path d="M153.4 62.6Q152.9 63.8 154 64.4Q155 65.1 155.8 64.8Q156.7 64.6 156.7 63.9Q156.8 63.1 156.7 63Q156.7 62.8 155.3 62.1Q154 61.4 153.4 62.6Z" fill="#222"/>
<path d="M168.5 64.3Q168.9 63.3 168.7 63Q168.4 62.7 166.6 63.1Q164.9 63.6 164.8 64.3Q164.8 65 165 65.2Q165.3 65.4 166.6 65.4Q168 65.3 168.5 64.3Z" fill="#222"/>
<path d="M179 66.7Q179.4 69.8 175.9 69.7Q172.5 69.6 172.1 69Q171.7 68.4 172.7 66.2Q173.7 64 176.1 63.8Q178.6 63.7 179 66.7Z" fill="#161616"/>
<path d="M183.1 68.1Q183.1 68.1 182.9 66.6Q182.7 65 182.8 64.9Q183 64.7 184.3 64.8Q185.6 64.9 185.4 66.4Q185.2 68 184.2 68.1Q183.1 68.2 183.1 68.1Z" fill="#111"/>
<path d="M188.6 66.8Q188.4 68.2 189 68.6Q189.6 68.9 190.3 68.7Q191 68.5 191 67.5Q191 66.4 189.9 65.9Q188.8 65.4 188.7 65.4Q188.7 65.4 188.6 66.8Z" fill="#161616"/>
<path d="M200.9 64.6Q198.6 63 197 64.2Q195.3 65.5 195.3 67.9Q195.2 70.3 195.7 70.7Q196.3 71.1 199.8 68.6Q203.2 66.2 200.9 64.6Z" fill="#111"/>
<path d="M207.5 63.5Q206.7 65.5 207.8 66.9Q209 68.4 209.1 68.3Q209.2 68.3 212 64.4Q214.8 60.6 214.6 60.4Q214.4 60.2 211.4 60.9Q208.3 61.6 207.5 63.5Z" fill="#0C0C0C"/>
<path d="M212.9 68Q210.6 68.2 213 65Q215.4 61.8 218.7 63.1Q222 64.4 218.6 66.1Q215.2 67.8 212.9 68Z" fill="#353535"/>
<path d="M2.8 69.3Q4.4 69.9 2.8 73.1Q1.1 76.4 -1.1 75.9Q-3.4 75.4 -3.6 73.2Q-3.8 71.1 -1.4 70Q1.1 68.8 2.8 69.3Z" fill="#0C0C0C"/>
<path d="M7.2 70.1Q8.6 69.5 9.7 71.3Q10.8 73.1 10.7 74.4Q10.7 75.7 9.2 77Q7.7 78.4 5.4 78Q3.2 77.7 2.9 77.4Q2.6 77.1 4.3 73.9Q5.9 70.7 7.2 70.1Z" fill="#2B2B2B"/>
<path d="M12.5 74.5Q12.5 76 15.7 78.1Q18.9 80.2 20.1 78.8Q21.2 77.3 21.6 74.6Q22 71.8 21.8 71.6Q21.6 71.4 17.1 72.2Q12.6 72.9 12.5 74.5Z" fill="#2B2B2B"/>
<path d="M22.9 74.8Q23.2 72.1 26.3 71.8Q29.3 71.5 30 73.8Q30.7 76.1 29 77.5Q27.3 78.9 24.9 78.1Q22.5 77.4 22.9 74.8Z" fill="#0C0C0C"/>
<path d="M37.7 71.5Q36.3 70 34.1 70Q32 70 31.4 70.7Q30.8 71.3 31.4 73.5Q32.1 75.6 34.2 77.2Q36.3 78.8 36.4 78.8Q36.5 78.8 37.1 78.2Q37.7 77.6 38.4 75.3Q39.1 73 37.7 71.5Z" fill="#222"/>
<path d="M43.7 72.9Q46.4 72.3 46.9 74.8Q47.4 77.2 46.6 78Q45.7 78.8 42.6 78.5Q39.5 78.1 40.2 75.9Q41 73.6 43.7 72.9Z" fill="#161616"/>
<path d="M48.1 70.8Q47.7 71.4 48.3 74.3Q48.9 77.1 50.7 78.1Q52.6 79.1 54.6 78.2Q56.7 77.3 56.7 74.1Q56.7 70.8 54.1 69.7Q51.5 68.5 50 69.3Q48.6 70.1 48.1 70.8Z" fill="#1B1B1B"/>
<path d="M63.2 71.5Q60.3 70.4 59.2 70.8Q58.1 71.3 58.1 74.2Q58.1 77 59.6 78.1Q61.1 79.1 63.5 77.5Q66 75.8 66 74.2Q66.1 72.6 63.2 71.5Z" fill="#2B2B2B"/>
<path d="M70.2 72.1Q69 73.1 68.9 74.5Q68.8 75.9 70.2 77.3Q71.6 78.8 73.8 78.1Q76.1 77.4 75.5 75Q74.9 72.6 73.2 71.8Q71.5 71 70.2 72.1Z" fill="#111"/>
<path d="M81.8 72Q81.4 71.8 80.6 72.3Q79.8 72.7 80.1 73.7Q80.3 74.7 80.5 74.8Q80.6 74.8 81.7 74.7Q82.7 74.6 82.4 73.4Q82.1 72.2 81.8 72Z" fill="#161616"/>
<path d="M90.5 68.4Q89.7 68 87.6 68.9Q85.4 69.7 86.3 73Q87.1 76.3 87.5 76.5Q87.8 76.6 89.6 75.3Q91.3 74 91.3 71.4Q91.3 68.8 90.5 68.4Z" fill="#0C0C0C"/>
<path d="M94.4 68.4Q93 68.9 93 71.4Q93 73.9 95.1 74.1Q97.1 74.3 98.8 73.3Q100.6 72.4 98.2 70.1Q95.8 67.9 94.4 68.4Z" fill="#353535"/>
<path d="M112.8 75Q112.7 72.2 110.2 71.1Q107.7 70.1 106.2 71.7Q104.6 73.3 105.9 75.9Q107.3 78.5 110.1 78.2Q113 77.9 112.8 75Z" fill="#161616"/>
<path d="M116.2 71.2Q117.5 70.4 119.8 72.7Q122.1 74.9 119.1 76.8Q116.2 78.7 115.7 78.3Q115.2 78 115.1 74.9Q115 71.9 116.2 71.2Z" fill="#222"/>
<path d="M120.6 71.9Q118.1 69.4 118.1 69.3Q118.2 69.2 122.2 69.6Q126.2 70.1 126.5 71.1Q126.9 72.2 125.4 73.3Q124 74.4 123.6 74.4Q123.1 74.4 120.6 71.9Z" fill="#353535"/>
<path d="M132.6 75Q133.3 74.8 134.3 74.9Q135.3 75 135.7 75.7Q136.2 76.5 134.7 78Q133.2 79.6 132.5 77.4Q131.9 75.2 132.6 75Z" fill="#222"/>
<path d="M145.4 71.4Q145.6 69.4 143.4 70Q141.3 70.5 141.1 71Q140.9 71.5 141.5 72.5Q142 73.4 142.7 73.7Q143.5 73.9 144.4 73.7Q145.3 73.4 145.4 71.4Z" fill="#222"/>
<path d="M149.8 70.4Q149.8 70.4 150.2 70.6Q150.6 70.8 150.4 71.3Q150.2 71.7 150 71.7Q149.8 71.8 149.6 71.7Q149.5 71.7 149.5 71.2Q149.5 70.7 149.6 70.6Q149.7 70.4 149.8 70.4Z" fill="#222"/>
<path d="M156 73.6Q156.8 71.9 158.1 71.5Q159.3 71.1 159.7 71.4Q160.1 71.7 160.3 73.8Q160.6 75.9 159.4 77Q158.3 78 156.8 76.7Q155.2 75.4 156 73.6Z" fill="#2B2B2B"/>
<path d="M169.6 70.7Q170 71.3 170.1 73.4Q170.3 75.6 169.6 76.4Q168.9 77.3 166.6 76.6Q164.3 76 164 73.1Q163.6 70.3 166.4 70.3Q169.2 70.2 169.6 70.7Z" fill="#353535"/>
<path d="M178 71.9Q178 71.9 175.8 71.8Q173.7 71.7 173.8 73.1Q173.9 74.6 175.4 74.6Q176.9 74.7 177.4 74.4Q177.8 74.2 177.9 73.1Q178.1 72 178 71.9Z" fill="#161616"/>
<path d="M184.6 72.8Q183.6 72.9 183.5 73.8Q183.4 74.7 184.4 75.6Q185.5 76.4 185.6 76.3Q185.8 76.2 186.3 74.8Q186.9 73.5 186.3 73.1Q185.7 72.7 184.6 72.8Z" fill="#2B2B2B"/>
<path d="M190.7 76.6Q190.2 77.9 191.7 78.1Q193.2 78.3 193.6 77.4Q194.1 76.6 193.6 75.9Q193.2 75.3 192.9 75.1Q192.7 74.9 192 75.1Q191.2 75.3 190.7 76.6Z" fill="#1B1B1B"/>
<path d="M202.2 69.3Q202.3 69.4 202.7 69.8Q203.1 70.3 203 71Q202.9 71.8 202.6 71.9Q202.3 72 201.3 72Q200.3 72 199.9 71.5Q199.6 71 200.8 70.1Q202 69.3 202.2 69.3Z" fill="#2B2B2B"/>
<path d="M210.6 75.2Q209.6 74.4 209.9 72.5Q210.2 70.5 210.3 70.4Q210.4 70.4 212.9 70.2Q215.4 69.9 216.3 72.7Q217.1 75.5 214.4 75.8Q211.7 76 210.6 75.2Z" fill="#222"/>
<path d="M216.8 72.6Q215.8 69.3 220.2 67.1Q224.7 64.8 244.1 65.4Q263.5 66 280.4 69.2Q297.4 72.4 293.4 73Q289.4 73.7 258.7 75.9Q228 78.2 222.9 77.1Q217.8 76 216.8 72.6Z" fill="#353535"/>
<path d="M-4.6 87.8Q-5 87.8 -5.4 87.1Q-5.9 86.4 -5.6 82.2Q-5.3 78 -4.8 77.7Q-4.3 77.3 -1.7 77.9Q0.9 78.5 1.2 78.9Q1.6 79.2 1.3 83.1Q0.9 87 -1.7 87.5Q-4.2 87.9 -4.6 87.8Z" fill="#161616"/>
<path d="M3.1 86.9Q2.5 86.5 2.8 83.4Q3 80.3 5.1 80.6Q7.2 80.9 7.6 81.9Q7.9 82.9 5.8 85.1Q3.6 87.3 3.1 86.9Z" fill="#222"/>
<path d="M14.8 79.3Q12.2 77.6 10.7 78.8Q9.3 80.1 9.7 81.1Q10.1 82.1 11.8 84.1Q13.4 86.2 15.4 85.1Q17.3 84.1 17.3 84Q17.3 83.9 17.3 82.5Q17.4 81 14.8 79.3Z" fill="#161616"/>
<path d="M21.3 79.7Q20.2 81 20.2 82.7Q20.1 84.4 24.1 83.9Q28.1 83.4 27.6 81.5Q27 79.7 24.7 79Q22.4 78.3 21.3 79.7Z" fill="#1B1B1B"/>
<path d="M28.4 81.3Q27.8 79.4 29.5 78.1Q31.1 76.7 33.4 78.4Q35.6 80.1 32.7 81.9Q29.7 83.7 29.3 83.4Q28.9 83.2 28.4 81.3Z" fill="#2B2B2B"/>
<path d="M45.5 81.8Q45.7 79.7 42.4 79.4Q39.1 79.1 38.6 79.7Q38 80.3 39.2 83.1Q40.4 85.9 42.8 84.9Q45.2 83.9 45.5 81.8Z" fill="#353535"/>
<path d="M51.1 85.5Q51.5 84.8 51.8 82.4Q52.1 79.9 50.3 79Q48.5 78 47.5 78.9Q46.5 79.7 46.2 81.9Q46 84.1 48.3 85.1Q50.7 86.1 51.1 85.5Z" fill="#161616"/>
<path d="M55.8 84.4Q53.3 84.5 53.5 82.6Q53.7 80.7 55.2 80Q56.8 79.3 58 80.2Q59.3 81.1 59.4 81.5Q59.4 81.8 58.9 83Q58.3 84.3 55.8 84.4Z" fill="#2B2B2B"/>
<path d="M68.2 84.7Q67.9 84.8 65.3 83.1Q62.7 81.3 62.7 81Q62.6 80.7 64.7 79.3Q66.8 77.9 68.2 79.3Q69.6 80.7 69.1 82.6Q68.6 84.6 68.2 84.7Z" fill="#0C0C0C"/>
<path d="M73 87Q70.6 85.7 71.3 83.3Q71.9 81 74.6 80.1Q77.3 79.3 77.7 79.6Q78.1 79.8 78.1 82.5Q78.1 85.1 76.7 86.7Q75.4 88.4 73 87Z" fill="#1B1B1B"/>
<path d="M82.7 79.2Q79.4 79.7 79.4 82.4Q79.3 85.2 82.7 86.2Q86 87.2 87 84.9Q88 82.5 87.4 80.9Q86.7 79.2 86.4 79Q86 78.8 82.7 79.2Z" fill="#161616"/>
<path d="M95.6 82.8Q94.7 82.8 92.5 82.2Q90.3 81.6 89.7 80.1Q89.2 78.6 91 77.3Q92.7 75.9 94.9 76.1Q97 76.3 96.7 79.5Q96.4 82.8 95.6 82.8Z" fill="#0C0C0C"/>
<path d="M99.5 84.2Q97.5 83.1 97.9 79.7Q98.2 76.2 100.2 75.2Q102.1 74.1 102.1 74.1Q102.1 74.1 103.6 77Q105.1 79.9 104.2 82Q103.3 84.2 102.4 84.7Q101.5 85.3 99.5 84.2Z" fill="#353535"/>
<path d="M111.6 83.5Q111.7 83.6 111.8 83.9Q111.9 84.2 111.4 84.6Q110.8 85.1 110.2 84.8Q109.6 84.5 109.8 84Q110 83.5 110.7 83.5Q111.4 83.4 111.6 83.5Z" fill="#111"/>
<path d="M120.2 78.3Q117.5 80 118 81.2Q118.4 82.4 119.9 83.5Q121.3 84.6 123.2 83.6Q125.1 82.7 124.3 79.7Q123.6 76.6 123.2 76.6Q122.8 76.6 120.2 78.3Z" fill="#222"/>
<path d="M128.6 77.5Q128.8 77.5 129 78.2Q129.2 78.9 129.2 79Q129.1 79.1 129.1 79.1Q129.1 79.1 128.7 79.1Q128.3 79 128.2 78.4Q128 77.8 128.3 77.6Q128.5 77.4 128.6 77.5Z" fill="#111"/>
<path d="M138.1 81.4Q139.8 79.7 140.4 80Q141.1 80.2 141.2 82.3Q141.4 84.3 139.9 84.9Q138.3 85.4 137.2 84.5Q136.2 83.6 136.3 83.4Q136.4 83.1 138.1 81.4Z" fill="#0C0C0C"/>
<path d="M147.8 77.8Q148.8 78 149.2 81.5Q149.6 85 148.5 85.8Q147.4 86.5 146 85.8Q144.7 85.1 144.3 81.7Q144 78.3 145.4 77.9Q146.7 77.5 147.8 77.8Z" fill="#0C0C0C"/>
<path d="M151.1 77Q149.7 77.4 150.1 81.4Q150.6 85.4 152.8 85.2Q155 85.1 156.3 84.2Q157.5 83.3 157.6 82.2Q157.7 81.1 155.1 78.9Q152.6 76.7 151.1 77Z" fill="#2B2B2B"/>
<path d="M162.7 82.2Q162.7 81.8 163.4 81.1Q164.1 80.5 165.2 80.8Q166.3 81.1 166.5 82.2Q166.7 83.2 166.7 83.2Q166.7 83.2 165.3 83.4Q163.8 83.6 163.3 83.1Q162.7 82.6 162.7 82.2Z" fill="#222"/>
<path d="M175.3 78.7Q176.6 78.8 176.4 80.2Q176.1 81.6 174.9 81.9Q173.7 82.2 173.4 81Q173.2 79.7 173.6 79.2Q174 78.7 175.3 78.7Z" fill="#1B1B1B"/>
<path d="M179.4 77Q180.1 76.6 182.6 78.5Q185 80.4 184.8 81Q184.7 81.6 182.9 83.1Q181.2 84.6 179.4 84Q177.6 83.4 178.1 80.4Q178.6 77.4 179.4 77Z" fill="#161616"/>
<path d="M187.9 81.2Q188.1 81 191.2 81.3Q194.3 81.7 194.5 82.7Q194.8 83.7 192.6 85.3Q190.4 86.8 188.9 84.6Q187.3 82.3 187.5 81.8Q187.6 81.3 187.9 81.2Z" fill="#0C0C0C"/>
<path d="M202 80.8Q202.2 79.9 201.1 79.9Q200.1 79.9 199.7 80.6Q199.3 81.3 199.4 81.7Q199.6 82.1 199.9 82.4Q200.2 82.7 201 82.2Q201.7 81.8 202 80.8Z" fill="#111"/>
<path d="M209.7 86.1Q211.7 85.5 210.8 81.9Q209.9 78.2 208.7 77.3Q207.6 76.4 206.7 76.9Q205.8 77.3 205.2 80Q204.5 82.6 206.1 84.7Q207.7 86.7 209.7 86.1Z" fill="#2B2B2B"/>
<path d="M212.8 81.4Q213.6 84.4 213.8 84.5Q213.9 84.6 219.6 82.1Q225.3 79.6 221.3 78.7Q217.2 77.8 214.6 78.1Q212.1 78.3 212.8 81.4Z" fill="#2B2B2B"/>
<path d="M-1.9 92.8Q-0.4 96.1 1.5 93.9Q3.4 91.6 2.6 90.6Q1.8 89.6 1.3 89.2Q0.7 88.8 -1.4 89.1Q-3.5 89.4 -1.9 92.8Z" fill="#111"/>
<path d="M5 88.7Q4.3 87.8 6.3 85.6Q8.4 83.5 10 85.4Q11.6 87.4 11.3 87.8Q11.1 88.3 9.7 89.2Q8.4 90.1 7.1 89.9Q5.7 89.6 5 88.7Z" fill="#111"/>
<path d="M16.7 87.4Q19 86.2 21.3 89Q23.5 91.8 20.6 93.5Q17.7 95.1 15.8 92.5Q13.8 89.9 14.1 89.3Q14.5 88.7 16.7 87.4Z" fill="#111"/>
<path d="M25.4 85.9Q24.1 86.1 24.1 86.1Q24.1 86.2 24.8 87.1Q25.6 88 25.6 88.1Q25.7 88.1 26.5 87.8Q27.3 87.6 27.2 86.8Q27.1 86 26.9 85.9Q26.8 85.8 25.4 85.9Z" fill="#111"/>
<path d="M36.8 84.2Q37.8 86.4 37.7 87Q37.6 87.5 35.4 88.5Q33.1 89.5 32.2 89.1Q31.4 88.6 31.1 86.7Q30.9 84.8 33.3 83.3Q35.7 81.9 35.7 81.9Q35.8 81.9 36.8 84.2Z" fill="#222"/>
<path d="M50.7 89.6Q50.4 86.9 48 85.9Q45.6 84.8 43.1 85.9Q40.5 87 40.4 87.6Q40.3 88.3 42.2 90.8Q44 93.4 47.3 93.2Q50.5 93 50.7 92.7Q50.9 92.3 50.7 89.6Z" fill="#0C0C0C"/>
<path d="M52.2 86.2Q52.6 85.5 55.8 85.4Q58.9 85.3 59.3 87.5Q59.6 89.7 55.9 90.9Q52.2 92 52 89.4Q51.8 86.8 52.2 86.2Z" fill="#353535"/>
<path d="M64.2 90.6Q65 90.1 66.5 88.3Q68 86.4 64.6 84.1Q61.3 81.8 60.6 83.5Q59.9 85.1 60.2 87.4Q60.6 89.6 62 90.3Q63.3 91 64.2 90.6Z" fill="#0C0C0C"/>
<path d="M69.4 92.9Q71.9 94.7 73.2 93.1Q74.4 91.5 74.2 90.8Q74 90.1 71.9 88.9Q69.9 87.8 69.5 87.9Q69.2 88 68 89.6Q66.8 91.1 69.4 92.9Z" fill="#2B2B2B"/>
<path d="M76.6 90.1Q76.3 89.3 77.7 87.6Q79.1 85.9 82.4 86.9Q85.7 87.9 85.9 90.1Q86.1 92.4 84 92.9Q81.9 93.5 79.3 92.2Q76.8 91 76.6 90.1Z" fill="#353535"/>
<path d="M93.2 88.9Q94.3 84.6 91.9 83.9Q89.5 83.2 88.5 85.5Q87.5 87.8 87.6 90Q87.8 92.2 88.9 93Q90 93.8 91.1 93.5Q92.2 93.3 93.2 88.9Z" fill="#2B2B2B"/>
<path d="M95.7 84.7Q94.8 84.7 93.7 89.1Q92.6 93.4 94.1 93.5Q95.5 93.5 97.9 91.6Q100.3 89.6 100.6 88.3Q100.9 86.9 98.8 85.8Q96.7 84.6 95.7 84.7Z" fill="#353535"/>
<path d="M104.8 89.8Q104.9 89.1 105.4 88.8Q105.9 88.5 107.4 89.2Q108.8 89.9 109.1 90.9Q109.4 91.9 108.2 92.8Q107 93.7 105.9 92.1Q104.7 90.5 104.8 89.8Z" fill="#2B2B2B"/>
<path d="M113.7 91.4Q113.1 91.2 112.8 90Q112.5 88.8 114.2 87.5Q115.9 86.1 117 87Q118.1 87.8 118.1 88.3Q118.1 88.7 116.2 90.1Q114.4 91.5 113.7 91.4Z" fill="#1B1B1B"/>
<path d="M124.6 89Q124.6 88.6 125.7 88.1Q126.8 87.5 128 87.7Q129.1 87.8 128.3 89.6Q127.6 91.3 126.8 91.9Q126.1 92.4 125.3 90.8Q124.6 89.3 124.6 89Z" fill="#353535"/>
<path d="M130.5 89.6Q132 86.1 132.1 86.1Q132.2 86.1 134 87.7Q135.8 89.2 136 91.1Q136.1 93 135 93.5Q134 93.9 131.5 93.5Q129 93.1 130.5 89.6Z" fill="#161616"/>
<path d="M146.3 92.5Q146.1 92.9 143.3 94Q140.5 95.1 139.5 94Q138.6 92.8 138.5 91Q138.4 89.3 140.9 88.4Q143.4 87.5 144.7 88.2Q146.1 88.9 146.2 90.5Q146.4 92.1 146.3 92.5Z" fill="#161616"/>
<path d="M152.9 86.8Q150.9 87 149.8 87.7Q148.6 88.5 148.8 90.2Q149 91.9 152 92.1Q155 92.3 154.9 89.5Q154.9 86.7 152.9 86.8Z" fill="#0C0C0C"/>
<path d="M157.6 87.6Q158.3 87.1 159.2 87.8Q160 88.5 160 90.3Q160 92.2 159.6 92.6Q159.1 93.1 158.8 93.1Q158.5 93 157.7 92.2Q157 91.4 157 89.7Q156.9 88 157.6 87.6Z" fill="#2B2B2B"/>
<path d="M166.2 87.6Q163.4 87.9 163.4 90.4Q163.4 92.9 166.2 92.5Q169.1 92.1 169.5 91.9Q169.9 91.6 169.4 89.4Q169 87.2 166.2 87.6Z" fill="#111"/>
<path d="M172.1 85.9Q172.1 85.9 174.6 85.2Q177.2 84.6 178.9 85.3Q180.6 85.9 180.7 87.8Q180.7 89.6 178.6 91.3Q176.5 93 174.9 92.3Q173.3 91.5 172.7 88.7Q172.1 85.9 172.1 85.9Z" fill="#161616"/>
<path d="M186.7 89.2Q186.6 89.3 185.5 88.8Q184.4 88.4 184.3 87.6Q184.3 86.9 185 86.4Q185.6 85.8 186.3 86.8Q187 87.8 186.9 88.5Q186.8 89.2 186.7 89.2Z" fill="#2B2B2B"/>
<path d="M196.9 85.5Q197.9 86.3 198.6 88.7Q199.4 91.2 197.2 92.8Q195.1 94.5 192.8 93.3Q190.5 92.1 190.7 90.1Q190.9 88.2 193.5 86.4Q196 84.7 196.9 85.5Z" fill="#111"/>
<path d="M205.1 85.3Q206.4 87 205 88.6Q203.5 90.2 202.5 90.1Q201.4 89.9 200.8 87.9Q200.2 85.8 202 84.7Q203.8 83.6 205.1 85.3Z" fill="#0C0C0C"/>
<path d="M210.1 87.2Q212.3 86.6 212.5 86.7Q212.7 86.8 214 90.1Q215.3 93.3 214 94.6Q212.8 95.8 209.6 95.2Q206.5 94.6 205.3 93.3Q204.2 92 206.1 90Q207.9 87.9 210.1 87.2Z" fill="#0C0C0C"/>
<path d="M220.7 83.8Q214.3 86.6 215.5 89.4Q216.6 92.3 219.6 92.6Q222.6 92.8 251.9 84.9Q281.3 77 254.2 79Q227.1 81 220.7 83.8Z" fill="#1B1B1B"/>
<path d="M-1.1 97.5Q-1.4 98.2 -3.6 97.6Q-5.8 97.1 -6.5 94.9Q-7.3 92.7 -6.2 91Q-5 89.3 -4.7 89.3Q-4.4 89.4 -2.6 93.1Q-0.9 96.8 -1.1 97.5Z" fill="#0C0C0C"/>
<path d="M0.3 98.2Q0 99 0.2 99.3Q0.4 99.7 2.8 100.2Q5.3 100.6 7.2 99.3Q9.1 98 8.7 95.4Q8.4 92.9 6.7 92.6Q5 92.3 2.8 94.9Q0.6 97.5 0.3 98.2Z" fill="#0C0C0C"/>
<path d="M14.6 97.6Q15.2 97.3 15.2 96.6Q15.2 95.9 14.4 94.8Q13.6 93.7 12.9 94.2Q12.2 94.6 12.4 95.7Q12.5 96.8 13.2 97.3Q13.9 97.8 14.6 97.6Z" fill="#1B1B1B"/>
<path d="M22.4 99Q20.5 100 19.3 99.5Q18.2 99 18.2 97.3Q18.2 95.7 20.9 94.2Q23.6 92.6 23.8 92.7Q23.9 92.8 24.1 95.5Q24.3 98.1 22.4 99Z" fill="#1B1B1B"/>
<path d="M30.7 98Q29.2 99.4 27.7 98.6Q26.2 97.8 26 95.3Q25.8 92.8 27.9 92.1Q29.9 91.4 30.9 91.9Q31.8 92.4 32 94.5Q32.2 96.7 30.7 98Z" fill="#0C0C0C"/>
<path d="M40.2 99.2Q40.2 99.3 37 98.1Q33.8 96.9 33.6 94.3Q33.3 91.6 36.3 90.3Q39.3 89 41.2 91.5Q43.2 94.1 41.7 96.6Q40.3 99.2 40.2 99.2Z" fill="#2B2B2B"/>
<path d="M45.9 101.3Q50.4 103 51.3 101Q52.3 99.1 51.4 96.8Q50.5 94.5 47.4 94.7Q44.2 94.8 42.8 97.3Q41.5 99.7 45.9 101.3Z" fill="#353535"/>
<path d="M60.3 94.8Q60.3 95.8 58.9 96.2Q57.5 96.6 57.1 96.5Q56.7 96.4 56.3 95.4Q55.9 94.5 56 94.4Q56.1 94.2 57.6 93.7Q59.2 93.3 59.7 93.5Q60.3 93.8 60.3 94.8Z" fill="#1B1B1B"/>
<path d="M71.4 97.6Q71.8 95.8 68.8 93.6Q65.8 91.5 64.9 91.9Q64.1 92.3 64.1 94.7Q64 97 65.6 98.9Q67.3 100.8 69.2 100.1Q71.1 99.4 71.4 97.6Z" fill="#222"/>
<path d="M73.7 97.7Q74 96.2 75.1 94.7Q76.3 93.1 78.4 94.1Q80.4 95.2 79.6 97.2Q78.9 99.3 77.3 99.8Q75.7 100.4 74.6 99.8Q73.4 99.2 73.7 97.7Z" fill="#2B2B2B"/>
<path d="M86.1 96.9Q85.4 96.4 84.3 96.8Q83.1 97.1 82.6 98.5Q82 100 83.4 101.1Q84.8 102.2 85.7 101.1Q86.6 100 86.7 98.7Q86.7 97.3 86.1 96.9Z" fill="#111"/>
<path d="M96.4 101.9Q95.2 102.5 93.4 101.4Q91.6 100.2 91.6 98.5Q91.7 96.8 92.4 96.6Q93.2 96.4 94.3 96.5Q95.3 96.5 96.6 98.5Q97.8 100.5 97.7 100.9Q97.6 101.3 96.4 101.9Z" fill="#1B1B1B"/>
<path d="M99.8 94.3Q101 93.3 102.2 94.8Q103.4 96.4 103.4 96.4Q103.4 96.4 101.9 97.3Q100.4 98.2 99.4 96.7Q98.5 95.3 99.8 94.3Z" fill="#161616"/>
<path d="M112.7 95Q112 94.8 110.4 96Q108.9 97.2 108.8 97.2Q108.8 97.2 110.3 99.7Q111.8 102.1 113.8 100.7Q115.8 99.3 114.6 97.2Q113.4 95.2 112.7 95Z" fill="#222"/>
<path d="M121.3 97.3Q120.6 97.9 119.4 97.9Q118.2 98 117 95.9Q115.7 93.8 117.9 92.1Q120 90.5 121.1 92.8Q122.2 95.2 122.2 96Q122.1 96.7 121.3 97.3Z" fill="#161616"/>
<path d="M127.8 98.7Q125.5 97.9 125.6 96.9Q125.7 95.9 127.3 94.8Q128.8 93.8 131.4 94.2Q133.9 94.6 132 97.1Q130.1 99.6 127.8 98.7Z" fill="#111"/>
<path d="M131.8 100.8Q132.6 101.7 134.5 101.9Q136.3 102.2 137.4 100.6Q138.5 99 138.5 98Q138.5 96.9 137.5 95.6Q136.5 94.4 135.5 94.8Q134.5 95.2 132.7 97.6Q130.9 99.9 131.8 100.8Z" fill="#111"/>
<path d="M146.8 97.5Q146.2 96.2 144.5 96.9Q142.8 97.5 142.8 98.2Q142.8 98.8 144.3 99.5Q145.9 100.2 146.7 99.5Q147.4 98.9 146.8 97.5Z" fill="#161616"/>
<path d="M149.8 93.9Q149.7 94.2 150.5 95.9Q151.2 97.6 151.8 97.7Q152.4 97.9 154.3 96.9Q156.1 95.8 155.2 94.8Q154.3 93.9 152.1 93.7Q149.9 93.6 149.8 93.9Z" fill="#2B2B2B"/>
<path d="M166.1 101.1Q164.2 101.7 163 99.3Q161.9 96.8 162.6 96.1Q163.2 95.3 166.6 94.9Q170 94.4 169 97.5Q168 100.5 166.1 101.1Z" fill="#2B2B2B"/>
<path d="M171.6 102.1Q169.3 101.1 170.3 97.8Q171.3 94.6 171.8 94.3Q172.2 93.9 173.8 94.7Q175.4 95.4 176.2 97.2Q177 99.1 175.5 101.1Q174 103.1 171.6 102.1Z" fill="#1B1B1B"/>
<path d="M181.2 98.3Q182.8 98.7 183 98.7Q183.1 98.7 185.2 96.1Q187.3 93.5 184.6 92.4Q181.9 91.3 180 92.8Q178.1 94.4 178.8 96.1Q179.6 97.8 181.2 98.3Z" fill="#353535"/>
<path d="M191.2 101Q194.3 98.9 194.1 97.7Q194 96.5 191.7 95.3Q189.5 94.1 189.2 94.2Q188.9 94.2 186.6 97.2Q184.3 100.1 186.2 101.6Q188.1 103.1 191.2 101Z" fill="#0C0C0C"/>
<path d="M197.3 99.1Q197.6 99.5 200.9 99.9Q204.1 100.3 204.7 98Q205.2 95.7 204.2 94.6Q203.2 93.5 202 93.3Q200.8 93.2 198.8 94.8Q196.8 96.4 196.9 97.5Q197 98.7 197.3 99.1Z" fill="#1B1B1B"/>
<path d="M206.7 103Q207.9 105.4 209.9 102.8Q212 100.2 212 98.6Q212 97 209.3 96.5Q206.6 96 206 98.3Q205.5 100.7 206.7 103Z" fill="#353535"/>
<path d="M214.7 98.8Q214.7 100.2 216.7 101.4Q218.6 102.5 220.2 99.3Q221.7 96.1 219.1 95.9Q216.6 95.7 215.7 96.6Q214.7 97.5 214.7 98.8Z" fill="#111"/>
<path d="M-4.3 99.7Q-2.4 100.2 -2.3 100.6Q-2.1 100.9 -2.7 103.6Q-3.3 106.3 -4.5 106.9Q-5.8 107.6 -8.9 105.4Q-12.1 103.2 -9.2 101.2Q-6.2 99.2 -4.3 99.7Z" fill="#1B1B1B"/>
<path d="M-0.6 104.1Q-1.3 107.3 1.2 108.4Q3.7 109.4 5.6 108.5Q7.5 107.7 6.3 104.7Q5.1 101.7 2.6 101.2Q0.1 100.8 -0.6 104.1Z" fill="#111"/>
<path d="M9.3 106.9Q8.3 106.8 7.2 104.2Q6.2 101.6 7.9 100.4Q9.6 99.2 11.1 100.4Q12.6 101.5 11.9 104.1Q11.2 106.8 10.7 106.9Q10.2 107 9.3 106.9Z" fill="#353535"/>
<path d="M18.3 106.5Q17.9 106.9 17.5 106.9Q17.1 107 16.3 106.5Q15.5 105.9 15.8 104.8Q16.1 103.6 16.7 103.4Q17.3 103.1 17.8 103.3Q18.3 103.5 18.5 104.9Q18.7 106.2 18.3 106.5Z" fill="#353535"/>
<path d="M24.2 108Q26.3 107.9 27.8 106.5Q29.3 105 29 103.1Q28.7 101.2 26.9 100.3Q25.1 99.4 23 100.3Q20.9 101.3 21.5 104.7Q22 108 24.2 108Z" fill="#0C0C0C"/>
<path d="M38.5 102.5Q38.8 100.4 36.3 99.5Q33.8 98.5 32.3 99.8Q30.9 101.1 31.1 102.7Q31.4 104.2 33.7 105Q36 105.9 37 105.2Q38.1 104.6 38.5 102.5Z" fill="#161616"/>
<path d="M49.1 105.2Q48.9 106.8 47.2 107.1Q45.4 107.4 43.3 106.2Q41.2 105.1 41.5 103Q41.9 100.9 41.9 100.9Q42 100.8 45.6 102.2Q49.3 103.5 49.1 105.2Z" fill="#1B1B1B"/>
<path d="M52.2 105.6Q52 107.3 52.8 108.2Q53.6 109 56.6 107.3Q59.6 105.6 57.7 103.2Q55.7 100.7 54.9 100.6Q54.1 100.4 53.2 102.1Q52.3 103.8 52.2 105.6Z" fill="#161616"/>
<path d="M64.1 100.1Q65.6 101.8 64.9 103.6Q64.2 105.3 62.4 105.1Q60.6 104.9 58.6 102.4Q56.6 99.9 59.6 99.1Q62.6 98.3 64.1 100.1Z" fill="#2B2B2B"/>
<path d="M70.5 103.3Q71.9 102.8 72.9 103.3Q73.9 103.8 74.1 104.8Q74.3 105.8 73 107.6Q71.8 109.5 70.2 108.8Q68.5 108 68.3 107.2Q68.1 106.4 68.6 105.1Q69.2 103.8 70.5 103.3Z" fill="#111"/>
<path d="M79.5 105.9Q80.7 106.8 81.2 106.3Q81.8 105.8 81.8 105.4Q81.8 104.9 80.8 104.1Q79.8 103.2 79 103.5Q78.1 103.8 78.3 104.4Q78.4 105 79.5 105.9Z" fill="#161616"/>
<path d="M93.1 106.4Q92.8 107.9 92.3 108Q91.7 108.1 90 107.4Q88.2 106.6 88.3 106Q88.3 105.4 89.3 104.2Q90.3 103 91.9 103.9Q93.4 104.9 93.1 106.4Z" fill="#353535"/>
<path d="M96.5 110.1Q97.6 110.9 99.7 108.7Q101.8 106.5 100.5 104.9Q99.2 103.4 97.8 104.2Q96.3 105 95.8 107.2Q95.3 109.4 96.5 110.1Z" fill="#353535"/>
<path d="M102.3 103.6Q103.4 104.9 105.1 105.5Q106.8 106 107.8 105.7Q108.7 105.5 108.9 104.8Q109.1 104.1 107.5 101.4Q105.9 98.7 103.6 100Q101.3 101.4 101.2 101.8Q101.1 102.2 102.3 103.6Z" fill="#353535"/>
<path d="M121.7 109Q122.6 108 121.9 104.8Q121.3 101.7 119.7 101.7Q118.2 101.7 115.6 103.5Q113 105.3 112.7 106.2Q112.5 107 113.2 108Q114 109.1 117.4 109.6Q120.8 110 121.7 109Z" fill="#222"/>
<path d="M126.5 107.6Q124.8 107.3 124.2 104.4Q123.6 101.6 124.4 100.9Q125.3 100.2 127.3 100.9Q129.3 101.7 130.1 102.5Q130.9 103.3 129.5 105.6Q128.2 108 126.5 107.6Z" fill="#1B1B1B"/>
<path d="M130.3 109.6Q129.7 108.8 131 106.5Q132.3 104.2 134 104.4Q135.6 104.7 136.4 106.7Q137.1 108.8 134.1 109.6Q131 110.4 130.3 109.6Z" fill="#2B2B2B"/>
<path d="M141.3 106.3Q141.2 106.3 140.7 105Q140.3 103.8 140.9 102.9Q141.5 102 143 102.6Q144.5 103.3 144.4 104.8Q144.3 106.3 142.8 106.4Q141.3 106.4 141.3 106.3Z" fill="#161616"/>
<path d="M148.8 107.2Q149.3 107.5 149.7 107.6Q150.1 107.7 151.4 107Q152.7 106.3 152 104.3Q151.3 102.2 150.8 102.1Q150.2 102 149.4 102.7Q148.5 103.4 148.4 105.1Q148.3 106.9 148.8 107.2Z" fill="#1B1B1B"/>
<path d="M161 104.4Q161.5 102.9 160.3 100.5Q159.2 98 158.7 98Q158.2 97.9 155.8 99.2Q153.5 100.6 154.5 103.6Q155.6 106.6 157.6 106.8Q159.6 106.9 160.1 106.4Q160.6 105.9 161 104.4Z" fill="#0C0C0C"/>
<path d="M172.3 108.9Q173.6 108.4 173.5 106.4Q173.4 104.5 171 103.5Q168.7 102.5 166.6 103.1Q164.5 103.8 164.1 105.4Q163.6 106.9 167.3 108.2Q170.9 109.5 172.3 108.9Z" fill="#0C0C0C"/>
<path d="M177.1 108.9Q176 108.1 175.8 106.3Q175.7 104.4 177.2 102.4Q178.7 100.4 180.4 100.9Q182.1 101.4 181.3 105.1Q180.6 108.8 179.4 109.2Q178.2 109.6 177.1 108.9Z" fill="#1B1B1B"/>
<path d="M187.5 106.7Q187.8 109.1 187.4 109.4Q186.9 109.7 184.1 109.5Q181.2 109.2 182.1 105.2Q182.9 101.1 183.1 101.1Q183.3 101.1 185.3 102.7Q187.2 104.3 187.5 106.7Z" fill="#161616"/>
<path d="M194.6 107Q195.8 105.3 195.5 103.4Q195.1 101.4 194.8 101.1Q194.6 100.7 191.9 102.4Q189.3 104.2 189.6 106.2Q189.8 108.1 191.6 108.5Q193.3 108.8 194.6 107Z" fill="#222"/>
<path d="M201.7 105.6Q198.7 104.7 198.3 102.8Q198 100.9 200.8 101.3Q203.7 101.6 204.8 103.7Q205.8 105.7 205.8 105.9Q205.8 106.1 205.2 106.3Q204.6 106.4 201.7 105.6Z" fill="#161616"/>
<path d="M210 107.1Q209.7 106.8 209.8 106.6Q209.8 106.4 211.7 104Q213.6 101.7 215.7 102.9Q217.9 104.2 218.6 106.3Q219.3 108.3 214.8 107.8Q210.2 107.3 210 107.1Z" fill="#222"/>
<path d="M-2.6 110.4Q-1.4 109.7 0.6 110.5Q2.6 111.3 2.7 113.2Q2.8 115 2.8 115Q2.7 115.1 -0.6 115.3Q-3.9 115.5 -4.2 115.2Q-4.6 114.9 -4.2 113Q-3.8 111 -2.6 110.4Z" fill="#2B2B2B"/>
<path d="M9 109.5Q8 109.4 6.3 110.1Q4.7 110.9 4.8 113Q4.9 115.1 6.9 115Q9 115 9.5 112.3Q10 109.6 9 109.5Z" fill="#1B1B1B"/>
<path d="M14 115.2Q15.2 112.1 13.5 111.1Q11.8 110 11.4 110.1Q10.9 110.2 10.5 112.7Q10 115.1 11.4 116.6Q12.8 118.2 12.8 118.2Q12.8 118.2 14 115.2Z" fill="#0C0C0C"/>
<path d="M25.6 113Q26 113.9 25.1 114.3Q24.2 114.7 23.7 113.8Q23.1 112.8 23.5 112.5Q23.8 112.2 24.6 112.2Q25.3 112.2 25.6 113Z" fill="#2B2B2B"/>
<path d="M28.5 111.3Q29.5 113.7 30.8 114.5Q32.2 115.2 33.5 114.9Q34.9 114.6 35.2 111.4Q35.6 108.1 32.9 107.2Q30.3 106.2 28.9 107.6Q27.5 109 28.5 111.3Z" fill="#0C0C0C"/>
<path d="M41.1 116.6Q40.7 116.9 38.9 115.7Q37.1 114.4 37.4 111.6Q37.7 108.7 38.8 108Q39.8 107.3 42 108.5Q44.1 109.7 42.8 113Q41.5 116.3 41.1 116.6Z" fill="#353535"/>
<path d="M46.3 115.8Q48 115.7 48.8 114.7Q49.7 113.7 49.5 113.1Q49.3 112.6 48.9 112.1Q48.4 111.6 47.4 111.8Q46.3 112 45.5 113.9Q44.7 115.8 46.3 115.8Z" fill="#353535"/>
<path d="M62.7 111.6Q64.2 109.3 63.9 108.3Q63.7 107.4 62 107.2Q60.3 107 57.4 108.6Q54.6 110.3 54.9 111.2Q55.2 112.2 57.2 113.5Q59.3 114.8 60.3 114.3Q61.3 113.9 62.7 111.6Z" fill="#1B1B1B"/>
<path d="M70.3 113.7Q70 113.3 68.4 112.6Q66.9 111.9 65.8 113.7Q64.6 115.4 66.3 116.5Q68 117.6 69.3 115.8Q70.6 114.1 70.3 113.7Z" fill="#222"/>
<path d="M74.4 110.6Q74.1 110.3 75.1 108.9Q76.1 107.4 77.5 108.6Q79 109.8 78.7 110.6Q78.5 111.4 77.4 111.6Q76.4 111.8 75.5 111.4Q74.6 111 74.4 110.6Z" fill="#111"/>
<path d="M82.8 112.4Q82.3 113.9 83.8 115.7Q85.2 117.6 85.4 117.7Q85.6 117.7 87.7 116.6Q89.7 115.5 90.6 113.3Q91.4 111 88.6 109.8Q85.8 108.6 84.6 109.8Q83.3 111 82.8 112.4Z" fill="#1B1B1B"/>
<path d="M94.1 114.1Q94.6 114.4 95 115.1Q95.4 115.8 94.8 116.2Q94.2 116.6 93.3 116.1Q92.5 115.6 92.8 114.7Q93.1 113.9 93.4 113.9Q93.7 113.8 94.1 114.1Z" fill="#0C0C0C"/>
<path d="M100.4 109.3Q98 111.8 99.2 113.8Q100.4 115.8 100.8 115.9Q101.3 116 101.6 115.9Q101.9 115.8 104.5 112Q107 108.2 104.9 107.6Q102.7 106.9 100.4 109.3Z" fill="#0C0C0C"/>
<path d="M111.9 113Q111.9 110.6 111.1 109.4Q110.3 108.3 109.1 108.6Q108 108.9 105.4 112.7Q102.9 116.4 106.5 117.4Q110.1 118.3 111 116.9Q111.9 115.4 111.9 113Z" fill="#111"/>
<path d="M120.3 115.5Q120.9 114 120.7 112.8Q120.6 111.7 117.2 111.2Q113.8 110.8 113.8 113Q113.8 115.3 116.7 116.2Q119.6 117 120.3 115.5Z" fill="#111"/>
<path d="M125.9 114.8Q122.9 113.7 122.8 112.6Q122.6 111.5 123.5 110.6Q124.3 109.6 126 110Q127.7 110.3 128.4 111.2Q129.1 112 129 114Q128.9 116 125.9 114.8Z" fill="#1B1B1B"/>
<path d="M131.9 115.9Q131.8 115.6 131.9 114.1Q132 112.5 134.5 111.9Q137 111.2 137.2 111.3Q137.3 111.4 137 113.3Q136.7 115.2 135.9 115.8Q135.1 116.3 133.5 116.2Q132 116.1 131.9 115.9Z" fill="#222"/>
<path d="M140 113.5Q139.7 116 141.6 117.2Q143.5 118.5 145.2 115.2Q146.9 111.8 146.2 111.3Q145.5 110.8 142.9 110.9Q140.3 111 140 113.5Z" fill="#2B2B2B"/>
<path d="M154.3 118.7Q154.4 118.7 157 116.6Q159.7 114.6 159.4 112.5Q159.1 110.4 157.3 110.2Q155.4 110.1 153.6 111.1Q151.8 112.1 153.1 115.4Q154.3 118.7 154.3 118.7Z" fill="#222"/>
<path d="M166.2 114.8Q168.4 115 169.1 113.2Q169.8 111.3 166.8 110.2Q163.7 109.1 163.2 109.6Q162.8 110 163.1 112Q163.3 114.1 163.6 114.3Q164 114.6 166.2 114.8Z" fill="#222"/>
<path d="M170.8 117Q171.4 118 174.1 117.4Q176.9 116.7 176.7 114.4Q176.5 112.1 175.4 111.4Q174.4 110.7 173.1 111.2Q171.8 111.7 171 113.8Q170.2 115.9 170.8 117Z" fill="#161616"/>
<path d="M179 114.1Q179.2 116.7 180.3 118Q181.5 119.4 183.5 118.4Q185.4 117.4 186 114.3Q186.6 111.2 183.9 111Q181.2 110.8 180 111.2Q178.7 111.6 179 114.1Z" fill="#0C0C0C"/>
<path d="M194.5 113.8Q195.9 116.1 193.6 117.9Q191.4 119.7 189.1 118.7Q186.9 117.8 187.5 114.6Q188.1 111.4 188.5 111.1Q188.9 110.8 191 111.2Q193.1 111.6 194.5 113.8Z" fill="#222"/>
<path d="M201.2 107.5Q197.9 106.5 196.5 108.5Q195.1 110.5 196.4 112.6Q197.8 114.7 198.2 114.9Q198.7 115 201.6 111.7Q204.6 108.4 201.2 107.5Z" fill="#161616"/>
<path d="M204.4 116.9Q207.4 116.5 207.8 115.3Q208.3 114.1 207.9 112Q207.5 109.9 207.2 109.7Q207 109.4 206.4 109.6Q205.8 109.8 202.9 112.9Q200.1 116 200.7 116.7Q201.3 117.3 204.4 116.9Z" fill="#111"/>
<path d="M210.2 111.5Q209.8 109.4 214.5 109.9Q219.3 110.5 220.4 111.4Q221.5 112.3 219 113.9Q216.5 115.5 213.6 114.6Q210.6 113.7 210.2 111.5Z" fill="#0C0C0C"/>
<path d="M-5.3 124.9Q-3.3 122 -4.6 119.6Q-6 117.2 -6.4 116.8Q-6.8 116.4 -9.6 117.7Q-12.4 118.9 -9.9 123.3Q-7.4 127.7 -5.3 124.9Z" fill="#2B2B2B"/>
<path d="M1.3 120.6Q-0.7 121.3 -1.3 121.2Q-1.9 121.1 -3.2 118.9Q-4.4 116.6 -0.6 116.3Q3.2 116 3.3 118Q3.4 120 1.3 120.6Z" fill="#1B1B1B"/>
<path d="M6.1 120.9Q4.8 120.1 4.7 118Q4.6 115.9 4.6 115.9Q4.6 115.8 6.9 115.8Q9.1 115.8 10.8 117.7Q12.5 119.6 9.9 120.7Q7.4 121.8 6.1 120.9Z" fill="#222"/>
<path d="M20.8 114.5Q19.1 111.7 18.2 111.8Q17.2 112 15.7 115.8Q14.2 119.7 16.2 121.3Q18.1 123 20 122.1Q21.9 121.3 22.2 119.3Q22.5 117.4 20.8 114.5Z" fill="#1B1B1B"/>
<path d="M26.3 116.6Q28.4 115.5 29.6 116.2Q30.7 116.9 29.9 118.6Q29.1 120.3 27.5 120.9Q25.9 121.6 24.8 121.2Q23.8 120.8 24 119.2Q24.2 117.6 26.3 116.6Z" fill="#161616"/>
<path d="M35.9 123Q34.6 124.3 33.3 122.8Q32 121.4 32.6 120.2Q33.1 119 34 118.8Q34.8 118.6 36 119.4Q37.2 120.3 37.2 121Q37.2 121.8 35.9 123Z" fill="#0C0C0C"/>
<path d="M44.9 122.9Q46 124 47.6 123.4Q49.3 122.8 48.8 121.2Q48.3 119.7 46.4 119.8Q44.4 119.8 44.1 120Q43.8 120.2 43.8 121Q43.8 121.8 44.9 122.9Z" fill="#111"/>
<path d="M52 120.3Q51.6 119 52.5 118Q53.4 117 54.6 117.7Q55.8 118.5 55.6 120.1Q55.5 121.7 54.9 122.1Q54.4 122.5 53.4 122Q52.4 121.5 52 120.3Z" fill="#2B2B2B"/>
<path d="M65.5 122.7Q64.2 123.7 62.6 123.2Q61.1 122.7 61.3 120.7Q61.5 118.6 62.2 118.3Q63 118 64.6 119.1Q66.3 120.1 66.6 120.9Q66.9 121.7 65.5 122.7Z" fill="#2B2B2B"/>
<path d="M73.3 116Q72.3 115.5 71 117.2Q69.8 118.9 70.1 119.6Q70.3 120.4 71.6 120.8Q72.9 121.2 73.6 118.9Q74.4 116.5 73.3 116Z" fill="#0C0C0C"/>
<path d="M78.8 115.9Q77.1 116.3 76.1 119.7Q75 123 75.1 123.1Q75.1 123.1 77.2 123.6Q79.3 124.1 81.2 121.6Q83.2 119 81.9 117.2Q80.6 115.5 78.8 115.9Z" fill="#353535"/>
<path d="M88.6 117.8Q90.4 116.9 92.5 118.1Q94.6 119.4 93.4 121.3Q92.3 123.3 91.6 123.5Q90.8 123.8 88.8 121.3Q86.8 118.8 88.6 117.8Z" fill="#2B2B2B"/>
<path d="M97.3 123Q96.9 123.8 97.6 124.1Q98.2 124.5 98.9 124.2Q99.6 123.9 99.4 122.8Q99.2 121.7 99 121.6Q98.9 121.6 98.3 121.9Q97.7 122.3 97.3 123Z" fill="#0C0C0C"/>
<path d="M102 117.6Q101.7 117.7 102.3 121.3Q103 125 104.8 126.1Q106.7 127.2 108.7 125.2Q110.7 123.2 110.7 122.8Q110.8 122.4 110.4 121Q110 119.5 106.2 118.5Q102.3 117.5 102 117.6Z" fill="#353535"/>
<path d="M119.3 119.5Q119 118.2 116.4 117.5Q113.8 116.7 113 118Q112.3 119.2 112.6 120.4Q112.9 121.5 116.3 121.1Q119.6 120.7 119.3 119.5Z" fill="#222"/>
<path d="M122.9 116.5Q123.3 115.6 125.1 116.3Q126.9 117 127 117.2Q127.1 117.4 126.5 118.4Q126 119.4 125 119.8Q124.1 120.1 123.5 119.6Q123 119 122.8 118.2Q122.5 117.4 122.9 116.5Z" fill="#1B1B1B"/>
<path d="M129.7 120.3Q128.7 122.1 131 124.2Q133.3 126.2 135.1 125.9Q137 125.7 136.1 122.2Q135.3 118.8 133 118.6Q130.7 118.4 129.7 120.3Z" fill="#1B1B1B"/>
<path d="M137.5 118.1Q136.4 118.8 137.1 121.9Q137.9 125 138.6 125.3Q139.2 125.6 141.5 124.1Q143.7 122.7 143.1 121.4Q142.6 120 140.6 118.7Q138.6 117.4 137.5 118.1Z" fill="#2B2B2B"/>
<path d="M147 122.5Q148.5 122.9 150.5 121.5Q152.5 120.1 151 116.2Q149.5 112.3 148.8 112.2Q148.2 112 146.3 115.6Q144.4 119.3 145 120.7Q145.6 122.1 147 122.5Z" fill="#222"/>
<path d="M161 125.6Q160.9 125.6 157.9 123.1Q154.8 120.7 158.1 118.1Q161.3 115.6 161.7 116Q162.1 116.3 163 120.3Q163.9 124.2 162.5 124.9Q161.1 125.6 161 125.6Z" fill="#1B1B1B"/>
<path d="M167.3 123.4Q165.7 123.9 165.3 123.9Q164.9 123.9 164 120Q163.2 116.2 165.9 116.4Q168.7 116.7 169.3 117.8Q169.9 119 169.4 120.9Q168.8 122.9 167.3 123.4Z" fill="#111"/>
<path d="M173 125Q170.3 123.3 170.9 121.4Q171.4 119.4 174.5 118.7Q177.6 118 178.8 119.4Q180 120.8 179.9 121.3Q179.9 121.8 177.8 124.2Q175.8 126.7 173 125Z" fill="#222"/>
<path d="M188.5 124.7Q186.4 125.8 184.5 124Q182.6 122.2 182.6 121.7Q182.7 121.3 184.5 120.4Q186.4 119.5 188.4 120.4Q190.5 121.3 190.5 122.4Q190.5 123.6 188.5 124.7Z" fill="#222"/>
<path d="M193.9 124.8Q194.8 126.1 197 125.7Q199.1 125.2 199.4 124.1Q199.7 122.9 199.4 121.2Q199 119.6 198.3 118.9Q197.7 118.3 197.3 118.2Q196.9 118 194.9 119.6Q192.8 121.2 192.9 122.4Q192.9 123.5 193.9 124.8Z" fill="#2B2B2B"/>
<path d="M209.3 120.2Q208.1 117.6 204.3 118Q200.6 118.5 201.1 120.6Q201.6 122.7 206.1 122.8Q210.6 122.9 209.3 120.2Z" fill="#2B2B2B"/>
<path d="M210.2 119.8Q209 117.2 209.4 115.8Q209.9 114.4 213.3 115.4Q216.7 116.5 215 119.6Q213.3 122.7 212.8 123Q212.3 123.2 211.8 122.8Q211.4 122.4 210.2 119.8Z" fill="#353535"/>
<path d="M240.2 122.4Q250.8 120.4 236.7 117.4Q222.6 114.4 220.2 116Q217.8 117.5 216.3 120.2Q214.9 122.8 222.2 123.6Q229.5 124.4 240.2 122.4Z" fill="#1B1B1B"/>
<path d="M0.3 125.9Q-1 123.2 -1.6 123.1Q-2.2 123 -4.2 125.7Q-6.1 128.3 -6.2 128.6Q-6.2 129 -4.3 130.1Q-2.5 131.2 -0.4 129.9Q1.6 128.7 0.3 125.9Z" fill="#1B1B1B"/>
<path d="M2 122.7Q0.2 123.2 1.3 125.5Q2.4 127.8 3.9 127.8Q5.4 127.8 5.6 125.6Q5.7 123.5 4.7 122.8Q3.7 122.1 2 122.7Z" fill="#353535"/>
<path d="M8.4 125.9Q8.6 123.6 10.7 122.7Q12.8 121.9 12.8 121.9Q12.8 121.9 14.4 123.2Q15.9 124.5 15.7 126.2Q15.4 127.9 14.9 128.3Q14.4 128.8 11.6 128.8Q8.8 128.8 8.5 128.5Q8.2 128.1 8.4 125.9Z" fill="#353535"/>
<path d="M21.3 127.3Q21.1 128.2 22.8 129Q24.5 129.9 25 129.6Q25.5 129.2 24.9 127.6Q24.2 126 23.7 125.8Q23.1 125.6 22.3 126Q21.4 126.3 21.3 127.3Z" fill="#2B2B2B"/>
<path d="M31.9 126.2Q31.9 125.9 30.9 124.8Q29.9 123.7 29.1 124.1Q28.2 124.4 28.9 126Q29.5 127.6 30 127.6Q30.5 127.6 31.1 127.1Q31.8 126.5 31.9 126.2Z" fill="#111"/>
<path d="M41.4 128.5Q41.4 128.2 41 127.8Q40.6 127.4 40.1 127.9Q39.7 128.3 39.6 128.5Q39.6 128.6 40.1 129Q40.7 129.3 41.1 129.1Q41.4 128.8 41.4 128.5Z" fill="#0C0C0C"/>
<path d="M47.2 127.9Q47.1 126.9 48.7 126.3Q50.4 125.7 51.6 126.3Q52.8 126.9 52.8 127.4Q52.7 127.8 50.6 128.8Q48.6 129.8 47.9 129.4Q47.3 128.9 47.2 127.9Z" fill="#1B1B1B"/>
<path d="M57.1 131.2Q56.2 128.1 56.4 127.2Q56.5 126.4 57.6 125.6Q58.7 124.7 61.2 125.6Q63.7 126.4 64.6 128.7Q65.5 130.9 61.7 132.7Q57.9 134.4 57.1 131.2Z" fill="#353535"/>
<path d="M67 130.6Q66.5 130.3 65.7 128.3Q64.9 126.2 66.9 124.6Q69 123 71 123.7Q73 124.4 73.1 124.4Q73.1 124.5 72.1 127.8Q71.2 131 69.3 131Q67.4 130.9 67 130.6Z" fill="#0C0C0C"/>
<path d="M73.7 128.3Q72.9 131.2 74.1 132.5Q75.3 133.8 78 131.8Q80.7 129.9 79.7 128.1Q78.7 126.4 76.6 125.9Q74.6 125.3 73.7 128.3Z" fill="#2B2B2B"/>
<path d="M87.2 122.6Q85 119.8 84.8 119.8Q84.6 119.7 82.5 122.4Q80.4 125.2 81.5 127.1Q82.6 129 83.1 129.2Q83.6 129.3 85.7 128.9Q87.8 128.5 88.6 126.9Q89.4 125.4 87.2 122.6Z" fill="#161616"/>
<path d="M92.2 126Q91.3 126.3 90.5 127.9Q89.6 129.5 91.3 132.3Q93 135.1 93.1 135Q93.2 135 95.3 132.4Q97.4 129.8 97.3 128.9Q97.2 127.9 95.2 126.8Q93.1 125.7 92.2 126Z" fill="#222"/>
<path d="M100.6 131.4Q98.9 129.7 98.8 128.9Q98.7 128.1 100.4 127.4Q102.2 126.7 103.6 127.6Q105.1 128.5 105.2 130.1Q105.3 131.7 103.8 132.4Q102.3 133.1 100.6 131.4Z" fill="#353535"/>
<path d="M113.7 128.2Q115.2 129.6 113.8 130.6Q112.4 131.5 111.5 130.8Q110.6 130.2 110.6 129.3Q110.5 128.5 111.3 127.6Q112.2 126.7 113.7 128.2Z" fill="#1B1B1B"/>
<path d="M118.5 123.9Q118.1 123.5 116.7 123.7Q115.2 123.9 115.2 124Q115.1 124.1 116.4 125.3Q117.6 126.5 117.7 126.5Q117.9 126.5 118.1 126.3Q118.3 126.2 118.6 125.2Q118.9 124.3 118.5 123.9Z" fill="#222"/>
<path d="M126.7 124.5Q125.2 125.1 124.6 127.3Q123.9 129.5 125.5 130.2Q127 131 128.7 130.6Q130.4 130.2 131.1 128.7Q131.9 127.2 130 125.6Q128.1 124 126.7 124.5Z" fill="#161616"/>
<path d="M138.5 129.4Q138.3 127.9 137.6 127.6Q136.9 127.3 135.3 127.5Q133.6 127.8 132.8 129.5Q132 131.2 134.2 133.6Q136.4 136 136.5 136.1Q136.7 136.1 137.7 133.5Q138.8 130.8 138.5 129.4Z" fill="#1B1B1B"/>
<path d="M148.4 131.8Q148.8 131.3 148.2 128.5Q147.6 125.6 146.3 125.3Q144.9 124.9 142.8 126.3Q140.7 127.7 140.9 129.1Q141.1 130.5 144.5 131.4Q147.9 132.3 148.4 131.8Z" fill="#1B1B1B"/>
<path d="M152.7 130.6Q151.8 130.4 151.3 127.9Q150.7 125.3 152.4 124.1Q154 123 154 123Q154 123 156.4 125Q158.8 127 156.2 128.8Q153.5 130.7 152.7 130.6Z" fill="#161616"/>
<path d="M163.1 131.5Q163.7 135.2 164.1 135.2Q164.5 135.3 166.2 133.3Q167.9 131.4 166.8 128.9Q165.7 126.4 165.3 126.4Q164.9 126.4 163.7 127.1Q162.4 127.8 163.1 131.5Z" fill="#161616"/>
<path d="M171.1 131.1Q173.3 131.4 173.9 130.6Q174.4 129.8 174.3 129Q174.3 128.2 171.9 126.8Q169.5 125.3 168.1 125.8Q166.7 126.2 167.8 128.6Q168.8 130.9 171.1 131.1Z" fill="#353535"/>
<path d="M180.6 128.3Q180.6 128 181.4 127.1Q182.1 126.1 182.9 126.9Q183.7 127.6 183.7 128.1Q183.7 128.5 183.3 129.1Q182.8 129.6 181.8 129.1Q180.7 128.6 180.6 128.3Z" fill="#222"/>
<path d="M191 128.3Q191.3 127.6 190.8 127Q190.3 126.4 189.4 126.9Q188.4 127.4 188.4 127.9Q188.4 128.4 189.6 128.7Q190.8 129 191 128.3Z" fill="#222"/>
<path d="M194.3 129.4Q194.9 127.8 197.4 127.3Q199.9 126.8 201.4 129.2Q203 131.5 201.4 133.4Q199.7 135.3 196.9 134.1Q194 132.8 193.9 131.9Q193.7 131.1 194.3 129.4Z" fill="#1B1B1B"/>
<path d="M206 123.6Q209.7 123.7 210.2 124.1Q210.6 124.5 210.3 126.2Q210 128 207.4 129Q204.7 130.1 204.5 130.1Q204.4 130.1 203 128Q201.6 126 201.9 124.7Q202.2 123.5 206 123.6Z" fill="#222"/>
<path d="M222.6 129Q216.5 131.7 215 130.1Q213.5 128.4 213.8 126.8Q214.1 125.2 214.5 125Q214.8 124.8 221.8 125.6Q228.7 126.3 222.6 129Z" fill="#161616"/>
<path d="M-5.6 132.4Q-7.2 131.5 -10.6 133.3Q-14 135.2 -11 138.2Q-8 141.1 -5.4 139.2Q-2.8 137.3 -2.8 137.1Q-2.7 137 -3.3 135.2Q-4 133.4 -5.6 132.4Z" fill="#111"/>
<path d="M4.2 129.7Q2.3 129.7 0.2 131Q-2 132.4 -1.3 134.5Q-0.5 136.7 2.7 136.5Q6 136.3 6.4 133.4Q6.8 130.6 6.5 130.1Q6.1 129.7 4.2 129.7Z" fill="#222"/>
<path d="M13.2 134.5Q13.2 136.4 11.6 136.4Q10 136.3 9.7 135.9Q9.3 135.4 9.5 134Q9.7 132.6 11.5 132.6Q13.3 132.6 13.2 134.5Z" fill="#111"/>
<path d="M20.7 133.2Q19 132.3 18.7 132.6Q18.4 132.8 18.4 134.6Q18.4 136.3 18.8 136.8Q19.3 137.2 20.5 136.7Q21.6 136.1 22 135.1Q22.4 134 20.7 133.2Z" fill="#161616"/>
<path d="M28.8 135.5Q28.1 135.9 27.7 137.1Q27.3 138.2 28.2 138.9Q29 139.6 30.5 138.9Q32 138.1 31.2 136.6Q30.5 135.2 29.9 135.2Q29.4 135.1 28.8 135.5Z" fill="#353535"/>
<path d="M37.4 133.6Q37.7 133.8 37.7 134.1Q37.7 134.5 37.5 134.5Q37.3 134.6 37.2 134.5Q37 134.5 36.8 134.1Q36.6 133.7 36.8 133.5Q37 133.4 37.4 133.6Z" fill="#353535"/>
<path d="M44.1 133.4Q44.8 132.9 45.2 133.2Q45.7 133.6 45.9 134.3Q46.1 135.1 45.5 135.8Q44.8 136.4 44 136.2Q43.1 136 43.2 134.9Q43.3 133.9 44.1 133.4Z" fill="#353535"/>
<path d="M49 133.7Q49.5 135.5 52.3 136Q55.1 136.6 55.7 135.8Q56.3 134.9 56.4 134.7Q56.4 134.5 55.7 131.6Q54.9 128.7 51.7 130.3Q48.5 131.9 49 133.7Z" fill="#161616"/>
<path d="M58.8 135.2Q58.9 135 62.2 133.5Q65.5 131.9 65.9 132.2Q66.3 132.5 65.7 135.2Q65 138 61.9 136.7Q58.8 135.4 58.8 135.2Z" fill="#2B2B2B"/>
<path d="M66.9 135.5Q67.5 132.8 69.2 132.9Q70.9 132.9 72.1 134.3Q73.3 135.6 73.4 136.7Q73.5 137.7 72.3 138.7Q71 139.7 69 139.6Q66.9 139.5 66.5 138.8Q66.2 138.2 66.9 135.5Z" fill="#1B1B1B"/>
<path d="M81.5 141.1Q82 141.2 82.9 140.5Q83.7 139.9 83.4 135.5Q83.1 131.1 82.6 131Q82 130.8 78.9 133.1Q75.7 135.4 75.7 136.6Q75.8 137.8 78.3 139.4Q80.9 141.1 81.5 141.1Z" fill="#161616"/>
<path d="M89.3 133.6Q90.6 135.8 89.8 137Q89 138.3 87 138.5Q84.9 138.8 84.7 135.4Q84.5 132 86.2 131.7Q87.9 131.3 89.3 133.6Z" fill="#111"/>
<path d="M95.9 132.9Q97.9 130.4 99.9 132.3Q101.9 134.2 100.9 135.3Q100 136.4 99.6 136.6Q99.1 136.9 96.5 136.2Q93.9 135.4 95.9 132.9Z" fill="#2B2B2B"/>
<path d="M103.1 137.1Q102.4 137.9 104.6 139.6Q106.7 141.4 107.9 140.1Q109.1 138.8 109.1 138Q109 137.2 107.7 136.2Q106.3 135.2 105 135.8Q103.8 136.3 103.1 137.1Z" fill="#222"/>
<path d="M118.2 139.4Q115.3 139.8 114.7 139.2Q114 138.6 114 137.7Q113.9 136.7 116.6 135Q119.2 133.2 119.5 133.2Q119.8 133.1 120.4 136.1Q121 139.1 118.2 139.4Z" fill="#111"/>
<path d="M124.2 135.1Q123.4 134.8 123.2 134.9Q123 135.1 123.2 136.5Q123.5 137.9 124.1 138.6Q124.7 139.3 125.2 138.5Q125.7 137.7 125.3 136.6Q125 135.5 124.2 135.1Z" fill="#161616"/>
<path d="M128.9 132.3Q126.8 132.8 127.8 135.5Q128.7 138.2 132.3 137.7Q135.9 137.1 133.4 134.4Q131 131.8 128.9 132.3Z" fill="#222"/>
<path d="M146.7 135.8Q147.5 133.6 144.2 132.7Q140.8 131.7 139.9 134.2Q138.9 136.7 139.4 137.4Q139.9 138.2 141.3 139Q142.8 139.8 144.4 139Q146 138.1 146.7 135.8Z" fill="#2B2B2B"/>
<path d="M150.3 133.5Q150.9 133 151.9 133.1Q153 133.3 155.5 135.8Q158.1 138.3 157.4 139.6Q156.7 140.9 153.8 140.7Q151 140.6 149.5 139.9Q148.1 139.2 149 136.7Q149.8 134.1 150.3 133.5Z" fill="#1B1B1B"/>
<path d="M156.3 135Q153.6 132.4 157.1 129.9Q160.7 127.4 160.8 127.4Q160.9 127.4 161.6 131.7Q162.4 136 160.7 136.8Q159 137.7 156.3 135Z" fill="#222"/>
<path d="M173.4 134.4Q173.8 132.4 171.2 132.1Q168.6 131.8 166.7 134Q164.8 136.2 166 137Q167.3 137.9 170.1 137.1Q172.9 136.4 173.4 134.4Z" fill="#111"/>
<path d="M175.1 134.8Q175.5 132.8 176.1 131.9Q176.8 131.1 179.6 132.4Q182.5 133.7 183 135.4Q183.6 137 183.2 137.5Q182.8 138 179.5 138.4Q176.2 138.8 175.4 137.8Q174.6 136.8 175.1 134.8Z" fill="#222"/>
<path d="M189.4 130.7Q192.3 131.4 192.4 132.2Q192.6 133.1 190.9 135Q189.1 137 187.2 136.8Q185.3 136.5 184.7 134.8Q184.1 133.1 185.3 131.6Q186.5 130 189.4 130.7Z" fill="#0C0C0C"/>
<path d="M191.7 135.8Q189.9 137.8 191.7 140.6Q193.6 143.4 196.5 141.8Q199.4 140.1 199.4 138.3Q199.4 136.4 196.4 135.1Q193.5 133.8 191.7 135.8Z" fill="#0C0C0C"/>
<path d="M201.8 140.2Q201.4 139.9 201.3 138.2Q201.3 136.5 202.8 134.7Q204.4 133 204.6 133Q204.7 133 207 136.5Q209.3 140 209.2 140.2Q209.1 140.4 205.6 140.5Q202.2 140.5 201.8 140.2Z" fill="#2B2B2B"/>
<path d="M214.1 134.9Q214.1 135.7 212 137.5Q210 139.2 207.9 135.9Q205.8 132.6 208.4 131.6Q211 130.5 212.5 132.3Q214.1 134 214.1 134.9Z" fill="#111"/>
<path d="M-3.3 141.8Q-5.1 143.2 -5 143.7Q-5 144.3 -2.7 145.2Q-0.4 146.1 0.3 145.8Q0.9 145.5 -0.2 142.9Q-1.4 140.4 -3.3 141.8Z" fill="#1B1B1B"/>
<path d="M3 139.5Q4.5 139.4 4.9 139.8Q5.2 140.2 4.6 141.9Q4.1 143.6 3.7 143.6Q3.3 143.6 2.4 141.7Q1.5 139.7 1.5 139.7Q1.5 139.6 3 139.5Z" fill="#111"/>
<path d="M13.8 145.3Q14.4 144.3 14.5 143.4Q14.5 142.5 14 142Q13.4 141.4 11.5 141.3Q9.7 141.2 8.9 143.4Q8.2 145.6 8.5 145.8Q8.7 145.9 10.9 146.1Q13.2 146.2 13.8 145.3Z" fill="#2B2B2B"/>
<path d="M22.9 145.3Q24.2 145.9 25.4 145.8Q26.6 145.7 26.3 144.5Q26 143.3 25.2 142.6Q24.4 142 23 142.6Q21.7 143.1 21.7 143.9Q21.6 144.6 22.9 145.3Z" fill="#0C0C0C"/>
<path d="M31.6 144.3Q31.8 144.5 32.7 144.2Q33.5 144 33.6 143Q33.7 142 33.3 141.7Q32.9 141.5 32 142Q31 142.5 31.2 143.3Q31.4 144.1 31.6 144.3Z" fill="#111"/>
<path d="M39.6 148.3Q37.5 146.8 37.8 143.6Q38.1 140.4 39.4 139.7Q40.8 139.1 42.8 139.6Q44.8 140.1 45.5 141.9Q46.2 143.6 44 146.7Q41.7 149.8 39.6 148.3Z" fill="#353535"/>
<path d="M52 137.5Q49.1 136.9 47.6 138.3Q46.1 139.8 46.7 141.4Q47.4 143 49.4 143.6Q51.5 144.1 53.3 143.4Q55 142.7 54.9 140.4Q54.8 138.1 52 137.5Z" fill="#353535"/>
<path d="M58.1 137.6Q58.7 136.8 61.5 138Q64.3 139.1 64.6 139.7Q64.9 140.3 64 141.5Q63.2 142.7 61.1 143Q59 143.2 58.4 142.7Q57.8 142.2 57.7 140.2Q57.6 138.3 58.1 137.6Z" fill="#111"/>
<path d="M68.9 146Q70.7 145 70.7 143.5Q70.7 142 68.8 141.9Q66.9 141.8 66.1 143Q65.3 144.1 66.2 145.6Q67.1 147.1 68.9 146Z" fill="#1B1B1B"/>
<path d="M77.2 145.4Q75.2 148.1 74.1 146.5Q72.9 145 72.9 143.5Q72.9 142 74 141.1Q75.1 140.2 77.1 141.5Q79.1 142.8 77.2 145.4Z" fill="#222"/>
<path d="M84.8 145.9Q86 149.1 89.3 148.2Q92.5 147.3 91.1 144.1Q89.6 140.9 87.4 141.3Q85.1 141.6 84.3 142.2Q83.6 142.7 84.8 145.9Z" fill="#2B2B2B"/>
<path d="M96 137.9Q93.5 137.2 93.4 137.2Q93.3 137.2 92.3 138.6Q91.4 140 92.9 143.3Q94.4 146.6 94.5 146.6Q94.6 146.7 96.6 145.6Q98.5 144.6 98.5 141.6Q98.5 138.7 96 137.9Z" fill="#111"/>
<path d="M101.4 139.3Q101.1 139.4 101.1 141.5Q101.1 143.7 102.7 144.1Q104.4 144.5 104.5 144.5Q104.7 144.5 105.2 143.4Q105.7 142.3 103.7 140.7Q101.7 139.1 101.4 139.3Z" fill="#111"/>
<path d="M114.7 142.9Q113.6 141.1 112.8 140.3Q112 139.6 110.2 141.5Q108.3 143.4 107.5 145.2Q106.7 146.9 108.6 148.9Q110.4 150.9 113.1 147.8Q115.9 144.7 114.7 142.9Z" fill="#2B2B2B"/>
<path d="M124.4 144.1Q124.3 145 123.1 145.7Q121.8 146.3 119.3 145.2Q116.8 144.1 115.7 142.3Q114.6 140.6 118.1 140.1Q121.5 139.7 123 141.4Q124.4 143.2 124.4 144.1Z" fill="#2B2B2B"/>
<path d="M133.8 143Q136.7 140.2 136.3 139.4Q135.8 138.7 135.6 138.6Q135.5 138.6 132.3 139Q129.2 139.5 128 141.3Q126.9 143.1 126.9 143.8Q126.9 144.6 128 145.2Q129.1 145.8 130 145.8Q130.9 145.8 133.8 143Z" fill="#353535"/>
<path d="M139.2 142.6Q137.8 141.8 135.1 144.4Q132.4 147 134.4 148.4Q136.4 149.8 138.6 148.2Q140.8 146.6 140.7 145Q140.6 143.4 139.2 142.6Z" fill="#222"/>
<path d="M148.9 141.7Q150.2 142.3 150.6 145.3Q151 148.4 149 148.8Q147 149.3 145.7 147.8Q144.5 146.3 144.3 144.6Q144.2 142.9 145.9 142Q147.6 141.1 148.9 141.7Z" fill="#161616"/>
<path d="M153.7 142.3Q151 142.1 151.4 145.2Q151.8 148.4 152.9 148.5Q154 148.7 155.7 147.5Q157.3 146.4 156.9 144.4Q156.4 142.4 153.7 142.3Z" fill="#353535"/>
<path d="M160 141Q160.6 139.9 161.9 139.2Q163.1 138.6 163.4 138.6Q163.8 138.7 164.8 139.4Q165.8 140 166 142.4Q166.3 144.7 164.3 145.6Q162.3 146.5 161.3 145.9Q160.2 145.4 159.9 143.7Q159.5 142 160 141Z" fill="#353535"/>
<path d="M170.4 138.2Q173.3 137.5 174.2 138.6Q175.1 139.7 175 143.2Q174.8 146.7 174.1 147.3Q173.4 147.8 170.8 146.5Q168.2 145.3 167.8 142.1Q167.4 139 170.4 138.2Z" fill="#161616"/>
<path d="M182.6 142.7Q182.8 139.4 179.6 139.7Q176.5 140.1 176.4 143.1Q176.3 146.1 179.3 146Q182.4 146 182.6 142.7Z" fill="#222"/>
<path d="M187 138.1Q185 137.9 184.6 138.4Q184.1 139 183.9 142.8Q183.7 146.6 183.9 146.8Q184.1 147 188.1 146.6Q192 146.3 192.4 145.1Q192.8 144 190.9 141.2Q189 138.3 187 138.1Z" fill="#222"/>
<path d="M200.5 141.8Q200 141.5 197.2 143Q194.4 144.6 194 145.6Q193.7 146.7 194 147.4Q194.3 148 196.4 149Q198.5 150.1 200.7 149.3Q202.9 148.5 201.9 145.3Q200.9 142.1 200.5 141.8Z" fill="#1B1B1B"/>
<path d="M202.9 145Q201.9 141.7 205.6 141.7Q209.4 141.6 210.1 144.3Q210.9 146.9 209.1 148.4Q207.3 149.9 205.6 149Q203.9 148.2 202.9 145Z" fill="#0C0C0C"/>
<path d="M217.9 140.1Q215.5 137.6 213.6 139.3Q211.6 141 211.5 141.2Q211.4 141.4 212 143.6Q212.7 145.8 214.8 146.2Q217 146.6 218.6 144.6Q220.2 142.6 217.9 140.1Z" fill="#161616"/>
<path d="M45.8 154.7Q47.8 159.5 49.2 152.7Q50.6 145.9 48.9 145.4Q47.2 145 45.5 147.4Q43.7 149.9 45.8 154.7Z" fill="#2B2B2B"/>
<path d="M63.6 157.6Q63.4 167 63.3 167.3Q63.3 167.6 62.2 157.3Q61.1 147 62.1 146.9Q63.1 146.8 63.5 147.5Q63.9 148.2 63.6 157.6Z" fill="#161616"/>
<path d="M74.8 157.2Q74.5 149.5 73.1 147.5Q71.6 145.5 69.3 146.9Q67.1 148.2 66.4 173.9Q65.7 199.5 70.4 182.3Q75.1 165 74.8 157.2Z" fill="#1B1B1B"/>
<path d="M76.3 156.8Q76 149.3 78.3 146.1Q80.7 143 81.2 143Q81.8 143.1 83.1 146.5Q84.4 150 80.5 157.1Q76.6 164.2 76.3 156.8Z" fill="#1B1B1B"/>
</g>
</g>
<text x="661.7" y="42.6" font-size="22.5" fill="#fff" font-weight="bold" textLength="191.3" lengthAdjust="spacingAndGlyphs">Coral-like structure</text>
<text x="827" y="140" font-size="10.5" fill="#fff" font-weight="bold" textLength="34.4" lengthAdjust="spacingAndGlyphs">30 μm</text>
<rect x="831.6" y="146.5" width="19.2" height="5.3" fill="#fff"/>
<path d="M658.7 209.8 L661.5 206 L665.8 203.6 L670.9 202.2 L676.5 201.1 L682 199.9 L687.1 198.5 L692 197.2 L697.4 196.2 L703.8 195.4 L712 195 L722.2 195 L733.9 195.3 L746.8 195.9 L760.3 196.6 L774 197.4 L789.1 198.2 L806 199.2 L822.8 200.2 L837.5 201.3 L848.4 202.4 L854.5 203.2 L857 203.8 L857.3 204.6 L856.9 206.1 L857 208.6 L857.6 212.4 L857.7 217.3 L857.5 222.8 L857.2 228.7 L857 234.6 L857 240.9 L857.1 247.8 L857 254.7 L856.7 261.2 L855.9 266.8 L854.6 271.2 L852.9 274.6 L850.9 277.6 L848.6 280.6 L846 284 L843 288 L839.5 292.2 L835.7 296.5 L832 300.5 L828.6 304 L825.6 307.1 L822.9 310 L820.2 312.4 L817.3 314.3 L813.7 315.5 L809.6 315.8 L805.3 315.4 L800.5 314.5 L795.1 313.1 L789 311.5 L782.1 309.6 L774.6 307.2 L766.4 304.6 L757.8 301.8 L749 299 L739.4 296.1 L729.1 292.9 L718.6 289.7 L708.5 286.7 L699.6 284 L691.6 282 L684.2 280.6 L677.5 279.2 L671.8 277.3 L667.4 274.3 L664.6 270.1 L663.4 265.1 L663 259.5 L662.9 253.4 L662.4 247 L661.1 239.8 L659.5 231.5 L658.2 223.2 L657.7 215.7Z" fill="#B0B0B0"/>
<filter id="hgB" x="-30%" y="-30%" width="160%" height="160%"><feGaussianBlur stdDeviation="3"/></filter>
<filter id="hgB2" x="-30%" y="-30%" width="160%" height="160%"><feGaussianBlur stdDeviation="1.6"/></filter>
<clipPath id="hgC"><path d="M658.7 209.8 L661.5 206 L665.8 203.6 L670.9 202.2 L676.5 201.1 L682 199.9 L687.1 198.5 L692 197.2 L697.4 196.2 L703.8 195.4 L712 195 L722.2 195 L733.9 195.3 L746.8 195.9 L760.3 196.6 L774 197.4 L789.1 198.2 L806 199.2 L822.8 200.2 L837.5 201.3 L848.4 202.4 L854.5 203.2 L857 203.8 L857.3 204.6 L856.9 206.1 L857 208.6 L857.6 212.4 L857.7 217.3 L857.5 222.8 L857.2 228.7 L857 234.6 L857 240.9 L857.1 247.8 L857 254.7 L856.7 261.2 L855.9 266.8 L854.6 271.2 L852.9 274.6 L850.9 277.6 L848.6 280.6 L846 284 L843 288 L839.5 292.2 L835.7 296.5 L832 300.5 L828.6 304 L825.6 307.1 L822.9 310 L820.2 312.4 L817.3 314.3 L813.7 315.5 L809.6 315.8 L805.3 315.4 L800.5 314.5 L795.1 313.1 L789 311.5 L782.1 309.6 L774.6 307.2 L766.4 304.6 L757.8 301.8 L749 299 L739.4 296.1 L729.1 292.9 L718.6 289.7 L708.5 286.7 L699.6 284 L691.6 282 L684.2 280.6 L677.5 279.2 L671.8 277.3 L667.4 274.3 L664.6 270.1 L663.4 265.1 L663 259.5 L662.9 253.4 L662.4 247 L661.1 239.8 L659.5 231.5 L658.2 223.2 L657.7 215.7Z"/></clipPath>
<g clip-path="url(#hgC)">
<g filter="url(#hgB)">
<path d="M672 216 L806 228 L808 303 L700 274 L671 262Z" fill="#C3C3C3"/>
<path d="M816 224 L853 212 L852 268 L818 309Z" fill="#CFCFCF"/>
</g>
<g filter="url(#hgB2)">
<path d="M661 210 L712 196.5 L851 203.5 L856 209 L812 221 L735 214Z" fill="#CDCDCD" opacity="0.9"/>
<path d="M809 222 L813 314" stroke="#A6A6A6" stroke-width="2.2" fill="none" opacity="0.8"/>
<path d="M660 211 L735 215 L810 222 L856 209.5" stroke="#A9A9A9" stroke-width="1.6" fill="none" opacity="0.7"/>
</g>
<g filter="url(#hgB)">
<ellipse cx="678" cy="238" rx="7" ry="14" fill="#A2A2A2" opacity="0.6"/>
<ellipse cx="700" cy="268" rx="14" ry="7" fill="#CFCFCF" opacity="0.6"/>
<ellipse cx="742" cy="287" rx="18" ry="6" fill="#A3A3A3" opacity="0.55"/>
<ellipse cx="782" cy="298" rx="14" ry="6" fill="#CCCCCC" opacity="0.6"/>
<ellipse cx="669" cy="262" rx="6" ry="9" fill="#CECECE" opacity="0.6"/>
<ellipse cx="836" cy="246" rx="8" ry="18" fill="#DADADA" opacity="0.7"/>
<ellipse cx="828" cy="288" rx="8" ry="9" fill="#B2B2B2" opacity="0.6"/>
<ellipse cx="845" cy="224" rx="5" ry="10" fill="#B8B8B8" opacity="0.6"/>
<ellipse cx="798" cy="304" rx="9" ry="6" fill="#A2A2A2" opacity="0.5"/>
<ellipse cx="716" cy="284" rx="9" ry="4" fill="#A2A2A2" opacity="0.5"/>
<ellipse cx="690" cy="214" rx="14" ry="4" fill="#BDBDBD" opacity="0.6"/>
<ellipse cx="770" cy="206" rx="30" ry="3" fill="#DCDCDC" opacity="0.6"/>
</g></g>
<path d="M685.9 233.5 L689.8 233 L693.7 232.3 L697.5 231.5 L701.4 231 L705.4 230.7 L709.6 230.8 L714 231.4 L718.6 232.5 L723.3 233.8 L728 235.2 L732.8 236.6 L737.5 237.7 L742.1 238.7 L746.7 239.7 L751.4 240.7 L756 241.4 L760.7 241.9 L765.3 241.9 L770.1 241.3 L775 240.2 L779.9 238.9 L784.7 237.4 L789.2 236 L793.2 234.9 L796.6 234.2 L799.6 233.7 L802.2 233.3 L804.7 232.9 L807.2 232.6 L809.9 232.1" fill="none" stroke="#F5AE5A" stroke-width="3.5" stroke-linecap="butt" stroke-linejoin="round" opacity="0.8"/>
<path d="M687.3 260 L691.5 260.6 L695.7 261.2 L699.9 261.9 L704 262.5 L708.2 262.8 L712.4 262.8 L716.5 262.3 L720.7 261.4 L724.8 260.3 L728.9 259.2 L733.1 258.1 L737.5 257.2 L742 256.5 L746.6 255.8 L751.4 255.2 L756.1 254.7 L760.8 254.5 L765.3 254.4 L769.7 254.8 L774.2 255.6 L778.5 256.5 L782.7 257.5 L786.7 258.2 L790.4 258.6 L793.6 258.5 L796.6 258.2 L799.3 257.6 L801.8 257 L804.4 256.4 L807.1 255.8" fill="none" stroke="#F5AE5A" stroke-width="3.5" stroke-linecap="butt" stroke-linejoin="round" opacity="0.8"/>
<path d="M704 209.9 L708.3 210.8 L712.5 211.6 L716.8 212.5 L721 213.4 L725.1 214.4 L729.1 215.4 L733 216.7 L736.7 218 L740.4 219.4 L744.1 220.8 L747.7 222.3 L751.4 223.8 L755.1 225.3 L758.8 226.9 L762.5 228.5 L766.2 230.1 L770 231.8 L773.7 233.5 L777.4 235.3 L781.1 237.2 L784.8 239 L788.5 240.9 L792.2 242.8 L795.9 244.7" fill="none" stroke="#F5AE5A" stroke-width="3.5" stroke-linecap="butt" stroke-linejoin="round" opacity="0.8"/>
<path d="M712.4 244.7 L716.1 244.1 L719.8 243.3 L723.5 242.6 L727.3 242 L731 241.7 L734.7 241.9 L738.4 242.6 L742.1 243.7 L745.8 245.1 L749.5 246.7 L753.2 248.5 L757 250.3 L760.7 252.1 L764.5 254.1 L768.4 256.2 L772.1 258.3 L775.8 260.6 L779.2 262.8 L782.5 265 L785.6 267.3 L788.5 269.7 L791.5 272 L794.4 274.4 L797.3 276.7" fill="none" stroke="#F5AE5A" stroke-width="3.5" stroke-linecap="butt" stroke-linejoin="round" opacity="0.8"/>
<path d="M706.8 207.1 L709.6 207.2 L712.4 207.3 L715.2 207.3 L718 207.5 L720.8 207.8 L723.5 208.5 L726.3 209.6 L729.1 211.1 L731.9 212.8 L734.7 214.5 L737.5 215.9 L740.3 216.8 L743 217.2 L745.8 217.1 L748.6 216.7 L751.4 216.3 L754.2 215.8 L757 215.4" fill="none" stroke="#F5AE5A" stroke-width="3.5" stroke-linecap="butt" stroke-linejoin="round" opacity="0.8"/>
<path d="M759.7 223.8 L763 224.3 L766.3 224.9 L769.7 225.4 L772.9 226 L776.1 226.4 L779.2 226.6 L782.2 226.6 L785.2 226.5 L788 226.2 L790.8 225.9 L793.4 225.5 L795.9 225.2 L798.3 224.9 L800.4 224.5 L802.5 224.1 L804.5 223.7 L806.4 223.3 L808.5 223" fill="none" stroke="#F5AE5A" stroke-width="3.5" stroke-linecap="butt" stroke-linejoin="round" opacity="0.8"/>
<path d="M685.9 211.3 L687.7 213.5 L689.5 215.7 L691.3 217.9 L693.1 220.1 L694.6 222.5 L695.7 225.2 L696.5 228.1 L696.9 231.4 L697.2 234.8 L697.2 238.2 L697.2 241.5 L697.1 244.7 L696.7 247.7 L695.8 250.6 L694.8 253.4 L694 256.1 L693.8 258.8 L694.3 261.4 L695.8 263.9 L698.1 266.2 L700.8 268.5 L703.8 270.8 L706.9 273 L709.6 275.3" fill="none" stroke="#4BA578" stroke-width="3.4" stroke-linecap="butt" stroke-linejoin="round" opacity="0.8"/>
<path d="M719.4 201.5 L721.1 204 L722.9 206.4 L724.7 208.7 L726.4 211.2 L727.9 213.9 L729.1 216.8 L730.1 220.2 L731.1 223.8 L731.8 227.7 L732.3 231.6 L732.3 235.5 L731.9 239.1 L730.6 242.6 L728.5 245.9 L726 249.2 L723.5 252.4 L721.6 255.5 L720.8 258.6 L721 261.6 L722.1 264.4 L723.7 267.1 L725.6 269.8 L727.5 272.6 L729.1 275.3" fill="none" stroke="#4BA578" stroke-width="3.4" stroke-linecap="butt" stroke-linejoin="round" opacity="0.8"/>
<path d="M731.9 209.9 L732.7 212.9 L733.6 216 L734.5 219 L735.3 222 L735.9 225 L736.1 228 L735.8 230.8 L735 233.6 L734 236.4 L733 239.2 L732.2 241.9 L731.9 244.7 L732.1 247.5 L732.7 250.3 L733.5 253 L734.4 255.8 L735.3 258.6 L736.1 261.4" fill="none" stroke="#4BA578" stroke-width="3.4" stroke-linecap="butt" stroke-linejoin="round" opacity="0.8"/>
<path d="M769.5 207.1 L767.7 209.6 L765.8 212 L763.8 214.5 L762.1 217 L760.6 219.6 L759.7 222.4 L759.5 225.4 L759.9 228.5 L760.6 231.7 L761.4 235 L762.2 238.4 L762.5 241.9 L762.7 245.5 L762.7 249.4 L762.7 253.4 L762.5 257.3 L762 260.9 L761.1 264.2 L759.8 267 L758.1 269.4 L756.2 271.7 L754.1 273.8 L752 275.9 L750 278.1" fill="none" stroke="#4BA578" stroke-width="3.4" stroke-linecap="butt" stroke-linejoin="round" opacity="0.8"/>
<path d="M807.1 225.2 L805.1 226.9 L803 228.6 L800.9 230.2 L798.9 232 L797.2 234 L795.9 236.3 L795.2 239.1 L795 242.3 L795 245.7 L795.1 249.2 L795 252.6 L794.6 255.8 L793.8 258.9 L792.9 262 L791.9 265.1 L790.6 267.9 L789.2 270.5 L787.6 272.5 L785.7 274 L783.5 275.1 L781.1 275.8 L778.6 276.3 L776.1 276.8 L773.7 277.5" fill="none" stroke="#4BA578" stroke-width="3.4" stroke-linecap="butt" stroke-linejoin="round" opacity="0.8"/>
<path d="M770.9 209.9 L773.2 211.3 L775.5 212.7 L777.8 214 L780.1 215.4 L782.4 216.8 L784.8 218.2 L787.3 219.6 L789.8 221 L792.4 222.4 L795 223.8 L797.6 225.2 L800.1 226.6" fill="none" stroke="#4BA578" stroke-width="3.4" stroke-linecap="butt" stroke-linejoin="round" opacity="0.8"/>
<ellipse cx="711" cy="207.1" rx="3.4" ry="1.7" fill="#36986A" transform="rotate(10 711 207.1)"/>
<ellipse cx="741.6" cy="211.3" rx="3.4" ry="1.7" fill="#36986A" transform="rotate(20 741.6 211.3)"/>
<ellipse cx="745.8" cy="215.4" rx="3.4" ry="1.7" fill="#36986A" transform="rotate(-160 745.8 215.4)"/>
<ellipse cx="777.8" cy="216.8" rx="3.4" ry="1.7" fill="#36986A" transform="rotate(15 777.8 216.8)"/>
<ellipse cx="791.8" cy="223" rx="3.4" ry="1.7" fill="#36986A" transform="rotate(10 791.8 223)"/>
<ellipse cx="702.7" cy="222.4" rx="3.4" ry="1.7" fill="#36986A" transform="rotate(20 702.7 222.4)"/>
<ellipse cx="731.9" cy="233.5" rx="3.4" ry="1.7" fill="#36986A" transform="rotate(40 731.9 233.5)"/>
<ellipse cx="751.4" cy="239.1" rx="3.4" ry="1.7" fill="#36986A" transform="rotate(30 751.4 239.1)"/>
<ellipse cx="779.2" cy="246.1" rx="3.4" ry="1.7" fill="#36986A" transform="rotate(20 779.2 246.1)"/>
<ellipse cx="800.1" cy="241.9" rx="3.4" ry="1.7" fill="#36986A" transform="rotate(80 800.1 241.9)"/>
<ellipse cx="705.4" cy="241.9" rx="3.4" ry="1.7" fill="#36986A" transform="rotate(60 705.4 241.9)"/>
<ellipse cx="731.9" cy="253" rx="3.4" ry="1.7" fill="#36986A" transform="rotate(20 731.9 253)"/>
<ellipse cx="751.4" cy="262.8" rx="3.4" ry="1.7" fill="#36986A" transform="rotate(10 751.4 262.8)"/>
<ellipse cx="769.5" cy="260" rx="3.4" ry="1.7" fill="#36986A" transform="rotate(30 769.5 260)"/>
<ellipse cx="709.6" cy="260" rx="3.4" ry="1.7" fill="#36986A" transform="rotate(-120 709.6 260)"/>
<path d="M705.4 207.5 Q708.2 212.1 711 207.5 Q708.2 210.1 705.4 207.5Z M708.2 210.5 L708.2 213.1" stroke="#F29A2E" stroke-width="1.2" fill="#F29A2E"/>
<path d="M745.8 211.6 Q748.6 216.2 751.4 211.6 Q748.6 214.2 745.8 211.6Z M748.6 214.6 L748.6 217.2" stroke="#F29A2E" stroke-width="1.2" fill="#F29A2E"/>
<path d="M801.5 224.2 Q804.3 228.8 807.1 224.2 Q804.3 226.8 801.5 224.2Z M804.3 227.2 L804.3 229.8" stroke="#F29A2E" stroke-width="1.2" fill="#F29A2E"/>
<path d="M711 240.9 Q713.8 245.5 716.6 240.9 Q713.8 243.5 711 240.9Z M713.8 243.9 L713.8 246.5" stroke="#F29A2E" stroke-width="1.2" fill="#F29A2E"/>
<path d="M705.4 252 Q708.2 256.6 711 252 Q708.2 254.6 705.4 252Z M708.2 255 L708.2 257.6" stroke="#F29A2E" stroke-width="1.2" fill="#F29A2E"/>
<path d="M734.7 259 Q737.5 263.6 740.3 259 Q737.5 261.6 734.7 259Z M737.5 262 L737.5 264.6" stroke="#F29A2E" stroke-width="1.2" fill="#F29A2E"/>
<path d="M768.1 261.8 Q770.9 266.4 773.7 261.8 Q770.9 264.4 768.1 261.8Z M770.9 264.8 L770.9 267.4" stroke="#F29A2E" stroke-width="1.2" fill="#F29A2E"/>
<path d="M797.3 246.5 Q800.1 251.1 802.9 246.5 Q800.1 249.1 797.3 246.5Z M800.1 249.5 L800.1 252.1" stroke="#F29A2E" stroke-width="1.2" fill="#F29A2E"/>
<path d="M722.1 219.4 Q724.9 224 727.7 219.4 Q724.9 222 722.1 219.4Z M724.9 222.4 L724.9 225" stroke="#F29A2E" stroke-width="1.2" fill="#F29A2E"/>
<path d="M747.2 227 Q750 231.6 752.8 227 Q750 229.6 747.2 227Z M750 230 L750 232.6" stroke="#F29A2E" stroke-width="1.2" fill="#F29A2E"/>
<path d="M776.4 236.7 Q779.2 241.3 782 236.7 Q779.2 239.3 776.4 236.7Z M779.2 239.7 L779.2 242.3" stroke="#F29A2E" stroke-width="1.2" fill="#F29A2E"/>
<radialGradient id="agH" cx="0.38" cy="0.32" r="0.7"><stop offset="0" stop-color="#A8A6A2"/><stop offset="0.5" stop-color="#716E6A"/><stop offset="1" stop-color="#55524F"/></radialGradient>
<ellipse cx="716.6" cy="223" rx="3.8" ry="3.2" fill="url(#agH)"/>
<ellipse cx="784" cy="221" rx="3.8" ry="3.2" fill="url(#agH)"/>
<ellipse cx="745" cy="232" rx="3.8" ry="3.2" fill="url(#agH)"/>
<ellipse cx="774.5" cy="242.5" rx="3.8" ry="3.2" fill="url(#agH)"/>
<ellipse cx="712.4" cy="248.9" rx="3.8" ry="3.2" fill="url(#agH)"/>
<ellipse cx="743.6" cy="256.4" rx="3.8" ry="3.2" fill="url(#agH)"/>
<text x="14.8" y="35.5" font-size="21" fill="#000" font-weight="bold">a</text>
<text x="47" y="70.4" font-size="22.2" fill="#9A6B44" font-weight="bold" textLength="112.8" lengthAdjust="spacingAndGlyphs">Caffeic acid</text>
<text x="83.8" y="97.5" font-size="22.2" fill="#9A6B44" font-weight="bold" textLength="46.7" lengthAdjust="spacingAndGlyphs">(CA)</text>
<line x1="70.7" y1="151.6" x2="67.6" y2="139.5" stroke="#7A4A1C" stroke-width="2.1" stroke-linecap="round"/>
<line x1="67.4" y1="152.4" x2="64.3" y2="140.3" stroke="#7A4A1C" stroke-width="2.1" stroke-linecap="round"/>
<text x="66.2" y="131.8" font-size="14" font-family="'Liberation Sans', sans-serif" font-weight="bold" fill="#7A4A1C" text-anchor="middle" dominant-baseline="central">O</text>
<line x1="70.7" y1="151.6" x2="62.5" y2="160.5" stroke="#7A4A1C" stroke-width="2.1" stroke-linecap="round"/>
<text x="51.6" y="169.5" font-size="14" font-family="'Liberation Sans', sans-serif" font-weight="bold" fill="#7A4A1C" text-anchor="middle" dominant-baseline="central" transform="rotate(-14 51.6 169.5)">HO</text>
<line x1="70.7" y1="151.6" x2="91" y2="156.1" stroke="#7A4A1C" stroke-width="2.1" stroke-linecap="round"/>
<line x1="91" y1="156.1" x2="106.6" y2="143.3" stroke="#7A4A1C" stroke-width="2.1" stroke-linecap="round"/>
<line x1="94.5" y1="157.9" x2="107.6" y2="147.1" stroke="#7A4A1C" stroke-width="2.1" stroke-linecap="round"/>
<line x1="106.6" y1="143.3" x2="124.2" y2="146" stroke="#7A4A1C" stroke-width="2.1" stroke-linecap="round"/>
<path d="M124.2 146 L132 130.2 L149.7 128.6 L158 143.7 L150.1 158.8 L132.7 158.4Z" fill="none" stroke="#7A4A1C" stroke-width="2.1" stroke-linejoin="round"/>
<line x1="134.8" y1="133.4" x2="147.5" y2="132.2" stroke="#7A4A1C" stroke-width="2.1" stroke-linecap="round"/>
<line x1="153.9" y1="144.2" x2="148.2" y2="155.1" stroke="#7A4A1C" stroke-width="2.1" stroke-linecap="round"/>
<line x1="134.3" y1="154.7" x2="128.2" y2="145.8" stroke="#7A4A1C" stroke-width="2.1" stroke-linecap="round"/>
<line x1="158" y1="143.7" x2="169.5" y2="139.6" stroke="#7A4A1C" stroke-width="2.1" stroke-linecap="round"/>
<text x="177.3" y="130.5" font-size="14" font-family="'Liberation Sans', sans-serif" font-weight="bold" fill="#7A4A1C" text-anchor="middle" dominant-baseline="central" transform="rotate(-90 177.3 130.5)">OH</text>
<line x1="150.1" y1="158.8" x2="156.2" y2="170.2" stroke="#7A4A1C" stroke-width="2.1" stroke-linecap="round"/>
<text x="156.2" y="180.2" font-size="14" font-family="'Liberation Sans', sans-serif" font-weight="bold" fill="#7A4A1C" text-anchor="middle" dominant-baseline="central" transform="rotate(-38 156.2 180.2)">HO</text>
<linearGradient id="ar1" x1="212.3" x2="290.8" y1="0" y2="0" gradientUnits="userSpaceOnUse"><stop offset="0" stop-color="#EDF4FC"/><stop offset="0.55" stop-color="#CFE3F7"/><stop offset="1" stop-color="#A3CAEE"/></linearGradient><path d="M212.3 134 L267 134 L267 124.5 L290.8 144.1 L267 163.7 L267 153.6 L212.3 153.6 L220.4 143.8Z" fill="url(#ar1)"/>
<ellipse cx="223.2" cy="118.6" rx="5" ry="4.6" fill="#BDBDBD" opacity="0.55"/>
<circle cx="221.8" cy="116.7" r="4.9" fill="url(#agS)"/>
<text x="242.8" y="123.8" font-size="17.5" font-weight="bold" fill="#6C6C6C">Ag<tspan font-size="11.5" dy="-6.5">+</tspan></text>
<text x="344" y="29.3" font-size="22.2" fill="#9A6B44" font-weight="bold" textLength="135.3" lengthAdjust="spacingAndGlyphs">CA-Ag (CAA)</text>
<text x="364.3" y="55.2" font-size="22.2" fill="#9A6B44" font-weight="bold" textLength="95.7" lengthAdjust="spacingAndGlyphs">nanozyme</text>
<line x1="360.1" y1="105.3" x2="370.3" y2="112.8" stroke="#7A4A1C" stroke-width="1.7" stroke-linecap="round"/>
<path d="M360.1 105.3 L350.7 109.3 L342.5 103.3 L343.7 93.1 L353.1 89.1 L361.3 95.1Z" fill="none" stroke="#7A4A1C" stroke-width="1.7" stroke-linejoin="round"/>
<line x1="343.7" y1="93.1" x2="342" y2="85.8" stroke="#7A4A1C" stroke-width="1.7" stroke-linecap="round"/>
<text x="340.5" y="79.5" font-size="8.6" font-family="'Liberation Sans', sans-serif" font-weight="bold" fill="#7A4A1C" text-anchor="middle" dominant-baseline="central" transform="rotate(-62 340.5 79.5)">OH</text>
<line x1="342.5" y1="103.3" x2="338.6" y2="106.4" stroke="#7A4A1C" stroke-width="1.7" stroke-linecap="round"/>
<text x="333.5" y="110.5" font-size="8.6" font-family="'Liberation Sans', sans-serif" font-weight="bold" fill="#7A4A1C" text-anchor="middle" dominant-baseline="central" transform="rotate(-82 333.5 110.5)">HO</text>
<line x1="357.6" y1="103.5" x2="351.2" y2="106.3" stroke="#7A4A1C" stroke-width="1.7" stroke-linecap="round"/>
<line x1="345.3" y1="101.9" x2="346.1" y2="95" stroke="#7A4A1C" stroke-width="1.7" stroke-linecap="round"/>
<line x1="352.8" y1="92.1" x2="358.4" y2="96.3" stroke="#7A4A1C" stroke-width="1.7" stroke-linecap="round"/>
<line x1="354.2" y1="136.9" x2="363.3" y2="136.3" stroke="#7A4A1C" stroke-width="1.7" stroke-linecap="round"/>
<path d="M354.2 136.9 L349.6 146 L339.4 146.6 L333.8 138.1 L338.4 129 L348.6 128.4Z" fill="none" stroke="#7A4A1C" stroke-width="1.7" stroke-linejoin="round"/>
<line x1="333.8" y1="138.1" x2="325" y2="134.6" stroke="#7A4A1C" stroke-width="1.7" stroke-linecap="round"/>
<line x1="334.8" y1="135.7" x2="325.9" y2="132.2" stroke="#7A4A1C" stroke-width="1.7" stroke-linecap="round"/>
<text x="320.3" y="132.8" font-size="8.6" font-family="'Liberation Sans', sans-serif" font-weight="bold" fill="#7A4A1C" text-anchor="middle" dominant-baseline="central">O</text>
<line x1="339.4" y1="146.6" x2="332.2" y2="152.8" stroke="#7A4A1C" stroke-width="1.7" stroke-linecap="round"/>
<line x1="337.8" y1="144.6" x2="330.5" y2="150.8" stroke="#7A4A1C" stroke-width="1.7" stroke-linecap="round"/>
<text x="328.4" y="156" font-size="8.6" font-family="'Liberation Sans', sans-serif" font-weight="bold" fill="#7A4A1C" text-anchor="middle" dominant-baseline="central">O</text>
<line x1="347.8" y1="143.5" x2="340.9" y2="143.9" stroke="#7A4A1C" stroke-width="1.7" stroke-linecap="round"/>
<line x1="340.2" y1="131.5" x2="347.1" y2="131.1" stroke="#7A4A1C" stroke-width="1.7" stroke-linecap="round"/>
<line x1="369.5" y1="170.1" x2="376.3" y2="161.9" stroke="#7A4A1C" stroke-width="1.7" stroke-linecap="round"/>
<path d="M369.5 170.1 L373.1 179.7 L366.6 187.6 L356.5 185.9 L352.9 176.3 L359.4 168.4Z" fill="none" stroke="#7A4A1C" stroke-width="1.7" stroke-linejoin="round"/>
<line x1="352.9" y1="176.3" x2="344" y2="177.3" stroke="#7A4A1C" stroke-width="1.7" stroke-linecap="round"/>
<text x="337.5" y="178" font-size="8.6" font-family="'Liberation Sans', sans-serif" font-weight="bold" fill="#7A4A1C" text-anchor="middle" dominant-baseline="central" transform="rotate(28 337.5 178)">HO</text>
<line x1="366.6" y1="187.6" x2="364.4" y2="193.7" stroke="#7A4A1C" stroke-width="1.7" stroke-linecap="round"/>
<text x="362.3" y="199.8" font-size="8.6" font-family="'Liberation Sans', sans-serif" font-weight="bold" fill="#7A4A1C" text-anchor="middle" dominant-baseline="central">OH</text>
<line x1="367.6" y1="172.6" x2="370.1" y2="179.1" stroke="#7A4A1C" stroke-width="1.7" stroke-linecap="round"/>
<line x1="365.4" y1="184.7" x2="358.5" y2="183.6" stroke="#7A4A1C" stroke-width="1.7" stroke-linecap="round"/>
<line x1="356" y1="176.7" x2="360.4" y2="171.4" stroke="#7A4A1C" stroke-width="1.7" stroke-linecap="round"/>
<line x1="437.5" y1="103.4" x2="427.2" y2="111.6" stroke="#7A4A1C" stroke-width="1.7" stroke-linecap="round"/>
<path d="M437.5 103.4 L435.9 93.3 L443.8 86.9 L453.3 90.6 L454.9 100.7 L447 107.1Z" fill="none" stroke="#7A4A1C" stroke-width="1.7" stroke-linejoin="round"/>
<line x1="443.8" y1="86.9" x2="448.6" y2="80.7" stroke="#7A4A1C" stroke-width="1.7" stroke-linecap="round"/>
<text x="452.5" y="75.5" font-size="8.6" font-family="'Liberation Sans', sans-serif" font-weight="bold" fill="#7A4A1C" text-anchor="middle" dominant-baseline="central" transform="rotate(62 452.5 75.5)">HO</text>
<line x1="454.9" y1="100.7" x2="458.9" y2="102.2" stroke="#7A4A1C" stroke-width="1.7" stroke-linecap="round"/>
<text x="465" y="104.5" font-size="8.6" font-family="'Liberation Sans', sans-serif" font-weight="bold" fill="#7A4A1C" text-anchor="middle" dominant-baseline="central" transform="rotate(90 465 104.5)">OH</text>
<line x1="439.8" y1="101.4" x2="438.7" y2="94.5" stroke="#7A4A1C" stroke-width="1.7" stroke-linecap="round"/>
<line x1="444.4" y1="89.9" x2="450.9" y2="92.4" stroke="#7A4A1C" stroke-width="1.7" stroke-linecap="round"/>
<line x1="452" y1="99.7" x2="446.6" y2="104" stroke="#7A4A1C" stroke-width="1.7" stroke-linecap="round"/>
<line x1="447.6" y1="137.9" x2="435.1" y2="137" stroke="#7A4A1C" stroke-width="1.7" stroke-linecap="round"/>
<path d="M447.6 137.9 L453.4 129.5 L463.6 130.3 L468 139.5 L462.2 147.9 L452 147.1Z" fill="none" stroke="#7A4A1C" stroke-width="1.7" stroke-linejoin="round"/>
<line x1="468" y1="139.5" x2="476.5" y2="133.5" stroke="#7A4A1C" stroke-width="1.7" stroke-linecap="round"/>
<line x1="469.5" y1="141.6" x2="478" y2="135.6" stroke="#7A4A1C" stroke-width="1.7" stroke-linecap="round"/>
<text x="480.6" y="130.6" font-size="8.6" font-family="'Liberation Sans', sans-serif" font-weight="bold" fill="#7A4A1C" text-anchor="middle" dominant-baseline="central">O</text>
<line x1="462.2" y1="147.9" x2="468.6" y2="152.8" stroke="#7A4A1C" stroke-width="1.7" stroke-linecap="round"/>
<line x1="460.6" y1="150" x2="467" y2="154.8" stroke="#7A4A1C" stroke-width="1.7" stroke-linecap="round"/>
<text x="472.6" y="155.8" font-size="8.6" font-family="'Liberation Sans', sans-serif" font-weight="bold" fill="#7A4A1C" text-anchor="middle" dominant-baseline="central">O</text>
<line x1="454.8" y1="132.2" x2="461.7" y2="132.8" stroke="#7A4A1C" stroke-width="1.7" stroke-linecap="round"/>
<line x1="460.8" y1="145.2" x2="453.9" y2="144.6" stroke="#7A4A1C" stroke-width="1.7" stroke-linecap="round"/>
<line x1="432.6" y1="167.5" x2="424.7" y2="159.6" stroke="#7A4A1C" stroke-width="1.7" stroke-linecap="round"/>
<path d="M432.6 167.5 L442.4 164.8 L449.6 172 L447 181.9 L437.2 184.6 L430 177.4Z" fill="none" stroke="#7A4A1C" stroke-width="1.7" stroke-linejoin="round"/>
<line x1="449.6" y1="172" x2="457.4" y2="174.8" stroke="#7A4A1C" stroke-width="1.7" stroke-linecap="round"/>
<text x="463.5" y="177" font-size="8.6" font-family="'Liberation Sans', sans-serif" font-weight="bold" fill="#7A4A1C" text-anchor="middle" dominant-baseline="central" transform="rotate(-42 463.5 177)">OH</text>
<line x1="437.2" y1="184.6" x2="437.3" y2="189.7" stroke="#7A4A1C" stroke-width="1.7" stroke-linecap="round"/>
<text x="437.5" y="196.2" font-size="8.6" font-family="'Liberation Sans', sans-serif" font-weight="bold" fill="#7A4A1C" text-anchor="middle" dominant-baseline="central">HO</text>
<line x1="434.8" y1="169.6" x2="441.5" y2="167.8" stroke="#7A4A1C" stroke-width="1.7" stroke-linecap="round"/>
<line x1="446.7" y1="173" x2="444.9" y2="179.7" stroke="#7A4A1C" stroke-width="1.7" stroke-linecap="round"/>
<line x1="437.9" y1="181.6" x2="432.9" y2="176.7" stroke="#7A4A1C" stroke-width="1.7" stroke-linecap="round"/>
<circle cx="399.2" cy="134.2" r="36.8" fill="#3B3B3B"/>
<circle cx="399.2" cy="134.2" r="33.4" fill="#2B2724"/>
<circle cx="386.2" cy="107.4" r="3.0" fill="url(#npS)"/>
<circle cx="392.2" cy="107.4" r="3.0" fill="url(#npS)"/>
<circle cx="398.2" cy="107.4" r="3.0" fill="url(#npS)"/>
<circle cx="404.2" cy="107.4" r="3.0" fill="url(#npS)"/>
<circle cx="410.2" cy="107.4" r="3.0" fill="url(#npS)"/>
<circle cx="383.2" cy="112.6" r="3.0" fill="url(#npS)"/>
<circle cx="389.2" cy="112.6" r="3.0" fill="url(#npS)"/>
<circle cx="395.2" cy="112.6" r="3.0" fill="url(#npS)"/>
<circle cx="401.2" cy="112.6" r="3.0" fill="url(#npS)"/>
<circle cx="407.2" cy="112.6" r="3.0" fill="url(#npS)"/>
<circle cx="413.2" cy="112.6" r="3.0" fill="url(#npS)"/>
<circle cx="419.2" cy="112.6" r="3.0" fill="url(#npS)"/>
<circle cx="374.2" cy="117.8" r="3.0" fill="url(#npS)"/>
<circle cx="380.2" cy="117.8" r="3.0" fill="url(#npS)"/>
<circle cx="386.2" cy="117.8" r="3.0" fill="url(#npS)"/>
<circle cx="392.2" cy="117.8" r="3.0" fill="url(#npS)"/>
<circle cx="398.2" cy="117.8" r="3.0" fill="url(#npS)"/>
<circle cx="404.2" cy="117.8" r="3.0" fill="url(#npS)"/>
<circle cx="410.2" cy="117.8" r="3.0" fill="url(#npS)"/>
<circle cx="416.2" cy="117.8" r="3.0" fill="url(#npS)"/>
<circle cx="422.2" cy="117.8" r="3.0" fill="url(#npS)"/>
<circle cx="371.2" cy="123" r="3.0" fill="url(#npS)"/>
<circle cx="377.2" cy="123" r="3.0" fill="url(#npS)"/>
<circle cx="383.2" cy="123" r="3.0" fill="url(#npS)"/>
<circle cx="389.2" cy="123" r="3.0" fill="url(#npS)"/>
<circle cx="395.2" cy="123" r="3.0" fill="url(#npS)"/>
<circle cx="401.2" cy="123" r="3.0" fill="url(#npS)"/>
<circle cx="407.2" cy="123" r="3.0" fill="url(#npS)"/>
<circle cx="413.2" cy="123" r="3.0" fill="url(#npS)"/>
<circle cx="419.2" cy="123" r="3.0" fill="url(#npS)"/>
<circle cx="425.2" cy="123" r="3.0" fill="url(#npS)"/>
<circle cx="374.2" cy="128.2" r="3.0" fill="url(#npS)"/>
<circle cx="380.2" cy="128.2" r="3.0" fill="url(#npS)"/>
<circle cx="386.2" cy="128.2" r="3.0" fill="url(#npS)"/>
<circle cx="392.2" cy="128.2" r="3.0" fill="url(#npS)"/>
<circle cx="398.2" cy="128.2" r="3.0" fill="url(#npS)"/>
<circle cx="404.2" cy="128.2" r="3.0" fill="url(#npS)"/>
<circle cx="410.2" cy="128.2" r="3.0" fill="url(#npS)"/>
<circle cx="416.2" cy="128.2" r="3.0" fill="url(#npS)"/>
<circle cx="422.2" cy="128.2" r="3.0" fill="url(#npS)"/>
<circle cx="428.2" cy="128.2" r="3.0" fill="url(#npS)"/>
<circle cx="371.2" cy="133.4" r="3.0" fill="url(#npS)"/>
<circle cx="377.2" cy="133.4" r="3.0" fill="url(#npS)"/>
<circle cx="383.2" cy="133.4" r="3.0" fill="url(#npS)"/>
<circle cx="389.2" cy="133.4" r="3.0" fill="url(#npS)"/>
<circle cx="395.2" cy="133.4" r="3.0" fill="url(#npS)"/>
<circle cx="401.2" cy="133.4" r="3.0" fill="url(#npS)"/>
<circle cx="407.2" cy="133.4" r="3.0" fill="url(#npS)"/>
<circle cx="413.2" cy="133.4" r="3.0" fill="url(#npS)"/>
<circle cx="419.2" cy="133.4" r="3.0" fill="url(#npS)"/>
<circle cx="425.2" cy="133.4" r="3.0" fill="url(#npS)"/>
<circle cx="374.2" cy="138.6" r="3.0" fill="url(#npS)"/>
<circle cx="380.2" cy="138.6" r="3.0" fill="url(#npS)"/>
<circle cx="386.2" cy="138.6" r="3.0" fill="url(#npS)"/>
<circle cx="392.2" cy="138.6" r="3.0" fill="url(#npS)"/>
<circle cx="398.2" cy="138.6" r="3.0" fill="url(#npS)"/>
<circle cx="404.2" cy="138.6" r="3.0" fill="url(#npS)"/>
<circle cx="410.2" cy="138.6" r="3.0" fill="url(#npS)"/>
<circle cx="416.2" cy="138.6" r="3.0" fill="url(#npS)"/>
<circle cx="422.2" cy="138.6" r="3.0" fill="url(#npS)"/>
<circle cx="428.2" cy="138.6" r="3.0" fill="url(#npS)"/>
<circle cx="371.2" cy="143.8" r="3.0" fill="url(#npS)"/>
<circle cx="377.2" cy="143.8" r="3.0" fill="url(#npS)"/>
<circle cx="383.2" cy="143.8" r="3.0" fill="url(#npS)"/>
<circle cx="389.2" cy="143.8" r="3.0" fill="url(#npS)"/>
<circle cx="395.2" cy="143.8" r="3.0" fill="url(#npS)"/>
<circle cx="401.2" cy="143.8" r="3.0" fill="url(#npS)"/>
<circle cx="407.2" cy="143.8" r="3.0" fill="url(#npS)"/>
<circle cx="413.2" cy="143.8" r="3.0" fill="url(#npS)"/>
<circle cx="419.2" cy="143.8" r="3.0" fill="url(#npS)"/>
<circle cx="425.2" cy="143.8" r="3.0" fill="url(#npS)"/>
<circle cx="374.2" cy="149" r="3.0" fill="url(#npS)"/>
<circle cx="380.2" cy="149" r="3.0" fill="url(#npS)"/>
<circle cx="386.2" cy="149" r="3.0" fill="url(#npS)"/>
<circle cx="392.2" cy="149" r="3.0" fill="url(#npS)"/>
<circle cx="398.2" cy="149" r="3.0" fill="url(#npS)"/>
<circle cx="404.2" cy="149" r="3.0" fill="url(#npS)"/>
<circle cx="410.2" cy="149" r="3.0" fill="url(#npS)"/>
<circle cx="416.2" cy="149" r="3.0" fill="url(#npS)"/>
<circle cx="422.2" cy="149" r="3.0" fill="url(#npS)"/>
<circle cx="377.2" cy="154.2" r="3.0" fill="url(#npS)"/>
<circle cx="383.2" cy="154.2" r="3.0" fill="url(#npS)"/>
<circle cx="389.2" cy="154.2" r="3.0" fill="url(#npS)"/>
<circle cx="395.2" cy="154.2" r="3.0" fill="url(#npS)"/>
<circle cx="401.2" cy="154.2" r="3.0" fill="url(#npS)"/>
<circle cx="407.2" cy="154.2" r="3.0" fill="url(#npS)"/>
<circle cx="413.2" cy="154.2" r="3.0" fill="url(#npS)"/>
<circle cx="419.2" cy="154.2" r="3.0" fill="url(#npS)"/>
<circle cx="386.2" cy="159.4" r="3.0" fill="url(#npS)"/>
<circle cx="392.2" cy="159.4" r="3.0" fill="url(#npS)"/>
<circle cx="398.2" cy="159.4" r="3.0" fill="url(#npS)"/>
<circle cx="404.2" cy="159.4" r="3.0" fill="url(#npS)"/>
<circle cx="410.2" cy="159.4" r="3.0" fill="url(#npS)"/>
<circle cx="416.2" cy="159.4" r="3.0" fill="url(#npS)"/>
<circle cx="401.2" cy="164.6" r="3.0" fill="url(#npS)"/>
<circle cx="399.2" cy="134.2" r="32.2" fill="none" stroke="#fff" stroke-width="1.9" stroke-dasharray="8 2.6"/>
<text x="399.8" y="112" font-size="14" font-weight="bold" fill="#fff" text-anchor="middle">e<tspan font-size="10" dy="-5">-</tspan></text>
<text x="382" y="120.6" font-size="14" font-weight="bold" fill="#fff" text-anchor="middle">e<tspan font-size="10" dy="-5">-</tspan></text>
<text x="419.5" y="120.6" font-size="14" font-weight="bold" fill="#fff" text-anchor="middle">e<tspan font-size="10" dy="-5">-</tspan></text>
<text x="427" y="139.4" font-size="14" font-weight="bold" fill="#fff" text-anchor="middle">e<tspan font-size="10" dy="-5">-</tspan></text>
<text x="375.4" y="143" font-size="14" font-weight="bold" fill="#fff" text-anchor="middle">e<tspan font-size="10" dy="-5">-</tspan></text>
<text x="389" y="160.2" font-size="14" font-weight="bold" fill="#fff" text-anchor="middle">e<tspan font-size="10" dy="-5">-</tspan></text>
<text x="412.5" y="159" font-size="14" font-weight="bold" fill="#fff" text-anchor="middle" transform="rotate(180 412.5 156)">e<tspan font-size="10" dy="-5">-</tspan></text>
<linearGradient id="ca1" x1="529" y1="135" x2="600" y2="178" gradientUnits="userSpaceOnUse"><stop offset="0" stop-color="#F4F9FE"/><stop offset="1" stop-color="#B4D7F5"/></linearGradient>
<linearGradient id="ca1e" x1="529" y1="135" x2="600" y2="165" gradientUnits="userSpaceOnUse"><stop offset="0" stop-color="#A9B4BE"/><stop offset="0.5" stop-color="#6F7B86"/><stop offset="1" stop-color="#15191D"/></linearGradient>
<path d="M529 136 C552 130 583 137 599 164 L606.4 163.5 L597.4 180.5 L577.6 169 L584.5 167.5 C574 150 556 140.5 531 140.5Z" fill="url(#ca1)"/>
<path d="M529 135.5 C553 129 584 137 599 165" fill="none" stroke="url(#ca1e)" stroke-width="3.2"/>
<path d="M598.3 163 L606.6 162 L606.2 165.8 L599.5 167.5Z" fill="#7C8FA0"/>
<path d="M577 167.5 L584.5 165.5 L585.5 169.5 L579.5 172Z" fill="#8FA3B3"/>
<linearGradient id="ca2" x1="545" y1="338" x2="612" y2="298" gradientUnits="userSpaceOnUse"><stop offset="0" stop-color="#F6FAFE"/><stop offset="1" stop-color="#B4D7F5"/></linearGradient>
<path d="M542 335 C565 334 585 326 596.5 307 L590.5 303 L609 291.5 L618 309.5 L611.5 309 C602 327 580 343 552 340Z" fill="url(#ca2)"/>
<path d="M542 336.3 C566 335 586 326 596.3 307.5" fill="none" stroke="#B3BBC3" stroke-width="2.6"/>
<path d="M590.3 304.2 L608.6 291.3 L609.5 294.5 L592 306.5Z" fill="#B3BBC3"/>
<path d="M608.6 290.8 L619 310 L617.2 310.3 L607.4 292.6Z" fill="#2A333C"/>
<text x="77.5" y="254.3" font-size="22" fill="#1E8050" font-weight="bold" textLength="65.7" lengthAdjust="spacingAndGlyphs">Sericin</text>
<path d="M32.3 292 L33.9 291.3 L35.4 290.6 L36.9 289.9 L38.4 289.2 L39.9 288.5 L41.5 287.8 L43 287.1 L44.6 286.5 L46.3 286 L48 285.5 L49.8 285.1 L51.6 284.7 L53.4 284.3 L55.3 284 L57.2 283.7 L59.1 283.5 L61 283.3 L63 283.2 L65 283.2 L67 283.3 L69 283.5 L71.1 283.8 L73.1 284.1 L75.2 284.6 L77.4 285.1 L79.5 285.7 L81.6 286.2 L83.8 286.8 L85.9 287.4 L88 288 L90.1 288.6 L92.3 289.2 L94.4 289.8 L96.6 290.5 L98.7 291.1 L100.9 291.8 L103 292.4 L105.1 293.1 L107.2 293.8 L109.2 294.4 L111.2 295 L113.2 295.7 L115.1 296.4 L117 297 L118.9 297.7 L120.8 298.3 L122.6 298.9 L124.5 299.5 L126.2 300 L128 300.5 L129.7 300.9 L131.3 301.3 L132.9 301.7 L134.5 302 L136 302.4 L137.5 302.6 L139.1 302.8 L140.7 302.9 L142.3 303 L144 303 L145.8 302.9 L147.6 302.8 L149.5 302.6 L151.4 302.3 L153.3 302 L155.2 301.6 L157.2 301.1 L159.1 300.6 L161.1 300.1 L163 299.5 L164.9 298.8 L166.9 298.1 L168.8 297.2 L170.7 296.4 L172.7 295.4 L174.6 294.5 L176.6 293.5 L178.5 292.5 L180.5 291.6 L182.4 290.7" fill="none" stroke="#1E8A57" stroke-width="5.4" stroke-linecap="butt" stroke-linejoin="round"/>
<path d="M72 287 Q70.8 297.3 63.3 304.4" fill="none" stroke="#1E8A57" stroke-width="2.1"/><ellipse cx="63.3" cy="304.4" rx="6.2" ry="3.1" fill="#1E8A57" transform="rotate(116.6 63.3 304.4)"/>
<path d="M155 300 Q148.5 293.6 147.6 284.5" fill="none" stroke="#1E8A57" stroke-width="2.1"/><ellipse cx="147.6" cy="284.5" rx="6.2" ry="3.1" fill="#1E8A57" transform="rotate(-115.5 147.6 284.5)"/>
<path d="M31.8 376.3 L33.2 375.6 L34.6 374.8 L36 374 L37.3 373.2 L38.7 372.4 L40.1 371.7 L41.5 370.9 L43 370.2 L44.5 369.6 L46 369 L47.6 368.4 L49.2 367.9 L50.8 367.3 L52.4 366.8 L54.1 366.3 L55.8 365.8 L57.6 365.5 L59.4 365.2 L61.3 365 L63.3 365 L65.3 365.1 L67.5 365.3 L69.7 365.7 L72 366.1 L74.3 366.6 L76.6 367.1 L79 367.7 L81.3 368.3 L83.7 368.9 L86 369.5 L88.3 370.1 L90.7 370.7 L93.1 371.4 L95.5 372.1 L97.8 372.9 L100.2 373.6 L102.5 374.3 L104.8 375 L107.1 375.7 L109.2 376.3 L111.3 376.9 L113.3 377.5 L115.3 378.1 L117.2 378.6 L119.1 379.2 L120.9 379.7 L122.7 380.2 L124.5 380.7 L126.3 381.1 L128 381.5 L129.7 381.9 L131.3 382.2 L132.9 382.5 L134.5 382.8 L136.1 383.1 L137.6 383.3 L139.1 383.5 L140.7 383.6 L142.3 383.7 L144 383.7 L145.7 383.7 L147.5 383.6 L149.3 383.5 L151.1 383.3 L152.9 383.1 L154.7 382.8 L156.5 382.5 L158.4 382.2 L160.2 381.9 L162 381.5 L163.8 381.1 L165.6 380.7 L167.4 380.2 L169.2 379.6 L171 379.1 L172.8 378.5 L174.6 378 L176.4 377.4 L178.2 376.8 L180 376.3" fill="none" stroke="#F28E1E" stroke-width="5.4" stroke-linecap="butt" stroke-linejoin="round"/>
<path d="M63 367 L67.5 379" fill="none" stroke="#F28E1E" stroke-width="2.4"/><path d="M64.4 386.1 Q66.2 375.6 74.5 382.3 Q68.1 380.5 64.4 386.1Z" fill="#F28E1E" stroke="#F28E1E" stroke-width="0.9" stroke-linejoin="round"/>
<path d="M139 383 L142.5 370.5" fill="none" stroke="#F28E1E" stroke-width="2.4"/><path d="M149.2 366.6 Q141.5 374 138.8 363.7 Q142.9 369 149.2 366.6Z" fill="#F28E1E" stroke="#F28E1E" stroke-width="0.9" stroke-linejoin="round"/>
<path d="M101.1 323.8h5.4v8.4h8.4v5.4h-8.4v8.4h-5.4v-8.4h-8.4v-5.4h8.4z" fill="#9DC1E8"/>
<text x="228" y="309" font-size="17.2" fill="#5A5A5A" font-weight="bold" textLength="43" lengthAdjust="spacingAndGlyphs">LiOH</text>
<linearGradient id="ar2" x1="215.8" x2="295" y1="0" y2="0" gradientUnits="userSpaceOnUse"><stop offset="0" stop-color="#EDF4FC"/><stop offset="0.55" stop-color="#CFE3F7"/><stop offset="1" stop-color="#9DC6EC"/></linearGradient><path d="M215.8 323.4 L270 323.4 L270 313.3 L295 333 L270 352.6 L270 342.7 L215.8 342.7 L225 333Z" fill="url(#ar2)"/>
<linearGradient id="coneL" x1="172" x2="217" y1="0" y2="0" gradientUnits="userSpaceOnUse"><stop offset="0" stop-color="#E6F0FB"/><stop offset="1" stop-color="#B4D2F0"/></linearGradient>
<path d="M171 393 L217 358 L217 447Z" fill="url(#coneL)"/>
<rect x="216.4" y="357" width="88.6" height="90" fill="#fff"/><g stroke="#6B6B6B" stroke-width="3.4" fill="none"><path d="M214.7 357 L306.7 357 M214.7 447 L306.7 447" stroke-dasharray="11.9 4.15"/><path d="M216.4 355.3 L216.4 448.7 M305 355.3 L305 448.7" stroke-dasharray="12.1 4.15"/></g>
<path d="M224.2 400.6 L228 398.2 L232.7 401.2 L239.2 397.8 L245.7 401.6 L252.3 398.8 L257.9 401.6 L263.5 402.5 L270.1 399.3 L276.6 402.5 L283.1 399.7 L287.8 402.5 L294.4 400.6" fill="none" stroke="#F0A050" stroke-width="1"/>
<path d="M245.7 401.6 L242 409 L243.3 416.5 L241.4 424 L242 429.6" fill="none" stroke="#F0A050" stroke-width="1"/>
<path d="M283.1 399.7 L286.9 392.2 L285 384.7 L286.9 379.1 L286 376.3" fill="none" stroke="#F0A050" stroke-width="1"/>
<path d="M242 429.6 L244.8 434.3" stroke="#3A84C8" stroke-width="0.7"/>
<path d="M286 376.3 L283.7 372" stroke="#3A84C8" stroke-width="0.7"/>
<text x="236.6" y="429.6" font-size="5" font-family="'Liberation Sans', sans-serif" font-weight="bold" fill="#3A84C8" text-anchor="middle" dominant-baseline="central">O=</text>
<text x="248.2" y="435.2" font-size="5" font-family="'Liberation Sans', sans-serif" font-weight="bold" fill="#3A84C8" text-anchor="middle" dominant-baseline="central">OH</text>
<text x="280.3" y="371.8" font-size="5" font-family="'Liberation Sans', sans-serif" font-weight="bold" fill="#3A84C8" text-anchor="middle" dominant-baseline="central">HO</text>
<text x="291.6" y="376.7" font-size="5" font-family="'Liberation Sans', sans-serif" font-weight="bold" fill="#3A84C8" text-anchor="middle" dominant-baseline="central">=O</text>
<text x="228" y="398.6" font-size="3.6" font-family="'Liberation Sans', sans-serif" fill="#F0A050" text-anchor="middle" dominant-baseline="central">S</text>
<text x="252.3" y="398.9" font-size="3.6" font-family="'Liberation Sans', sans-serif" fill="#F0A050" text-anchor="middle" dominant-baseline="central">S</text>
<text x="263.5" y="402.5" font-size="3.6" font-family="'Liberation Sans', sans-serif" fill="#F0A050" text-anchor="middle" dominant-baseline="central">S</text>
<text x="286.9" y="402.5" font-size="3.6" font-family="'Liberation Sans', sans-serif" fill="#F0A050" text-anchor="middle" dominant-baseline="central">S</text>
<text x="17.4" y="421" font-size="24.8" fill="#F28E1E" font-weight="bold" textLength="191" lengthAdjust="spacingAndGlyphs">Poly(thioctic acid)</text>
<text x="80" y="452" font-size="24.8" fill="#F28E1E" font-weight="bold" textLength="66" lengthAdjust="spacingAndGlyphs">(PTA)</text>
<path d="M375 249.4 L376.3 248.8 L377.6 248.2 L378.9 247.5 L380.2 246.8 L381.5 246.2 L382.8 245.6 L384.1 245 L385.4 244.4 L386.7 243.9 L388 243.5 L389.3 243.1 L390.5 242.8 L391.8 242.5 L393 242.2 L394.2 241.9 L395.5 241.7 L396.8 241.6 L398.1 241.6 L399.5 241.6 L401 241.7 L402.5 241.9 L404.2 242.2 L405.8 242.6 L407.5 243.1 L409.3 243.6 L411 244.2 L412.8 244.8 L414.6 245.4 L416.3 246 L418 246.5 L419.7 247 L421.4 247.6 L423.1 248.2 L424.8 248.7 L426.5 249.3 L428.2 249.9 L429.9 250.5 L431.5 251 L433.1 251.5 L434.6 252 L436.1 252.4 L437.5 252.9 L438.9 253.3 L440.2 253.7 L441.6 254.1 L442.9 254.4 L444.1 254.7 L445.4 255 L446.7 255.3 L448 255.5 L449.3 255.7 L450.6 255.8 L451.8 255.9 L453.1 256 L454.4 256.1 L455.6 256.1 L456.9 256.1 L458.1 256.1 L459.4 256 L460.6 256 L461.9 255.9 L463.1 255.9 L464.4 255.8 L465.6 255.6 L466.9 255.5 L468.2 255.3 L469.4 255.1 L470.6 254.9 L471.8 254.7 L473 254.5 L474.2 254.2 L475.3 254 L476.4 253.7 L477.5 253.3 L478.6 253 L479.7 252.7 L480.7 252.3 L481.8 252 L482.9 251.6 L484 251.3" fill="none" stroke="#F28E1E" stroke-width="5.2" stroke-linecap="butt" stroke-linejoin="round"/>
<path d="M333 279.3 L333.6 280.4 L334.2 281.4 L334.8 282.5 L335.4 283.5 L336 284.5 L336.6 285.6 L337.1 286.7 L337.7 287.7 L338.1 288.9 L338.5 290 L338.8 291.1 L339.1 292.3 L339.4 293.4 L339.6 294.5 L339.8 295.6 L339.9 296.8 L340 298.1 L340.1 299.5 L340.1 301 L340 302.6 L339.9 304.4 L339.7 306.3 L339.5 308.3 L339.3 310.5 L339 312.7 L338.6 314.9 L338.3 317.2 L337.9 319.5 L337.4 321.8 L337 324 L336.5 326.2 L335.9 328.5 L335.3 330.8 L334.6 333.1 L333.9 335.5 L333.2 337.8 L332.6 340.1 L332 342.4 L331.4 344.6 L331 346.7 L330.6 348.8 L330.3 350.8 L330.1 352.7 L329.8 354.7 L329.7 356.5 L329.5 358.4 L329.4 360.3 L329.4 362.2 L329.4 364.1 L329.5 366 L329.6 367.9 L329.9 369.9 L330.2 371.9 L330.5 373.8 L330.9 375.8 L331.4 377.7 L331.8 379.7 L332.2 381.7 L332.6 383.6 L333 385.6" fill="none" stroke="#F28E1E" stroke-width="5.2" stroke-linecap="butt" stroke-linejoin="round"/>
<path d="M380 278 L380.9 278.8 L381.7 279.7 L382.6 280.5 L383.5 281.3 L384.4 282.1 L385.3 282.9 L386.1 283.8 L387 284.6 L387.8 285.6 L388.5 286.5 L389.2 287.4 L389.9 288.3 L390.6 289.2 L391.2 290 L391.9 290.9 L392.5 291.9 L393 293 L393.6 294.3 L394.1 295.7 L394.5 297.4 L394.9 299.3 L395.2 301.4 L395.5 303.8 L395.7 306.2 L396 308.8 L396.2 311.5 L396.4 314.2 L396.5 316.9 L396.8 319.5 L397 322 L397.2 324.5 L397.5 327 L397.7 329.6 L397.9 332.2 L398.1 334.7 L398.4 337.3 L398.6 339.8 L398.9 342.2 L399.2 344.5 L399.6 346.7 L400 348.8 L400.4 350.8 L400.9 352.8 L401.4 354.6 L401.9 356.4 L402.4 358.2 L403 359.9 L403.6 361.6 L404.3 363.3 L405 365 L405.8 366.7 L406.6 368.3 L407.4 369.8 L408.3 371.4 L409.3 372.9 L410.2 374.4 L411.2 375.9 L412.1 377.4 L413.1 378.9 L414 380.4" fill="none" stroke="#F28E1E" stroke-width="5.2" stroke-linecap="butt" stroke-linejoin="round"/>
<path d="M469.6 272.8 L470 273.8 L470.3 274.8 L470.7 275.8 L471.1 276.8 L471.5 277.8 L471.8 278.8 L472.2 279.8 L472.5 280.9 L472.8 281.9 L473 283 L473.2 284.1 L473.4 285 L473.7 286 L473.9 287 L474.1 288 L474.2 289 L474.2 290.2 L474.1 291.6 L473.9 293.1 L473.5 294.8 L473 296.8 L472.3 299 L471.4 301.4 L470.5 304 L469.5 306.6 L468.4 309.4 L467.3 312.1 L466.2 314.8 L465.1 317.5 L464 320 L462.9 322.5 L461.7 325 L460.5 327.5 L459.3 330 L458 332.4 L456.8 334.9 L455.6 337.3 L454.6 339.6 L453.6 341.8 L452.8 344 L452.1 346 L451.6 348 L451.1 349.9 L450.7 351.7 L450.4 353.4 L450.2 355.2 L450 356.9 L449.8 358.6 L449.6 360.3 L449.5 362 L449.4 363.7 L449.4 365.5 L449.4 367.2 L449.4 368.9 L449.5 370.6 L449.6 372.2 L449.7 373.9 L449.8 375.6 L449.9 377.3 L450 379" fill="none" stroke="#F28E1E" stroke-width="5.2" stroke-linecap="butt" stroke-linejoin="round"/>
<path d="M515 329.8 L515 330.9 L515 332 L515.1 333.2 L515.1 334.3 L515.2 335.4 L515.2 336.5 L515.2 337.7 L515.2 338.8 L515.1 339.9 L515 341 L514.9 342 L514.9 343 L514.8 343.9 L514.8 344.7 L514.7 345.6 L514.6 346.6 L514.3 347.7 L513.8 348.9 L513.2 350.3 L512.4 351.9 L511.3 353.8 L510.1 355.9 L508.7 358.3 L507.1 360.8 L505.4 363.4 L503.7 366 L501.8 368.7 L499.9 371.2 L497.9 373.7 L496 376 L493.9 378.2 L491.6 380.4 L489.2 382.5 L486.7 384.6 L484.1 386.6 L481.6 388.6 L479.3 390.6 L477.1 392.4 L475.1 394.3 L473.5 396 L472.2 397.6 L471.1 399.2 L470.2 400.6 L469.6 402 L469 403.3 L468.5 404.7 L468.2 406 L467.8 407.3 L467.4 408.6 L467 410 L466.6 411.4 L466.2 412.9 L466 414.3 L465.7 415.8 L465.5 417.2 L465.3 418.7 L465.1 420.1 L464.9 421.6 L464.7 423 L464.5 424.5" fill="none" stroke="#F28E1E" stroke-width="5.2" stroke-linecap="butt" stroke-linejoin="round"/>
<path d="M316.7 412.8 L318 413 L319.4 413.3 L320.7 413.6 L322 413.8 L323.3 414.1 L324.6 414.4 L326 414.6 L327.3 414.8 L328.6 414.9 L330 415 L331.3 415.1 L332.6 415.2 L333.9 415.2 L335.2 415.3 L336.5 415.3 L337.9 415.2 L339.3 415.1 L340.7 414.9 L342.3 414.5 L343.9 414 L345.7 413.3 L347.5 412.5 L349.5 411.5 L351.6 410.5 L353.6 409.3 L355.8 408.1 L357.9 406.9 L360 405.7 L362 404.6 L364 403.5 L365.9 402.4 L367.9 401.3 L369.8 400.2 L371.8 399 L373.7 397.9 L375.6 396.8 L377.5 395.8 L379.3 394.8 L381.1 394 L382.8 393.3 L384.5 392.7 L386.1 392.3 L387.6 391.9 L389.2 391.6 L390.7 391.4 L392.1 391.2 L393.6 391.1 L395.1 391.1 L396.5 391 L398 391 L399.5 391 L401 391.1 L402.4 391.2 L403.9 391.4 L405.3 391.6 L406.8 391.9 L408.2 392.1 L409.7 392.4 L411.1 392.6 L412.6 392.8" fill="none" stroke="#F28E1E" stroke-width="5.2" stroke-linecap="butt" stroke-linejoin="round"/>
<path d="M325.7 267.6 L327.2 267.2 L328.8 266.7 L330.3 266.3 L331.8 265.8 L333.3 265.4 L334.8 264.9 L336.4 264.5 L337.9 264.1 L339.4 263.8 L341 263.5 L342.5 263.2 L344 263 L345.5 262.7 L347 262.5 L348.5 262.3 L350 262.2 L351.6 262.1 L353.2 262.1 L355 262.2 L356.9 262.4 L358.9 262.7 L361.1 263.2 L363.3 263.7 L365.6 264.4 L368 265 L370.4 265.8 L372.8 266.5 L375.2 267.2 L377.6 267.9 L380 268.5 L382.4 269.1 L384.8 269.7 L387.2 270.4 L389.7 271 L392.2 271.7 L394.6 272.3 L397 272.8 L399.2 273.3 L401.4 273.7 L403.5 274 L405.4 274.2 L407.3 274.3 L409 274.4 L410.7 274.4 L412.3 274.4 L413.9 274.3 L415.4 274.1 L416.9 274 L418.5 273.7 L420 273.5 L421.5 273.2 L423 272.8 L424.5 272.4 L426 272 L427.4 271.5 L428.9 270.9 L430.3 270.4 L431.7 269.9 L433.1 269.4 L434.6 268.9" fill="none" stroke="#1E8A57" stroke-width="5.2" stroke-linecap="butt" stroke-linejoin="round"/>
<path d="M368.5 285.7 L367.8 286.7 L367 287.7 L366.3 288.7 L365.5 289.7 L364.8 290.8 L364 291.8 L363.3 292.8 L362.7 293.8 L362.1 294.9 L361.5 296 L361 297.1 L360.5 298 L360 299 L359.5 299.9 L359.1 300.9 L358.7 302 L358.4 303.2 L358.2 304.5 L358.1 306 L358 307.8 L358.1 309.8 L358.3 312.1 L358.6 314.6 L359 317.3 L359.4 320 L359.9 322.9 L360.4 325.7 L360.8 328.6 L361.2 331.3 L361.5 334 L361.8 336.6 L362.1 339.3 L362.4 342 L362.7 344.7 L363 347.3 L363.2 350 L363.3 352.5 L363.4 355 L363.4 357.4 L363.3 359.6 L363.1 361.7 L362.8 363.6 L362.4 365.5 L361.9 367.3 L361.4 369 L360.8 370.6 L360.2 372.2 L359.5 373.8 L358.8 375.4 L358 377 L357.2 378.6 L356.3 380.2 L355.3 381.7 L354.3 383.2 L353.2 384.6 L352.1 386.1 L351 387.6 L349.9 389 L348.8 390.5 L347.8 392" fill="none" stroke="#1E8A57" stroke-width="5.2" stroke-linecap="butt" stroke-linejoin="round"/>
<path d="M446.3 279.3 L445.5 280.7 L444.7 282 L443.8 283.4 L443 284.7 L442.2 286.1 L441.3 287.4 L440.6 288.8 L439.8 290.2 L439.1 291.6 L438.5 293 L437.9 294.4 L437.4 295.8 L436.8 297.2 L436.3 298.6 L435.9 300.1 L435.5 301.5 L435.1 303 L434.9 304.5 L434.7 306.1 L434.6 307.8 L434.6 309.5 L434.8 311.4 L435 313.2 L435.4 315.1 L435.7 317.1 L436.2 319.1 L436.6 321.1 L436.9 323.1 L437.3 325 L437.5 327 L437.7 328.9 L437.9 330.9 L438.1 332.9 L438.3 334.8 L438.5 336.8 L438.7 338.8 L438.7 340.7 L438.7 342.7 L438.7 344.7 L438.5 346.7 L438.2 348.7 L437.9 350.7 L437.5 352.8 L437 354.9 L436.4 356.9 L435.8 359 L435.2 361 L434.5 363 L433.8 365 L433 367 L432.2 368.9 L431.3 370.8 L430.3 372.7 L429.3 374.6 L428.3 376.4 L427.2 378.2 L426.1 380.1 L425.1 381.9 L424 383.7 L423 385.6" fill="none" stroke="#1E8A57" stroke-width="5.2" stroke-linecap="butt" stroke-linejoin="round"/>
<path d="M509.8 303.9 L508.5 305 L507.2 306.1 L505.9 307.2 L504.6 308.2 L503.3 309.3 L502 310.4 L500.7 311.5 L499.4 312.6 L498.2 313.8 L497 315 L495.8 316.2 L494.7 317.4 L493.6 318.7 L492.5 319.9 L491.4 321.2 L490.4 322.5 L489.4 323.9 L488.4 325.3 L487.4 326.9 L486.5 328.5 L485.6 330.3 L484.8 332.1 L484 334.1 L483.2 336.2 L482.4 338.3 L481.7 340.4 L481 342.6 L480.3 344.8 L479.7 346.9 L479 349 L478.4 351.1 L477.9 353.3 L477.4 355.5 L476.9 357.7 L476.4 360 L476 362.2 L475.5 364.3 L474.9 366.3 L474.2 368.2 L473.5 370 L472.7 371.6 L471.8 373.2 L470.8 374.6 L469.8 376 L468.8 377.2 L467.7 378.5 L466.6 379.6 L465.4 380.8 L464.2 381.9 L463 383 L461.7 384.1 L460.4 385.1 L459 386 L457.6 386.9 L456.2 387.8 L454.7 388.6 L453.2 389.4 L451.8 390.3 L450.3 391.1 L448.9 392" fill="none" stroke="#1E8A57" stroke-width="5.2" stroke-linecap="butt" stroke-linejoin="round"/>
<path d="M364 420.6 L365.3 420.9 L366.6 421.1 L367.9 421.4 L369.2 421.7 L370.5 422 L371.8 422.3 L373.1 422.5 L374.4 422.7 L375.7 422.9 L377 423 L378.3 423.1 L379.6 423.1 L380.9 423.2 L382.1 423.2 L383.4 423.2 L384.7 423.1 L386.1 423 L387.5 422.7 L389 422.4 L390.6 421.9 L392.3 421.3 L394.1 420.5 L396 419.7 L397.9 418.7 L399.9 417.7 L402 416.6 L404 415.5 L406 414.5 L408 413.5 L410 412.5 L412 411.6 L413.9 410.6 L415.9 409.6 L417.9 408.6 L419.9 407.7 L421.8 406.8 L423.8 405.9 L425.7 405.1 L427.6 404.3 L429.4 403.7 L431.2 403.2 L432.9 402.7 L434.6 402.4 L436.2 402.1 L437.8 401.8 L439.5 401.6 L441.1 401.4 L442.7 401.3 L444.3 401.1 L446 401 L447.7 400.9 L449.4 400.8 L451.1 400.8 L452.8 400.8 L454.5 400.8 L456.2 400.9 L457.9 400.9 L459.6 401 L461.3 401 L463 401" fill="none" stroke="#1E8A57" stroke-width="5.2" stroke-linecap="butt" stroke-linejoin="round"/>
<path d="M402.2 245.6 L401.4 253.9" fill="none" stroke="#F28E1E" stroke-width="2.3"/><path d="M395.8 258.7 Q401.8 250.4 406.1 259.6 Q401.3 255.4 395.8 258.7Z" fill="#F28E1E" stroke="#F28E1E" stroke-width="0.9" stroke-linejoin="round"/>
<path d="M456.7 249.4 L457.5 242.4" fill="none" stroke="#F28E1E" stroke-width="2.3"/><path d="M463.1 237.7 Q457.1 245.8 452.9 236.6 Q457.6 240.9 463.1 237.7Z" fill="#F28E1E" stroke="#F28E1E" stroke-width="0.9" stroke-linejoin="round"/>
<path d="M337.4 303.9 L329.1 305.2" fill="none" stroke="#F28E1E" stroke-width="2.3"/><path d="M323.1 300.9 Q332.5 304.7 324.6 311.1 Q327.6 305.4 323.1 300.9Z" fill="#F28E1E" stroke="#F28E1E" stroke-width="0.9" stroke-linejoin="round"/>
<path d="M391.9 297.9 L383.6 300.5" fill="none" stroke="#F28E1E" stroke-width="2.3"/><path d="M377 297.2 Q386.8 299.5 380 307 Q382.1 301 377 297.2Z" fill="#F28E1E" stroke="#F28E1E" stroke-width="0.9" stroke-linejoin="round"/>
<path d="M470.9 296.1 L461.1 297.9" fill="none" stroke="#F28E1E" stroke-width="2.3"/><path d="M454.9 293.8 Q464.4 297.3 456.8 303.9 Q459.6 298.2 454.9 293.8Z" fill="#F28E1E" stroke="#F28E1E" stroke-width="0.9" stroke-linejoin="round"/>
<path d="M334 358.3 L341.3 358.9" fill="none" stroke="#F28E1E" stroke-width="2.3"/><path d="M346.2 364.4 Q337.9 358.6 347 354.1 Q342.8 359 346.2 364.4Z" fill="#F28E1E" stroke="#F28E1E" stroke-width="0.9" stroke-linejoin="round"/>
<path d="M403 353.2 L412.6 354.4" fill="none" stroke="#F28E1E" stroke-width="2.3"/><path d="M417.2 360.2 Q409.2 354 418.6 350.1 Q414.1 354.7 417.2 360.2Z" fill="#F28E1E" stroke="#F28E1E" stroke-width="0.9" stroke-linejoin="round"/>
<path d="M451.5 351.9 L460.6 353.9" fill="none" stroke="#F28E1E" stroke-width="2.3"/><path d="M464.6 360.1 Q457.2 353.2 466.9 350.1 Q462 354.3 464.6 360.1Z" fill="#F28E1E" stroke="#F28E1E" stroke-width="0.9" stroke-linejoin="round"/>
<path d="M511.1 349.8 L500 351.3" fill="none" stroke="#F28E1E" stroke-width="2.3"/><path d="M494 347 Q503.4 350.9 495.4 357.2 Q498.5 351.5 494 347Z" fill="#F28E1E" stroke="#F28E1E" stroke-width="0.9" stroke-linejoin="round"/>
<path d="M343.9 408.9 L338.2 401.1" fill="none" stroke="#F28E1E" stroke-width="2.3"/><path d="M339.2 393.8 Q340.2 403.9 330.9 399.9 Q337.3 399.9 339.2 393.8Z" fill="#F28E1E" stroke="#F28E1E" stroke-width="0.9" stroke-linejoin="round"/>
<path d="M388 395.9 L388.5 401.6" fill="none" stroke="#F28E1E" stroke-width="2.3"/><path d="M383.9 407.4 Q388.2 398.2 394.1 406.5 Q388.6 403.1 383.9 407.4Z" fill="#F28E1E" stroke="#F28E1E" stroke-width="0.9" stroke-linejoin="round"/>
<path d="M461.9 416.7 L454.1 415.4" fill="none" stroke="#F28E1E" stroke-width="2.3"/><path d="M449.7 409.4 Q457.5 415.9 448 419.6 Q452.6 415.1 449.7 409.4Z" fill="#F28E1E" stroke="#F28E1E" stroke-width="0.9" stroke-linejoin="round"/>
<path d="M355.6 266.3 Q354.1 272.4 349.1 276.1" fill="none" stroke="#1E8A57" stroke-width="1.8"/><ellipse cx="349.1" cy="276.1" rx="5.27" ry="2.635" fill="#1E8A57" transform="rotate(123.3 349.1 276.1)"/>
<path d="M416.5 272.8 Q411.2 268.4 410 261.6" fill="none" stroke="#1E8A57" stroke-width="1.8"/><ellipse cx="410" cy="261.6" rx="5.27" ry="2.635" fill="#1E8A57" transform="rotate(-120.2 410 261.6)"/>
<path d="M360.7 313 Q366.3 309.2 372.9 309.9" fill="none" stroke="#1E8A57" stroke-width="1.8"/><ellipse cx="372.9" cy="309.9" rx="5.27" ry="2.635" fill="#1E8A57" transform="rotate(-14.3 372.9 309.9)"/>
<path d="M439.3 307.8 Q444.7 303.6 451.5 303.9" fill="none" stroke="#1E8A57" stroke-width="1.8"/><ellipse cx="451.5" cy="303.9" rx="5.27" ry="2.635" fill="#1E8A57" transform="rotate(-17.7 451.5 303.9)"/>
<path d="M358.2 373.9 Q351.2 372 347 366.1" fill="none" stroke="#1E8A57" stroke-width="1.8"/><ellipse cx="347" cy="366.1" rx="5.27" ry="2.635" fill="#1E8A57" transform="rotate(-145.1 347 366.1)"/>
<path d="M432 370 Q425.9 367.1 423 360.9" fill="none" stroke="#1E8A57" stroke-width="1.8"/><ellipse cx="423" cy="360.9" rx="5.27" ry="2.635" fill="#1E8A57" transform="rotate(-135 423 360.9)"/>
<path d="M470.9 371.3 Q466.9 369.1 465.2 364.8" fill="none" stroke="#1E8A57" stroke-width="1.8"/><ellipse cx="465.2" cy="364.8" rx="5.27" ry="2.635" fill="#1E8A57" transform="rotate(-131.3 465.2 364.8)"/>
<path d="M478.7 354.4 Q484.3 351.7 490.4 353.2" fill="none" stroke="#1E8A57" stroke-width="1.8"/><ellipse cx="490.4" cy="353.2" rx="5.27" ry="2.635" fill="#1E8A57" transform="rotate(-6.3 490.4 353.2)"/>
<path d="M382.8 416.7 Q382.7 412.3 385.4 408.9" fill="none" stroke="#1E8A57" stroke-width="1.8"/><ellipse cx="385.4" cy="408.9" rx="5.27" ry="2.635" fill="#1E8A57" transform="rotate(-71.6 385.4 408.9)"/>
<path d="M435.9 405 Q441.4 407.9 443.7 413.6" fill="none" stroke="#1E8A57" stroke-width="1.8"/><ellipse cx="443.7" cy="413.6" rx="5.27" ry="2.635" fill="#1E8A57" transform="rotate(47.7 443.7 413.6)"/>
<text x="363.3" y="451.6" font-size="22.2" fill="#2B65A8" font-weight="bold" textLength="83.7" lengthAdjust="spacingAndGlyphs">PTALi-S</text>
<text x="702.7" y="336" font-size="22.1" fill="#2B65A8" font-weight="bold" textLength="130.8" lengthAdjust="spacingAndGlyphs">PTALi-SCAA</text>
<rect x="638.5" y="354.9" width="232.5" height="93.8" fill="#fff"/><g stroke="#6B6B6B" stroke-width="3.4" fill="none"><path d="M636.8 354.9 L872.7 354.9 M636.8 448.7 L872.7 448.7" stroke-dasharray="11.9 4.15"/><path d="M638.5 353.2 L638.5 450.4 M871 353.2 L871 450.4" stroke-dasharray="12.7 4.15"/></g>
<path d="M648.9 400.6 A7.2 8.5 0 0 1 662.9 400.6 A8 5 0 0 0 648.9 400.6Z" fill="#F28E1E" stroke="#F28E1E" stroke-width="0.8" stroke-linejoin="round"/>
<path d="M652.1 412.4 L652.1 404.4 Q655.9 397.9 659.7 404.4 L659.7 412.4 Q655.9 409.9 652.1 412.4Z" fill="#1E8A57"/>
<text x="676.5" y="400.5" font-size="17" font-weight="bold" font-family="'Liberation Sans', sans-serif" fill="#111" text-anchor="middle" dominant-baseline="central">=</text>
<path d="M688.6 366.4 L690 368 L691.3 366.6 L692.6 364.8 L693.9 366.1 L695.3 368 L696.6 366.9 L697.9 364.9 L699.3 365.8 L700.6 367.9 L701.9 367.2 L703.3 365.1 L704.6 365.5 L705.9 367.7 L707.2 367.5 L708.6 365.3 L709.9 365.3 L711.2 367.5 L712.6 367.7 L713.9 365.5 L715.2 365.1 L716.6 367.2 L717.9 367.9 L719.2 365.8 L720.6 364.9 L721.9 366.9" fill="none" stroke="#F08A3C" stroke-width="1.3"/>
<line x1="698.5" y1="368.7" x2="694.8" y2="382.2" stroke="#F08A3C" stroke-width="1.2" stroke-linecap="round"/>
<line x1="709.8" y1="368.7" x2="713.7" y2="382.2" stroke="#F08A3C" stroke-width="1.2" stroke-linecap="round"/>
<ellipse cx="694.3" cy="386.7" rx="3.3" ry="2.9" fill="none" stroke="#F08A3C" stroke-width="1.3"/>
<line x1="694.5" y1="390.7" x2="694.8" y2="402.2" stroke="#D030C0" stroke-width="1.5" stroke-linecap="round"/>
<text x="694.3" y="411.5" font-size="8.5" font-family="'Liberation Sans', sans-serif" font-weight="bold" fill="#1E8A3C" text-anchor="middle" dominant-baseline="central" transform="rotate(-90 694.3 411.5)">NH</text>
<ellipse cx="714" cy="386.7" rx="3.3" ry="2.9" fill="none" stroke="#F08A3C" stroke-width="1.3"/>
<line x1="714.3" y1="390.7" x2="714.6" y2="402.2" stroke="#D030C0" stroke-width="1.5" stroke-linecap="round"/>
<text x="714" y="411.5" font-size="8.5" font-family="'Liberation Sans', sans-serif" font-weight="bold" fill="#1E8A3C" text-anchor="middle" dominant-baseline="central" transform="rotate(-90 714 411.5)">NH</text>
<line x1="695.4" y1="420.5" x2="698.2" y2="432.9" stroke="#1E8A3C" stroke-width="1.3" stroke-linecap="round"/>
<line x1="713.4" y1="420.5" x2="711.2" y2="432.9" stroke="#1E8A3C" stroke-width="1.3" stroke-linecap="round"/>
<path d="M687.8 435.5 L688.7 437 L689.7 435.5 L690.6 434 L691.6 435.4 L692.5 437 L693.5 435.5 L694.4 434 L695.4 435.4 L696.3 437 L697.3 435.5 L698.2 434 L699.1 435.4 L700.1 437 L701 435.6 L702 434 L702.9 435.4 L703.9 437 L704.8 435.6 L705.8 434 L706.7 435.3 L707.7 437 L708.6 435.6 L709.6 434 L710.5 435.3 L711.5 437 L712.4 435.6 L713.4 434 L714.3 435.3 L715.3 437 L716.2 435.7 L717.1 434 L718.1 435.3 L719 437 L720 435.7 L720.9 434 L721.9 435.2" fill="none" stroke="#1E8A3C" stroke-width="1.4"/>
<path d="M743.4 374.1 A8 7.4 0 0 0 743.4 388.1 A5 8 0 0 1 743.4 374.1Z" fill="#F28E1E" stroke="#F28E1E" stroke-width="0.8" stroke-linejoin="round"/>
<circle cx="750.1" cy="381.1" r="5" fill="url(#agS)"/>
<text x="764.7" y="380.5" font-size="17" font-weight="bold" font-family="'Liberation Sans', sans-serif" fill="#111" text-anchor="middle" dominant-baseline="central">=</text>
<path d="M776.6 372.3 L778 373.6 L776.6 374.8 L775.2 376.1 L776.5 377.3 L778 378.6 L776.6 379.8 L775.2 381.1 L776.5 382.3 L778 383.6 L776.6 384.8 L775.2 386.1 L776.5 387.3 L778 388.6 L776.6 389.8 L775.2 391.1 L776.5 392.3 L778 393.6 L776.6 394.8 L775.2 396.1 L776.5 397.3 L778 398.6" fill="none" stroke="#F08A3C" stroke-width="1.3"/>
<line x1="777.1" y1="378.8" x2="791.2" y2="376.8" stroke="#F08A3C" stroke-width="1.2" stroke-linecap="round"/>
<line x1="777.4" y1="381" x2="791.5" y2="379" stroke="#F08A3C" stroke-width="1.2" stroke-linecap="round"/>
<line x1="777.1" y1="381.1" x2="792.6" y2="392.9" stroke="#F08A3C" stroke-width="1.2" stroke-linecap="round"/>
<text x="795.2" y="377.1" font-size="8.5" font-family="'Liberation Sans', sans-serif" font-weight="bold" fill="#F08A3C" text-anchor="middle" dominant-baseline="central">O</text>
<text x="799.1" y="393.8" font-size="8.5" font-family="'Liberation Sans', sans-serif" font-weight="bold" fill="#F08A3C" text-anchor="middle" dominant-baseline="central">OH</text>
<line x1="805.9" y1="393.8" x2="812.6" y2="393.8" stroke="#E040D0" stroke-width="2" stroke-dasharray="1.6 0.9"/>
<text x="819.4" y="374.3" font-size="8.3" font-family="'Liberation Sans', sans-serif" font-weight="bold" fill="#4A1414" text-anchor="middle" dominant-baseline="central">HO</text>
<text x="819.4" y="393.8" font-size="8.3" font-family="'Liberation Sans', sans-serif" font-weight="bold" fill="#4A1414" text-anchor="middle" dominant-baseline="central">HO</text>
<path d="M847.8 379.7 L847 388.3 L839.2 391.9 L832.2 387 L832.9 378.4 L840.7 374.8Z" fill="none" stroke="#4A1414" stroke-width="1.4" stroke-linejoin="round"/>
<line x1="845.4" y1="380.9" x2="844.9" y2="386.7" stroke="#4A1414" stroke-width="1.3" stroke-linecap="round"/>
<line x1="839.4" y1="389.2" x2="834.6" y2="385.9" stroke="#4A1414" stroke-width="1.3" stroke-linecap="round"/>
<line x1="835.2" y1="379.9" x2="840.5" y2="377.4" stroke="#4A1414" stroke-width="1.3" stroke-linecap="round"/>
<line x1="825.6" y1="375.2" x2="832.9" y2="378.4" stroke="#4A1414" stroke-width="1.3" stroke-linecap="round"/>
<line x1="825.6" y1="393.2" x2="832.2" y2="387" stroke="#4A1414" stroke-width="1.3" stroke-linecap="round"/>
<line x1="847.8" y1="379.7" x2="856" y2="377.2" stroke="#4A1414" stroke-width="1.3" stroke-linecap="round"/>
<path d="M856 369.8 L857.3 370.8 L856.1 371.9 L854.7 372.9 L856 374 L857.3 375 L856.1 376.1 L854.7 377.1 L855.9 378.2 L857.3 379.2 L856.2 380.2 L854.7 381.3 L855.9 382.3 L857.3 383.4 L856.2 384.4 L854.8 385.5 L855.9 386.5 L857.3 387.5 L856.3 388.6 L854.8 389.6 L855.8 390.7 L857.3 391.7 L856.3 392.8 L854.8 393.8 L855.8 394.9 L857.3 395.9 L856.3 396.9 L854.8 398" fill="none" stroke="#4A1414" stroke-width="1.4"/>
<path d="M734 425.2 L742.5 425.2 Q749 429 742.5 432.8 L734 432.8 Q736.5 429 734 425.2Z" fill="#1E8A57"/>
<circle cx="754.3" cy="429" r="5" fill="url(#agS)"/>
<text x="768.1" y="428.7" font-size="17" font-weight="bold" font-family="'Liberation Sans', sans-serif" fill="#111" text-anchor="middle" dominant-baseline="central">=</text>
<path d="M778.8 414.9 q3 2 0 4 q-3 2 1 4.5 q3 2 1 3.3" fill="none" stroke="#1E8A3C" stroke-width="1.4"/>
<path d="M778.8 431 q3 2 0 4 q-3 2 1 4.5 q3 2 1 1.9" fill="none" stroke="#1E8A3C" stroke-width="1.4"/>
<line x1="780.8" y1="422.5" x2="792.1" y2="419.7" stroke="#1E8A3C" stroke-width="1.3" stroke-linecap="round"/>
<line x1="782.2" y1="434.6" x2="793.5" y2="435.8" stroke="#1E8A3C" stroke-width="1.3" stroke-linecap="round"/>
<text x="800" y="420" font-size="8.5" font-family="'Liberation Sans', sans-serif" font-weight="bold" fill="#1E8A3C" text-anchor="middle" dominant-baseline="central">NH<tspan font-size="6" dy="2">2</tspan></text>
<text x="801.1" y="435.8" font-size="8.5" font-family="'Liberation Sans', sans-serif" font-weight="bold" fill="#1E8A3C" text-anchor="middle" dominant-baseline="central">NH<tspan font-size="6" dy="2">2</tspan></text>
<line x1="809.8" y1="418.8" x2="816.6" y2="418.8" stroke="#E040D0" stroke-width="2" stroke-dasharray="1.6 0.9"/>
<line x1="810.9" y1="435.8" x2="817.7" y2="435.8" stroke="#E040D0" stroke-width="2" stroke-dasharray="1.6 0.9"/>
<text x="823.9" y="418.8" font-size="8.3" font-family="'Liberation Sans', sans-serif" font-weight="bold" fill="#4A1414" text-anchor="middle" dominant-baseline="central">HO</text>
<text x="823.9" y="435.8" font-size="8.3" font-family="'Liberation Sans', sans-serif" font-weight="bold" fill="#4A1414" text-anchor="middle" dominant-baseline="central">HO</text>
<path d="M849.2 423.1 L848.4 431.7 L840.6 435.3 L833.6 430.4 L834.3 421.8 L842.1 418.2Z" fill="none" stroke="#4A1414" stroke-width="1.4" stroke-linejoin="round"/>
<line x1="846.8" y1="424.3" x2="846.3" y2="430.1" stroke="#4A1414" stroke-width="1.3" stroke-linecap="round"/>
<line x1="840.8" y1="432.6" x2="836" y2="429.3" stroke="#4A1414" stroke-width="1.3" stroke-linecap="round"/>
<line x1="836.6" y1="423.3" x2="841.9" y2="420.8" stroke="#4A1414" stroke-width="1.3" stroke-linecap="round"/>
<line x1="830.1" y1="419.7" x2="834.3" y2="421.8" stroke="#4A1414" stroke-width="1.3" stroke-linecap="round"/>
<line x1="830.1" y1="435.2" x2="833.6" y2="430.4" stroke="#4A1414" stroke-width="1.3" stroke-linecap="round"/>
<line x1="849.2" y1="423.1" x2="858.3" y2="420.6" stroke="#4A1414" stroke-width="1.3" stroke-linecap="round"/>
<path d="M858.3 412.6 L859.6 413.7 L858.4 414.7 L857 415.7 L858.1 416.8 L859.6 417.8 L858.6 418.8 L857 419.8 L857.9 420.9 L859.5 421.9 L858.7 422.9 L857.1 423.9 L857.8 425 L859.5 426 L858.9 427 L857.2 428 L857.6 429.1 L859.4 430.1 L859.1 431.1 L857.3 432.2 L857.5 433.2 L859.3 434.2 L859.2 435.2 L857.4 436.3 L857.3 437.3 L859.1 438.3 L859.3 439.3 L857.5 440.4 L857.2 441.4" fill="none" stroke="#4A1414" stroke-width="1.4"/>
</g>
<g id="panelB">
<path d="M284.3 640 L876.1 640 L876.1 932.6 L292 927 Q284.5 926.6 284.3 919Z" fill="url(#derm)"/>
<path d="M600 676 L876.1 676 L876.1 932.6 L600 930Z" fill="url(#dermR)"/>
<path d="M284.3 583 L300 583 Q330 575 352 530 Q368 496 392 488.3 L750 490.5 C772 492 788 500 800 512 L876 577 L876.1 600 L876.1 610 L284.3 610Z" fill="#EFBDA2"/>
<path d="M600 489.4 L750 490.5 C772 492 788 500 800 512 L876 577 L800 577 L812 560 L800 525 L778 515 L600 506Z" fill="#F5CBAC"/>
<path d="M284.3 597.6 L381.5 598.3 C385 606 391 625 391 640 Q391 658 380 661.5 L292 649.6 L284.3 649Z" fill="url(#pe1)"/>
<path d="M777 600.3 L876.1 600.3 L876.1 663 L783 663 Q777 663 777 657Z" fill="url(#pe2)"/>
<path d="M772.5 662.5 L864 662.5 Q870 663 870 668.5 Q870 675 862 675.5 L772.5 675.5Z" fill="#EA6D6E"/>
<path d="M772.4 604.5 L777 604.5 L777 657 Q777 663 783 663 L772.4 664Z" fill="#EA6D6E"/>
<clipPath id="wl"><rect x="280" y="480" width="310" height="360"/></clipPath>
<clipPath id="wr"><rect x="598" y="480" width="240" height="360"/></clipPath>
<path d="M381.5 598.5 L382 600 L382.5 601.4 L383 602.9 L383.5 604.4 L384 606 L384.6 607.6 L385.2 609.3 L385.8 611 L386.4 612.9 L387 615 L387.6 617.4 L388.3 620 L388.9 622.7 L389.5 625.4 L390 628 L390.4 630.5 L390.7 632.9 L390.9 635.4 L391 637.7 L391 640 L390.9 642.2 L390.7 644.4 L390.4 646.5 L390.1 648.5 L389.6 650.4 L389.1 652.2 L388.4 653.9 L387.7 655.4 L386.9 656.8 L386 658 L385.2 659 L384.4 659.9 L383.5 660.6 L382.1 661 L380 661.2 L377.1 661 L373.5 660.5 L369.4 659.9 L364.9 659.1 L360 658.3 L354.6 657.5 L348.7 656.7 L342.5 655.7 L336.2 654.8 L330 654 L323.7 653.2 L317 652.4 L310.5 651.6 L304.7 650.9 L300 650.3 L296.8 649.9 L294.7 649.6 L293.3 649.3 L292.2 649.2 L291 649.2 L289.7 649.3 L288.6 649.4 L287.6 649.6 L286.8 650 L286.2 650.5 L285.8 651.2 L285.5 652.1 L285.5 653 L285.5 654 L285.6 655 L285.8 655.9 L286 656.8 L286.4 657.8 L286.8 658.7 L287.5 659.5 L288.2 660.3 L288.9 660.9 L289.8 661.6 L291.1 662.3 L293 663 L295.6 663.8 L298.8 664.7 L302.4 665.6 L306.2 666.4 L310 667 L313.6 667.4 L317.3 667.7 L321.1 667.9 L325.3 668 L330 668.2 L335.4 668.4 L341.5 668.5 L347.9 668.6 L354.2 668.7 L360 668.8 L365.6 668.9 L371.2 669.1 L376.5 669.2 L381.2 669.3 L385 669.5 L387.7 669.5 L389.4 669.3 L390.5 669.3 L391.5 669.6 L392.8 670.4 L394.3 671.8 L395.8 673.5 L397.3 675.7 L398.8 678.4 L400.2 681.7 L401.6 685.9 L402.9 691 L404.3 696.4 L405.6 701.6 L406.8 706 L407.9 709.3 L408.9 712 L409.8 714.4 L411 717 L412.5 720.2 L414.3 724.2 L416.3 728.7 L418.5 733.5 L421.1 738.3 L424 743 L427.5 747.6 L431.5 752.3 L435.7 757 L440 761.3 L444 765.3 L447.7 768.8 L451.3 771.9 L454.9 774.7 L458.4 777.4 L462 780 L465.5 782.5 L468.9 784.9 L472.3 787.2 L476 789.5 L480 792 L484.5 794.6 L489.2 797.4 L494.3 800.2 L499.5 802.9 L505 805.5 L510.8 808 L517 810.5 L523.3 812.9 L529.5 815.1 L535.3 817 L540.7 818.5 L545.8 819.7 L550.7 820.7 L555.4 821.6 L560 822.5 L564.4 823.3 L568.6 824.1 L572.6 824.8 L576.6 825.4 L580.4 826 L584.1 826.6 L587.6 827.1 L591.1 827.5 L594.5 828 L598 828.5 L598 600 L384.9 593.5Z" fill="#E27B7A" clip-path="url(#wl)"/>
<path d="M440 506 L428.5 506.4 L422.8 506.8 L420.9 507.2 L421.1 507.7 L421.4 508.3 L420 509 L417.2 509.9 L414.5 510.8 L411.9 511.8 L409.5 513 L407.2 514.4 L405 516 L402.9 517.8 L400.9 519.9 L399.1 522.1 L397.3 524.5 L395.6 527.1 L394 530 L392.4 533.2 L390.9 536.7 L389.5 540.4 L388.2 544.3 L387 548.2 L386 552 L385.2 555.8 L384.6 559.6 L384.1 563.5 L383.7 567.4 L383.4 571.2 L383 575 L382.6 578.8 L382.1 582.7 L381.8 586.5 L381.4 590.2 L381.1 593.8 L381 597 L381 599.9 L381.1 602.5 L381.3 604.9 L381.5 607.2 L381.8 609.5 L382 612 L382.2 614.5 L382.4 617 L382.6 619.4 L382.9 622 L383.2 624.9 L383.5 628 L383.9 631.5 L384.3 635.3 L384.7 639.3 L385.2 643.5 L385.8 647.7 L386.5 652 L387.3 656.2 L388.1 660.2 L389 664.4 L390.1 668.8 L391.4 673.6 L393 679 L394.8 685.1 L396.8 691.9 L399 699.1 L401.6 706.4 L404.5 713.8 L408 721 L412 728.1 L416.4 735.3 L421.3 742.6 L426.6 749.7 L432.1 756.5 L438 763 L444.2 769.2 L450.7 775.1 L457.5 780.8 L464.7 786.2 L472.2 791.3 L480 796 L488.3 800.4 L497 804.4 L506 808.1 L515.3 811.5 L524.6 814.6 L534 817.5 L544 820.1 L554.9 822.5 L565.9 824.6 L576.2 826.4 L585.2 827.9 L592 829 L595.7 829.8 L596.6 830.2 L596.2 830.2 L595.7 830.1 L596.5 829.6 L600 829 L606.4 828.2 L614.8 827.4 L624.4 826.2 L634.8 824.8 L645.2 822.9 L655 820.5 L664.6 817.7 L674.6 814.4 L684.6 810.8 L694.3 806.7 L703.6 802.1 L712 797 L719.6 791.3 L726.7 785 L733.3 778.3 L739.4 771.1 L744.9 763.7 L750 756 L754.5 747.8 L758.5 739 L761.9 729.9 L765 720.9 L767.6 712.1 L770 704 L772 696.9 L773.5 690.5 L774.7 684.5 L775.6 678.4 L776.3 671.7 L777 664 L777.4 654.6 L777.5 643.8 L777.4 632.4 L777.4 621.3 L777.5 611.6 L778 604 L778.8 599 L779.6 596 L780.7 594.2 L782 593.1 L783.8 591.9 L786 590 L789 587.4 L792.9 584.8 L797.1 582.1 L801.3 579.4 L805.1 576.7 L808 574 L810.2 571.5 L811.9 569.2 L813.2 566.9 L814 564.4 L814.5 561.5 L814.5 558 L814.1 553.6 L813.2 548.5 L811.9 543 L810.2 537.5 L808.3 532.4 L806 528 L804.1 524.4 L802.6 521.2 L800.8 518.4 L798 515.9 L793.3 513.8 L786 512 L775.6 510.6 L762.7 509.8 L748 509.2 L732.1 508.9 L715.9 508.5 L700 508 L684.8 507.3 L669.9 506.4 L654.6 505.6 L638.3 504.9 L620.3 504.3 L600 504 L575.2 504 L545.9 504.2 L515 504.6 L485.2 505 L459.3 505.5Z" fill="#CBA9A7" clip-path="url(#wr)"/>
<path d="M772.8 606 L777.2 606 L777.2 664 L772.4 664Z" fill="#EA6D6E"/>
<linearGradient id="lstrip" x1="284.3" x2="298" y1="0" y2="0" gradientUnits="userSpaceOnUse"><stop offset="0" stop-color="#FFF6F0" stop-opacity="0.75"/><stop offset="0.45" stop-color="#FFF6F0" stop-opacity="0.4"/><stop offset="1" stop-color="#FFF6F0" stop-opacity="0"/></linearGradient>
<path d="M284.3 583 L298 583 L298 927.2 L292 927 Q284.5 926.6 284.3 919Z" fill="url(#lstrip)"/>
<path d="M598 502.3 L583 502.3 L567.6 502.3 L552.2 502.2 L537.3 502.2 L523 502.2 L510 502.2 L498 502.2 L486.6 502.2 L476 502.1 L466.3 502.1 L457.6 502.1 L450 502.2 L443.9 502.2 L439.2 502.2 L435.5 502.3 L432.4 502.4 L429.4 502.7 L426 503.2 L422.4 503.9 L418.8 504.7 L415.3 505.6 L412 506.8 L408.9 508.2 L406 510 L403.3 512.1 L400.8 514.6 L398.5 517.3 L396.4 520.3 L394.5 523.5 L392.7 527 L391.1 530.8 L389.6 534.9 L388.4 539.2 L387.2 543.7 L386.3 548.2 L385.5 552.7 L384.9 557.3 L384.6 562.2 L384.4 567.1 L384.3 571.9 L384.2 576.2 L384.2 580 L384.2 583.1 L384.2 585.7 L384.3 588 L384.4 590 L384.6 591.8 L384.9 593.5 L385.3 595.1 L385.7 596.4 L386.2 597.6 L386.8 598.7 L387.4 599.8 L388 601 L388.7 602.2 L389.5 603.3 L390.3 604.5 L391.2 605.7 L392 607.1 L392.8 608.7 L393.5 610.6 L394.3 612.7 L395 615 L395.7 617.4 L396.4 619.7 L397 622 L397.6 624 L398 625.7 L398.5 627.4 L398.9 629.4 L399.5 631.8 L400.2 634.9 L401.1 638.8 L402 643.3 L403.1 648.3 L404.3 653.6 L405.5 659.2 L406.8 664.8 L408.2 670.8 L409.8 677.5 L411.5 684.3 L413.1 691 L414.7 697.1 L416.2 702.3 L417.5 706.4 L418.7 709.6 L419.8 712.4 L421 714.8 L422.2 717.3 L423.5 720.2 L424.9 723.5 L426.4 726.9 L428 730.3 L429.6 733.8 L431.2 737 L433 740 L434.8 742.7 L436.7 745.2 L438.7 747.5 L440.7 749.7 L442.8 751.9 L445 754 L447.2 756 L449.5 757.9 L451.9 759.7 L454.4 761.5 L457 763.4 L459.8 765.3 L462.8 767.3 L466 769.4 L469.3 771.5 L472.7 773.7 L476.3 775.8 L480 778 L483.8 780.2 L487.8 782.4 L491.9 784.6 L496.1 786.8 L500.5 788.9 L505 791 L509.8 793 L514.9 795.1 L520.2 797 L525.4 798.9 L530.5 800.8 L535.3 802.5 L539.8 804.1 L544.1 805.6 L548.3 807.1 L552.3 808.5 L556.2 809.8 L560 811 L563.7 812.2 L567.2 813.3 L570.6 814.3 L574 815.3 L577.2 816.2 L580.4 817 L583.5 817.7 L586.5 818.4 L589.4 818.9 L592.2 819.4 L595.1 819.9 L598 820.5 L598 502.3Z" fill="#D8695F" clip-path="url(#wl)"/>
<path d="M786 512 Q806 522 812 545 Q817 560 812 574 L800 582 L806 560 L800 530Z" fill="#C9BEBD" opacity="0.9"/>
<path d="M598 501.4 L606.7 501.7 L615.4 502 L624.1 502.4 L632.8 502.7 L641.4 503 L650 503.4 L658.4 503.8 L666.8 504.2 L675.1 504.6 L683.4 505.1 L691.7 505.5 L700 506 L708.7 506.5 L717.7 507 L726.8 507.5 L735.5 508 L743.3 508.4 L750 508.8 L755.3 509.1 L759.4 509.3 L762.8 509.4 L765.6 509.6 L768.2 509.8 L771 510.2 L773.8 510.7 L776.3 511.2 L778.6 511.8 L780.8 512.4 L782.9 513.2 L785 514 L787 515 L789 516 L790.9 517.2 L792.7 518.4 L794.4 519.7 L796 521 L797.5 522.3 L799 523.6 L800.3 525 L801.6 526.5 L802.8 528.1 L804 530 L805.2 532.2 L806.3 534.7 L807.3 537.3 L808.3 540 L809.2 542.6 L810 545 L810.7 547.2 L811.4 549.2 L812 551.1 L812.5 553 L812.7 555 L812.7 557 L812.4 559.2 L811.9 561.4 L811.2 563.8 L810.3 566 L809.2 568.1 L808 570 L806.5 571.6 L804.8 573.1 L802.8 574.4 L800.8 575.6 L798.8 576.8 L797 578 L795.3 579.2 L793.6 580.3 L791.9 581.4 L790.3 582.6 L788.6 583.7 L787 585 L785.3 586.4 L783.6 587.8 L781.9 589.3 L780.2 590.9 L778.7 592.4 L777.5 594 L776.5 595.4 L775.7 596.5 L775.1 597.6 L774.6 599.1 L774.2 601.1 L773.8 604 L773.5 608 L773.4 612.9 L773.4 618.4 L773.4 624.1 L773.4 629.8 L773.4 635 L773.4 639.8 L773.5 644.3 L773.6 648.8 L773.7 653.3 L773.5 658 L773 663 L772.3 668.2 L771.6 673.4 L770.6 678.8 L769.3 684.6 L767.7 690.9 L765.5 698 L762.9 706.2 L759.8 715.4 L756.4 725.2 L752.6 735 L748.4 744.5 L743.7 753 L738.6 760.7 L733.2 768.1 L727.4 775.1 L721.1 781.6 L714.3 787.5 L707 793 L699 797.9 L690.3 802.1 L681 805.9 L671.6 809.3 L662.1 812.3 L652.8 815 L643.7 817.3 L634.6 819 L625.4 820.3 L616.3 821.5 L607.1 822.7 L598 824Z" fill="#C39B97" clip-path="url(#wr)"/>
<path d="M598 499.8 L700 504.4 L771 508.6 L786 513.5 L771 510.4 L700 506.2 L598 501.6Z" fill="#E26E6E"/>
<rect x="590" y="499.5" width="8" height="330.5" fill="#fff"/>
<path d="M381.6 597.6 L390.6 605.8 L388.6 601.2Z" fill="#fff"/>
<ellipse cx="830.7" cy="673" rx="37.5" ry="10.5" fill="#C6C6C6"/>
<clipPath id="skc"><rect x="284" y="480" width="592.8" height="460"/></clipPath><g clip-path="url(#skc)">
<path d="M330 873.6 L329.9 869.3 L329.8 865.1 L329.7 861 L329.6 856.8 L329.6 852.6 L329.6 848.2 L329.8 843.4 L330 838.3 L330.3 833.1 L330.7 827.9 L331 823.1 L331.3 818.8 L331.5 815 L331.7 811.7 L331.9 808.8 L332 806.2 L332.3 803.9 L332.6 801.8 L333.1 799.9 L333.6 798.2 L334.2 796.5 L334.9 794.8 L335.6 792.9 L336.4 790.9 L324.6 786.7 L324 788.5 L323.3 790.2 L322.5 792.1 L321.8 794.3 L321.1 796.8 L320.5 799.5 L320 802.3 L319.8 805.1 L319.6 808 L319.4 811.1 L319.2 814.4 L319.1 818 L318.8 822.3 L318.5 827.2 L318.2 832.4 L317.9 837.7 L317.7 843 L317.5 847.9 L317.5 852.5 L317.5 857 L317.6 861.3 L317.8 865.5 L317.9 869.6 L318 873.8Z" fill="#E8141C"/>
<path d="M330.6 801.2 L329.9 798.9 L329.1 796.7 L328.4 794.4 L327.6 792.1 L326.8 789.7 L325.9 787.3 L324.8 784.7 L323.6 782.3 L322.4 780 L321.5 778 L320.8 776.3 L320.5 774.9 L320.6 773.6 L321 772 L321.6 770.2 L322.5 768.4 L323.5 766.5 L324.4 764.7 L325.1 763.2 L325.9 761.9 L326.7 760.7 L327.6 759.4 L328.6 758.1 L329.5 756.7 L325.6 753.6 L324.5 754.8 L323.4 755.9 L322.3 757.1 L321.1 758.4 L320 759.9 L318.9 761.5 L317.8 763.2 L316.5 765 L315.3 767.1 L314.1 769.4 L313.2 772 L312.8 775 L313 778 L313.8 780.8 L314.7 783.4 L315.7 785.9 L316.6 788.1 L317.3 790.3 L317.8 792.4 L318.4 794.7 L318.9 797 L319.4 799.3 L320 801.7 L320.5 804Z" fill="#E8141C"/>
<path d="M329.1 758.3 L329.1 757.9 L329.1 757.7 L329.3 757.2 L329.5 756.6 L329.6 755.7 L329.8 754.6 L330 753.3 L330.2 751.6 L330.5 749.7 L330.7 747.7 L331 745.6 L331.1 743.5 L331.2 741.3 L331.2 739 L331.1 736.6 L331.1 734.2 L331 731.9 L331 729.5 L330 729.5 L329.8 731.8 L329.6 734.2 L329.4 736.6 L329.2 738.9 L329 741.1 L328.7 743.2 L328.3 745.2 L327.9 747.2 L327.4 749.2 L327 750.9 L326.5 752.5 L326.1 753.8 L325.7 754.6 L325.5 755 L325.3 755.1 L325.1 755.2 L324.7 755.6 L324.4 756.1Z" fill="#E8141C"/>
<path d="M319.2 775.7 L318.4 774.9 L317.7 774.2 L316.9 773.5 L316.1 772.8 L315.4 772.1 L314.7 771.3 L314 770.5 L313.3 769.6 L312.6 768.7 L311.9 767.7 L311.2 766.8 L310.5 765.9 L309.8 766.3 L310.3 767.3 L310.7 768.4 L311.2 769.5 L311.7 770.6 L312.2 771.6 L312.7 772.7 L313.3 773.7 L313.8 774.6 L314.4 775.5 L315 776.4 L315.6 777.3 L316.1 778.2Z" fill="#E8141C"/>
<path d="M328.6 749 L327.7 746.2 L326.8 743.4 L325.9 740.6 L325 737.8 L324.1 735.1 L323.2 732.3 L322.3 729.5 L321.4 726.7 L320.5 724 L319.6 721.2 L318.7 718.4 L317.8 715.6 L317.5 715.7 L318.2 718.6 L319 721.4 L319.7 724.2 L320.5 727 L321.2 729.8 L322 732.7 L322.7 735.5 L323.5 738.3 L324.2 741.1 L325 743.9 L325.7 746.8 L326.5 749.6Z" fill="#E8141C"/>
<path d="M333.5 799.8 L335 796.7 L336.6 793.4 L338 790.2 L339.4 787.3 L340.8 784.7 L342.1 782.6 L343.5 780.9 L345 779.3 L346.6 777.9 L348.4 776.4 L350.4 774.9 L352.4 773.2 L354.3 771.6 L356.3 770.1 L358.3 768.5 L360.3 766.9 L362.3 765.2 L364.1 763.5 L365.8 761.7 L367.2 760 L368.5 758.3 L369.6 756.7 L370.7 755.2 L371.9 753.7 L366.2 748.8 L364.8 750.2 L363.4 751.7 L362.2 753 L360.9 754.3 L359.6 755.6 L358.1 756.8 L356.5 758 L354.6 759.2 L352.6 760.5 L350.5 761.9 L348.2 763.4 L346.1 764.8 L344.1 766.2 L342.1 767.5 L339.8 768.9 L337.5 770.6 L335.1 772.7 L332.7 775.2 L330.5 778.1 L328.5 781.2 L326.7 784.4 L325 787.5 L323.3 790.6 L321.6 793.5Z" fill="#E8141C"/>
<path d="M370.3 755.8 L370.4 755.5 L370.4 755.3 L370.9 754.7 L371.6 753.8 L372.1 752.6 L372.6 751.3 L373.1 749.6 L373.7 747.7 L374.4 745.5 L375 743.1 L375.6 740.5 L376.1 737.8 L376.4 735 L376.6 732.1 L376.7 729 L376.7 725.9 L376.7 722.8 L376.6 719.6 L376.5 716.5 L376.2 713.4 L375.9 710.3 L375.6 707.1 L375.3 704 L375 700.8 L374.2 700.9 L374.2 704 L374.2 707.2 L374.2 710.4 L374.3 713.5 L374.2 716.6 L374.1 719.6 L373.8 722.7 L373.6 725.7 L373.3 728.8 L372.9 731.7 L372.4 734.5 L371.8 737 L371.2 739.4 L370.4 741.6 L369.5 743.8 L368.6 745.7 L367.8 747.5 L367 748.8 L366.5 749.7 L366.2 749.9 L366.1 749.7 L365.9 749.7 L365.2 750.1 L364.5 750.6Z" fill="#E8141C"/>
<path d="M375.2 742.6 L376.2 741.4 L377.1 740.3 L378.1 739.1 L379.1 737.9 L380 736.5 L380.8 734.9 L381.4 733.2 L381.8 731.3 L382.2 729.4 L382.5 727.5 L382.8 725.5 L383.1 723.7 L382.6 723.5 L382 725.3 L381.4 727.2 L380.9 729.1 L380.3 730.9 L379.7 732.6 L379 734 L378.1 735.2 L377.2 736.2 L376.1 737.2 L375 738.1 L373.8 739.1 L372.7 740.2Z" fill="#E8141C"/>
<path d="M358.2 761.4 L358.4 759.1 L358.6 756.7 L358.9 754.3 L359.1 752 L359.3 749.7 L359.4 747.4 L359.6 745.3 L359.6 743.3 L359.7 741.3 L359.7 739.4 L359.7 737.4 L359.7 735.5 L358.5 735.4 L358.3 737.3 L358 739.3 L357.8 741.2 L357.5 743.1 L357.2 745.1 L356.9 747.1 L356.5 749.3 L356.1 751.5 L355.6 753.8 L355.1 756.2 L354.7 758.5 L354.2 760.8Z" fill="#E8141C"/>
<path d="M359.6 739 L360.1 738.6 L360.8 738.2 L361.4 737.8 L362.1 737.3 L362.7 736.7 L363.1 736.1 L363.4 735.3 L363.5 734.6 L363.5 733.8 L363.4 733 L363.4 732.2 L363.3 731.5 L362.8 731.5 L362.8 732.2 L362.7 733 L362.7 733.8 L362.6 734.5 L362.5 735.1 L362.3 735.6 L361.9 736 L361.4 736.4 L360.8 736.7 L360.1 737 L359.4 737.4 L358.7 737.8Z" fill="#E8141C"/>
<path d="M338.9 789.1 L341.2 789.2 L343.5 789.4 L345.9 789.7 L348.5 789.9 L351.2 789.8 L353.9 789.4 L356.4 788.7 L358.8 787.8 L361.1 786.6 L363.3 785.3 L365.3 783.8 L367.2 782.2 L368.9 780.3 L370.2 778.2 L371.3 776.1 L372.3 774 L373.2 772.1 L374.1 770.4 L375.2 768.7 L376.2 767 L377.3 765.3 L378.4 763.7 L379.5 762 L380.5 760.3 L377.3 758 L376 759.6 L374.8 761.1 L373.6 762.7 L372.3 764.3 L371.1 765.9 L369.8 767.6 L368.6 769.5 L367.4 771.5 L366.3 773.3 L365.3 775 L364.2 776.4 L362.9 777.6 L361.5 778.7 L359.8 779.7 L358 780.5 L356.2 781.3 L354.3 781.8 L352.6 782.2 L350.9 782.3 L349 782.1 L346.9 781.8 L344.7 781.4 L342.2 780.9 L339.8 780.6Z" fill="#E8141C"/>
<path d="M379.4 762 L379.7 761.4 L379.8 760.9 L379.9 760.6 L379.9 760.4 L380.2 760 L380.8 759.3 L381.8 758.5 L383.1 757.4 L384.6 756.2 L386.2 755 L387.8 753.9 L389.2 753 L390.5 752.3 L391.7 751.7 L393 751.1 L394.2 750.6 L395.5 750.1 L396.8 749.5 L396.6 749 L395.2 749.3 L393.9 749.7 L392.6 750 L391.2 750.4 L389.8 750.8 L388.4 751.4 L386.8 752.2 L385 753.2 L383.3 754.2 L381.6 755.3 L380.2 756.2 L379 757 L378.1 757.6 L377.4 758.1 L376.9 758.7 L376.5 759.1 L376.3 759.2 L376 759.5Z" fill="#E8141C"/>
<path d="M380 761.1 L382.1 760.9 L384.3 760.6 L386.5 760.3 L388.6 760.1 L390.7 759.8 L392.7 759.7 L394.7 759.6 L396.7 759.5 L398.7 759.5 L400.6 759.4 L402.6 759.4 L404.6 759.4 L404.6 758.9 L402.6 758.7 L400.7 758.5 L398.7 758.3 L396.8 758.1 L394.8 757.9 L392.7 757.8 L390.6 757.8 L388.4 757.8 L386.3 757.8 L384.1 757.9 L381.9 757.9 L379.8 757.9Z" fill="#E8141C"/>
<path d="M331.1 824 L332 822.9 L332.9 821.8 L333.8 820.7 L334.8 819.6 L335.6 818.4 L336.5 817.4 L337.2 816.3 L337.9 815.2 L338.5 814.2 L339 813.2 L339.6 812.2 L340.2 811.2 L339.4 810.6 L338.6 811.4 L337.8 812.3 L337 813.1 L336.2 813.9 L335.3 814.7 L334.4 815.5 L333.4 816.3 L332.4 817.2 L331.3 818.1 L330.2 819 L329 819.9 L327.9 820.8Z" fill="#E8141C"/>
<path d="M336.1 816.6 L336.2 815.8 L336.3 815 L336.3 814.1 L336.4 813.3 L336.4 812.5 L336.5 811.6 L336.6 810.7 L336.6 809.8 L336.7 808.9 L336.7 808 L336.8 807.1 L336.9 806.2 L336.4 806.1 L336.2 807 L336 807.9 L335.8 808.8 L335.6 809.7 L335.4 810.5 L335.2 811.4 L335 812.2 L334.8 813 L334.6 813.8 L334.4 814.6 L334.2 815.4 L334 816.3Z" fill="#E8141C"/>
<path d="M728.4 864.7 L728.8 861.9 L729.3 859.1 L729.7 856.3 L730.1 853.4 L730.5 850.6 L730.9 847.7 L731.2 844.7 L731.5 841.6 L731.8 838.5 L732 835.4 L732.2 832.6 L732.3 830 L732.4 827.8 L732.4 826 L732.4 824.5 L732.4 822.9 L732.4 821.1 L732.5 818.8 L732.9 815.8 L733.4 812.2 L733.9 808.4 L734.5 804.5 L735 800.8 L735.3 797.6 L735.4 794.9 L735.4 792.5 L735.3 790.4 L735.2 788.5 L735 786.7 L734.8 784.8 L734.6 783 L734.3 781.3 L734 779.6 L733.6 778 L733.3 776.4 L732.9 774.8 L731.3 775.1 L731.5 776.7 L731.8 778.4 L732 780 L732.2 781.6 L732.3 783.3 L732.4 785 L732.5 786.8 L732.5 788.6 L732.5 790.5 L732.4 792.5 L732.3 794.7 L732 797.2 L731.6 800.3 L731 803.9 L730.3 807.8 L729.6 811.6 L729 815.2 L728.5 818.3 L728.2 820.8 L728 822.7 L727.9 824.4 L727.8 825.9 L727.6 827.6 L727.4 829.6 L727.1 832.1 L726.8 834.9 L726.4 837.9 L726 841 L725.6 844 L725.2 846.9 L724.7 849.6 L724.2 852.4 L723.6 855.2 L723 857.9 L722.5 860.7 L721.9 863.5Z" fill="#C8141E"/>
<path d="M732.9 824.5 L733.9 823.9 L735 823.3 L736.1 822.7 L737.3 822 L738.5 821 L739.6 819.9 L740.3 818.5 L740.9 817.2 L741.3 815.8 L741.6 814.3 L741.8 812.8 L742 811.3 L742.1 809.7 L742.2 808 L742.1 806.3 L742.1 804.5 L742 802.8 L741.9 801.1 L741.9 799.5 L741.8 798 L741.7 796.4 L741.6 794.9 L741.4 793.3 L741.3 791.8 L740.1 791.8 L740.1 793.4 L740 794.9 L740 796.4 L739.9 798 L739.9 799.5 L739.8 801.1 L739.7 802.8 L739.6 804.5 L739.5 806.2 L739.4 807.9 L739.2 809.4 L739 810.9 L738.6 812.2 L738.3 813.5 L737.9 814.7 L737.5 815.8 L737 816.6 L736.4 817.3 L735.8 817.8 L735.1 818.3 L734.1 818.7 L733 819.1 L731.8 819.6 L730.6 820.1Z" fill="#C8141E"/>
<path d="M742.2 800 L743.2 799 L744.1 798.1 L745.1 797.2 L746.1 796.3 L747 795.4 L748 794.6 L749 793.7 L750 792.9 L751 792.1 L752.1 791.3 L753.1 790.6 L754.1 789.8 L753.5 788.8 L752.4 789.5 L751.2 790.1 L750.1 790.7 L749 791.4 L747.8 792.1 L746.7 792.8 L745.5 793.5 L744.4 794.2 L743.3 795 L742.2 795.8 L741.1 796.6 L740 797.3Z" fill="#C8141E"/>
<path d="M728.7 844.2 L727.7 843.2 L726.6 842.1 L725.6 841.2 L724.6 840.2 L723.8 839.4 L723.1 838.5 L722.4 837.6 L721.9 836.8 L721.5 836 L721.1 835.3 L720.9 834.5 L720.8 833.6 L720.8 832.6 L721.1 831.2 L721.6 829.7 L722 828.2 L722.5 826.6 L722.8 825.1 L723 823.9 L723.1 822.7 L723.2 821.6 L723.2 820.5 L723.1 819.5 L722.9 818.4 L722.6 817.4 L722.3 816.5 L721.8 815.6 L721.3 814.7 L720.9 813.9 L720.5 813.1 L719.4 813.6 L719.7 814.5 L720 815.4 L720.3 816.2 L720.6 817.1 L720.8 817.9 L720.9 818.7 L720.9 819.6 L720.8 820.5 L720.7 821.4 L720.5 822.3 L720.3 823.4 L720 824.5 L719.6 825.7 L719.1 827.1 L718.4 828.6 L717.8 830.2 L717.3 831.9 L717.1 833.5 L717.1 835 L717.3 836.3 L717.6 837.6 L718.1 838.8 L718.6 839.9 L719.3 841 L720.1 842.3 L721 843.5 L722 844.6 L723 845.7 L723.9 846.8 L724.8 847.9Z" fill="#C8141E"/>
<path d="M722.4 818.6 L721.3 817.6 L720.2 816.6 L719.1 815.6 L718 814.7 L716.9 813.7 L715.7 812.8 L714.6 811.8 L713.5 811 L712.4 810.1 L711.3 809.3 L710.2 808.4 L709.1 807.6 L708.3 808.4 L709.3 809.4 L710.3 810.4 L711.2 811.4 L712.2 812.4 L713.2 813.4 L714.1 814.5 L715.1 815.5 L716 816.6 L717 817.7 L718 818.9 L718.9 820 L719.9 821.1Z" fill="#C8141E"/>
<path d="M720.1 833.6 L719.4 833 L718.6 832.4 L717.9 831.8 L717.1 831.3 L716.4 830.7 L715.7 830.2 L715 829.7 L714.3 829.3 L713.7 829 L713 828.6 L712.4 828.2 L711.8 827.9 L711.1 828.7 L711.6 829.3 L712.1 829.8 L712.6 830.3 L713.2 830.8 L713.7 831.3 L714.2 831.9 L714.7 832.5 L715.3 833.2 L715.9 833.9 L716.5 834.6 L717.1 835.3 L717.8 836Z" fill="#C8141E"/>
<path d="M716.8 831.8 L716.8 831.4 L716.8 830.9 L716.8 830.5 L716.8 830.1 L716.8 829.7 L716.8 829.2 L716.7 828.8 L716.7 828.3 L716.7 827.8 L716.7 827.3 L716.7 826.8 L716.7 826.3 L716.2 826.3 L716.1 826.8 L716 827.3 L715.9 827.7 L715.8 828.2 L715.7 828.7 L715.6 829.1 L715.5 829.6 L715.4 830 L715.3 830.4 L715.2 830.8 L715.1 831.2 L715 831.6Z" fill="#C8141E"/>
<path d="M733 800.8 L732.7 800.2 L732.4 799.6 L732.2 799 L731.9 798.4 L731.7 797.8 L731.4 797.2 L731.2 796.7 L731.1 796.2 L730.9 795.7 L730.7 795.2 L730.6 794.7 L730.4 794.2 L729.9 794.3 L730 794.9 L730 795.4 L730.1 795.9 L730.1 796.4 L730.2 797 L730.3 797.6 L730.5 798.2 L730.6 798.8 L730.8 799.5 L731 800.1 L731.1 800.8 L731.3 801.4Z" fill="#C8141E"/>
<path d="M460.3 871.9 L460.5 869 L460.8 866.1 L461.1 863.1 L461.4 860.2 L461.7 857.5 L461.9 855.1 L462.1 853 L462.2 851.2 L462.3 849.7 L462.4 848.3 L462.5 846.9 L462.8 845.3 L463.2 843.4 L463.9 841.3 L464.6 839.2 L465.3 837 L465.9 834.8 L466.5 832.8 L466.8 831 L467.2 829.3 L467.4 827.8 L467.6 826.1 L467.7 824.4 L467.7 822.4 L467.6 820.1 L467.4 817.6 L467.1 814.9 L466.8 812.2 L466.3 809.6 L465.8 807.2 L465.2 805.1 L464.4 803.1 L463.5 801.3 L462.6 799.5 L461.7 797.8 L460.8 796 L459.7 796.4 L460.5 798.3 L461.3 800.1 L462.1 801.9 L462.8 803.7 L463.5 805.6 L464 807.6 L464.4 809.9 L464.7 812.5 L464.9 815.1 L465.1 817.7 L465.1 820.2 L465.1 822.4 L465 824.2 L464.8 825.8 L464.6 827.3 L464.2 828.7 L463.8 830.2 L463.4 831.9 L462.8 833.8 L462 835.9 L461.2 838 L460.4 840.2 L459.7 842.3 L459 844.4 L458.6 846.2 L458.3 847.8 L458.1 849.3 L457.9 850.9 L457.7 852.5 L457.4 854.5 L457.1 856.9 L456.7 859.6 L456.3 862.5 L455.9 865.5 L455.5 868.4 L455.1 871.3Z" fill="#C0101C"/>
<path d="M462.5 855.3 L463.5 854.4 L464.5 853.6 L465.6 852.8 L466.7 851.8 L467.7 850.9 L468.7 849.9 L469.6 848.9 L470.4 847.9 L471.3 846.8 L472.1 845.6 L472.7 844.2 L473.2 842.7 L473.4 840.9 L473.3 839.1 L473.1 837.2 L472.9 835.5 L472.8 833.9 L472.9 832.6 L473.2 831.5 L473.6 830.4 L474.1 829.5 L474.7 828.5 L475.3 827.6 L476.1 826.7 L476.9 825.8 L477.8 824.9 L478.8 824.1 L479.9 823.2 L481 822.4 L482 821.5 L481.5 820.8 L480.4 821.5 L479.2 822.3 L478.1 823.1 L477 823.8 L475.9 824.7 L474.9 825.6 L474 826.5 L473.2 827.4 L472.4 828.4 L471.7 829.5 L471.1 830.7 L470.6 832.1 L470.4 833.8 L470.4 835.6 L470.5 837.5 L470.6 839.2 L470.5 840.8 L470.3 842 L469.9 843 L469.3 843.9 L468.6 844.7 L467.9 845.6 L467 846.4 L466.1 847.3 L465.2 848 L464.2 848.8 L463.2 849.5 L462.1 850.3 L460.9 851 L459.8 851.8Z" fill="#C0101C"/>
<path d="M468.4 826.7 L468.7 826.2 L468.9 825.7 L469.2 825.1 L469.5 824.5 L469.7 824 L470 823.4 L470.2 822.8 L470.4 822.2 L470.6 821.6 L470.8 821 L471 820.4 L471.2 819.8 L470.5 819.5 L470.2 820 L469.9 820.5 L469.5 821.1 L469.2 821.6 L468.9 822.1 L468.6 822.6 L468.2 823.1 L467.9 823.6 L467.5 824.1 L467.1 824.5 L466.7 825 L466.4 825.5Z" fill="#C0101C"/>
<linearGradient id="blG" x1="309" x2="873" y1="0" y2="0" gradientUnits="userSpaceOnUse"><stop offset="0" stop-color="#2371AB"/><stop offset="0.26" stop-color="#2371AB"/><stop offset="0.33" stop-color="#3593D1"/><stop offset="0.77" stop-color="#3593D1"/><stop offset="0.84" stop-color="#2371AB"/><stop offset="1" stop-color="#2371AB"/></linearGradient>
<path d="M309 900 L312.5 898 L316 895.9 L319.6 893.8 L323.1 891.8 L326.6 889.9 L330 888 L333.4 886.2 L336.7 884.4 L340.1 882.7 L343.4 881.1 L346.7 879.7 L350 878.5 L353.3 877.5 L356.5 876.8 L359.7 876.2 L363 875.7 L366.4 875.5 L370 875.5 L373.9 875.7 L378 876.2 L382.2 876.9 L386.5 877.7 L390.8 878.6 L395 879.5 L399 880.4 L402.9 881.4 L406.8 882.4 L410.9 883.6 L415.2 884.7 L420 886 L425.5 887.4 L431.6 889 L437.9 890.6 L444.3 892.2 L450.5 893.7 L456 895 L460.9 896.2 L465.3 897.3 L469.5 898.2 L473.6 899.1 L477.7 899.7 L482 900 L486.5 900.1 L491.1 899.9 L495.8 899.5 L500.4 898.9 L505.2 898.1 L510 897 L515 895.6 L520.2 893.8 L525.4 891.8 L530.6 889.7 L535.5 887.7 L540 886 L543.9 884.5 L547.4 883 L550.6 881.7 L553.8 880.5 L557.2 879.4 L561 878.5 L565.3 877.8 L570.1 877.3 L575 876.9 L579.9 876.6 L584.7 876.5 L589 876.5 L592.9 876.6 L596.6 876.9 L600.1 877.4 L603.5 877.9 L606.8 878.4 L610 879 L613.1 879.5 L615.9 880.1 L618.7 880.7 L621.5 881.4 L624.4 882.1 L627.6 883 L631.1 884 L634.9 885.2 L638.8 886.4 L642.7 887.7 L646.5 888.9 L650 890 L653.2 891 L656 892 L658.8 892.9 L661.6 893.7 L664.6 894.4 L668 895 L671.9 895.5 L676.1 895.9 L680.5 896.2 L685 896.4 L689.5 896.3 L693.8 896 L698 895.3 L702.2 894.2 L706.4 892.9 L710.5 891.5 L714.3 890.2 L718 889 L721.4 888 L724.4 887.1 L727.3 886.3 L730.2 885.4 L733 884.5 L736 883.5 L739 882.3 L741.9 881.1 L744.8 879.7 L747.9 878.4 L751.1 877.2 L754.6 876.1 L758.5 875.2 L762.8 874.4 L767.2 873.7 L771.7 873.1 L776 872.5 L780 872 L783.6 871.5 L786.9 871.1 L790 870.8 L793.2 870.6 L796.3 870.4 L799.7 870.4 L803.3 870.5 L806.9 870.7 L810.7 871.1 L814.4 871.5 L818.2 872 L822 872.5 L825.9 873.1 L829.8 873.8 L833.8 874.5 L837.7 875.3 L841.4 876.1 L844.8 877 L847.8 877.9 L850.7 878.9 L853.3 879.8 L855.7 880.9 L857.9 881.9 L860 883 L861.9 884.1 L863.6 885.3 L865.2 886.4 L866.6 887.6 L867.9 888.8 L869 890 L870 891.2 L870.7 892.3 L871.3 893.5 L871.9 894.7 L872.4 895.8 L873 897" fill="none" stroke="url(#blG)" stroke-width="8.6" stroke-linecap="butt"/>
<path d="M307.7 911.4 L307.8 913.8 L307.5 916 L307 918 L306.2 919.7 L305.1 921 L303.6 921.8 L301.7 922.1 L299.5 922.2 L297.4 922.1 L295.5 922.1 L293.8 922.3 L292 922.7 L290.4 922.9 L288.9 922.7 L287.7 921.8 L286.8 919.9 L286 917.3 L285.5 914.2 L285.2 911.1 L285.1 908.3 L285.3 905.7 L285.8 903.1 L286.5 900.5 L287.4 898.4 L288.4 896.8 L289.4 895.8 L290.6 895.4 L291.9 895.4 L293.3 895.5 L294.7 895.7 L296.4 895.7 L298.2 895.6 L300.1 895.8 L301.9 896.4 L303.4 897.6 L304.7 899.6 L305.8 902.5 L306.7 905.6 L307.4 908.7Z" fill="#F6ECDF" stroke="#EAD8C6" stroke-width="0.7"/>
<ellipse cx="295.9" cy="910.1" rx="4.2" ry="4.8" fill="#EECFB8" transform="rotate(9.8 296.1 909.3)"/>
<path d="M330.4 910.6 L330.1 913.4 L329.5 916.4 L328.7 919.4 L327.7 921.9 L326.7 923.8 L325.5 924.7 L324.2 924.9 L322.7 924.7 L321.2 924.4 L319.6 924.2 L317.8 924.2 L315.9 924.4 L314 924.5 L312.2 924.1 L310.7 923 L309.5 921 L308.5 918.2 L307.8 914.9 L307.3 911.7 L307.1 909 L307.4 906.6 L307.9 904.4 L308.8 902.4 L309.9 900.6 L311.2 899.1 L312.7 898 L314.7 897.1 L316.7 896.5 L318.8 896.2 L320.6 896 L322.2 896 L323.8 896.3 L325.3 896.7 L326.6 897.5 L327.7 898.8 L328.6 900.5 L329.4 902.8 L330 905.3 L330.3 908Z" fill="#F6ECDF" stroke="#EAD8C6" stroke-width="0.7"/>
<ellipse cx="317.9" cy="910.2" rx="4.7" ry="6.8" fill="#EECFB8" transform="rotate(18.1 318.8 910.8)"/>
<path d="M350.4 910 L350.5 912.2 L350.7 914.7 L350.7 917.2 L350.5 919.4 L349.9 921.1 L348.8 922.4 L347.2 923.2 L345.4 923.8 L343.5 924.2 L341.6 924.3 L339.6 924.3 L337.3 924.1 L335.1 923.7 L333.1 923 L331.7 922.1 L330.7 920.9 L330.2 919.4 L330 917.6 L330 915.6 L330.1 913.5 L330.3 910.8 L330.8 907.7 L331.4 904.5 L332.1 901.7 L333 899.7 L334 898.5 L335.1 898 L336.4 897.8 L337.7 898 L339.3 898.1 L341.1 898.3 L343.4 898.6 L345.6 899.2 L347.6 899.9 L349.1 901 L349.9 902.3 L350.3 904 L350.4 905.9 L350.3 908Z" fill="#F6ECDF" stroke="#EAD8C6" stroke-width="0.7"/>
<ellipse cx="339.4" cy="914.1" rx="4" ry="4.8" fill="#EECFB8" transform="rotate(-29.9 340.4 912)"/>
<path d="M371.2 910.8 L371.5 913.4 L371.6 916.2 L371.4 919 L371 921.4 L370.1 923.2 L368.6 924.3 L366.6 924.8 L364.4 924.9 L362.2 924.9 L360.2 925 L358.5 925.3 L356.8 925.6 L355.3 925.8 L353.9 925.6 L352.8 924.8 L351.9 923.3 L351.2 921.2 L350.7 918.7 L350.4 916 L350.4 913.3 L350.6 910.4 L351.1 907 L351.9 903.7 L352.8 900.8 L353.9 898.8 L355.3 897.8 L356.9 897.7 L358.7 898 L360.5 898.4 L362 898.6 L363.2 898.4 L364.3 898.1 L365.3 897.9 L366.2 898.1 L367.1 898.9 L368.1 900.5 L369.1 902.8 L370 905.4 L370.8 908.2Z" fill="#F6ECDF" stroke="#EAD8C6" stroke-width="0.7"/>
<ellipse cx="361.3" cy="912.1" rx="4.5" ry="5.3" fill="#EECFB8" transform="rotate(-14.5 360.5 912)"/>
<path d="M391.2 908.8 L391.1 911.5 L390.7 914.7 L390.2 918 L389.5 920.9 L388.4 922.9 L387 924 L385.1 924.3 L383 924.2 L381 923.9 L379.3 923.7 L377.7 923.7 L376.3 923.7 L375 923.6 L373.9 923.1 L372.9 922.3 L372 920.9 L371.3 919.1 L370.8 917 L370.4 914.8 L370.2 912.6 L370 910.3 L369.9 907.7 L370 905.2 L370.4 902.8 L371.3 900.9 L373 899.5 L375.4 898.3 L378 897.5 L380.6 897 L382.8 896.8 L384.5 897 L386.1 897.5 L387.5 898.4 L388.7 899.5 L389.6 900.7 L390.4 901.9 L390.9 903.3 L391.2 904.9 L391.3 906.7Z" fill="#F6ECDF" stroke="#EAD8C6" stroke-width="0.7"/>
<ellipse cx="382.5" cy="912.8" rx="4.3" ry="4.1" fill="#EECFB8" transform="rotate(9.5 380.8 911)"/>
<path d="M415.2 908.4 L415.2 911.1 L415 914.1 L414.5 917.2 L413.8 919.9 L412.6 921.9 L410.9 923.1 L408.7 923.8 L406.2 924.1 L403.7 924.1 L401.5 923.8 L399.4 923.4 L397.3 922.6 L395.3 921.6 L393.5 920.3 L392.1 918.8 L391.2 916.9 L390.5 914.6 L390.2 912.1 L390 909.6 L390.1 907.3 L390.4 905 L390.8 902.6 L391.5 900.4 L392.5 898.4 L393.6 896.9 L395.1 895.9 L397 895.3 L399 895.1 L401.1 895.1 L403.1 895.2 L405 895.3 L407 895.6 L408.9 896.1 L410.7 896.9 L412.1 898 L413.2 899.6 L414.1 901.5 L414.7 903.7 L415.1 906Z" fill="#F6ECDF" stroke="#EAD8C6" stroke-width="0.7"/>
<ellipse cx="404.1" cy="911.2" rx="5.1" ry="6.8" fill="#EECFB8" transform="rotate(5.7 402.5 909.3)"/>
<path d="M437.2 905.6 L437.1 908.2 L436.9 911.2 L436.4 914.2 L435.6 917 L434.5 919.1 L432.9 920.5 L430.9 921.4 L428.7 921.9 L426.4 922.1 L424.3 921.9 L422.3 921.3 L420.2 920.3 L418.2 919 L416.4 917.5 L415 916.1 L414.1 914.8 L413.6 913.4 L413.3 911.9 L413.2 910.3 L413.2 908.5 L413 906.4 L412.9 904 L412.9 901.5 L413.3 899.3 L414.2 897.5 L415.7 896.2 L417.8 895.2 L420.2 894.5 L422.7 894 L424.9 893.9 L427.1 893.9 L429.3 894.3 L431.5 894.9 L433.4 895.8 L434.9 896.9 L435.9 898.2 L436.6 899.7 L437 901.5 L437.2 903.5Z" fill="#F6ECDF" stroke="#EAD8C6" stroke-width="0.7"/>
<ellipse cx="426.8" cy="910.1" rx="4.8" ry="6.2" fill="#EECFB8" transform="rotate(-12.8 425.2 907.6)"/>
<path d="M457.8 908.6 L457.4 910.9 L456.6 913.2 L455.6 915.3 L454.5 917.1 L453.3 918.5 L452.2 919.3 L451 919.8 L449.7 919.9 L448.3 919.9 L446.8 919.8 L445 919.9 L443 919.9 L441 919.8 L439.2 919.4 L437.8 918.5 L436.8 917 L436.1 914.9 L435.6 912.6 L435.4 910.2 L435.3 907.9 L435.4 905.6 L435.7 903.1 L436.2 900.6 L436.9 898.4 L438 896.7 L439.6 895.3 L441.6 894.3 L443.8 893.6 L446 893.2 L447.9 893 L449.7 892.9 L451.4 893 L453 893.4 L454.4 894.1 L455.5 895.4 L456.4 897.4 L457.1 900.1 L457.6 903.1 L457.9 906Z" fill="#F6ECDF" stroke="#EAD8C6" stroke-width="0.7"/>
<ellipse cx="445.1" cy="907.7" rx="3.5" ry="5.2" fill="#EECFB8" transform="rotate(-18.4 446.6 906.9)"/>
<path d="M477.6 908.1 L477.5 910.4 L477.4 913 L477.1 915.5 L476.5 917.8 L475.6 919.4 L474.2 920.3 L472.3 920.6 L470.1 920.6 L468.1 920.4 L466.3 920.3 L464.8 920.3 L463.4 920.4 L462.1 920.3 L461 919.8 L459.9 918.8 L459 917 L458.2 914.5 L457.6 911.7 L457 909 L456.7 906.5 L456.4 904.4 L456.2 902.4 L456.3 900.5 L456.6 898.9 L457.4 897.5 L458.8 896.5 L460.8 895.7 L463 895.2 L465.3 894.9 L467.4 894.9 L469.5 895.2 L471.7 895.8 L473.8 896.6 L475.7 897.7 L477 899 L477.7 900.4 L478 902.1 L478 904 L477.8 906.1Z" fill="#F6ECDF" stroke="#EAD8C6" stroke-width="0.7"/>
<ellipse cx="467.8" cy="907" rx="5.1" ry="6.5" fill="#EECFB8" transform="rotate(28.7 467 907.5)"/>
<path d="M500.1 910.8 L500.2 913 L500.1 914.9 L499.8 916.7 L499.2 918.2 L498.1 919.5 L496.5 920.6 L494.3 921.5 L491.8 922.2 L489.4 922.6 L487.2 922.7 L485.2 922.7 L483.3 922.4 L481.4 921.9 L479.8 921 L478.5 919.6 L477.5 917.6 L476.7 914.9 L476.2 912 L475.9 909 L476 906.4 L476.3 904 L476.9 901.5 L477.8 899.2 L478.9 897.3 L480.1 895.9 L481.7 895.3 L483.6 895.2 L485.7 895.5 L487.7 895.9 L489.6 896.1 L491.4 896 L493.2 895.6 L494.9 895.4 L496.4 895.7 L497.6 896.7 L498.5 898.7 L499.2 901.6 L499.7 904.9 L500 908.1Z" fill="#F6ECDF" stroke="#EAD8C6" stroke-width="0.7"/>
<ellipse cx="486.3" cy="911" rx="4.1" ry="6" fill="#EECFB8" transform="rotate(-22.9 488.2 908.8)"/>
<path d="M520.8 908.3 L520.8 911 L520.7 914.2 L520.5 917.5 L519.9 920.5 L518.9 922.7 L517.3 924 L515 924.8 L512.5 925 L510.2 925.1 L508.2 925.1 L506.8 925 L505.6 924.9 L504.7 924.6 L503.7 923.9 L502.8 922.7 L501.7 921 L500.6 918.9 L499.6 916.4 L498.8 913.7 L498.3 911.2 L498.2 908.5 L498.2 905.6 L498.6 902.7 L499.2 900.1 L500.1 898.2 L501.5 896.8 L503.2 895.9 L505.2 895.4 L507.3 895.2 L509.3 895.3 L511.5 895.8 L513.9 896.6 L516.2 897.7 L518.3 898.9 L519.8 900.2 L520.7 901.5 L521.1 902.9 L521.1 904.5 L521 906.2Z" fill="#F6ECDF" stroke="#EAD8C6" stroke-width="0.7"/>
<ellipse cx="510.2" cy="911.4" rx="4.8" ry="6.4" fill="#EECFB8" transform="rotate(0.2 510.1 910.1)"/>
<path d="M545 912.6 L544.7 914.7 L544.2 916.8 L543.6 918.8 L542.7 920.5 L541.5 921.8 L540 922.6 L538.1 923.1 L536.1 923.3 L534 923.4 L532 923.4 L529.9 923.5 L527.7 923.6 L525.6 923.5 L523.7 923.1 L522.3 922.2 L521.4 920.7 L520.9 918.7 L520.6 916.3 L520.6 913.9 L520.6 911.5 L520.5 909 L520.4 906.3 L520.5 903.5 L520.9 901.2 L521.9 899.4 L523.4 898.5 L525.5 898 L527.8 898 L530.3 898.1 L532.6 898.3 L535 898.5 L537.6 898.7 L540.1 899.1 L542.3 899.9 L543.9 901 L544.8 902.8 L545.3 905.1 L545.3 907.7 L545.2 910.3Z" fill="#F6ECDF" stroke="#EAD8C6" stroke-width="0.7"/>
<ellipse cx="530.8" cy="910.3" rx="4.6" ry="6.3" fill="#EECFB8" transform="rotate(-12.5 532.7 910.5)"/>
<path d="M567.3 907.7 L567.1 910.1 L566.9 912.9 L566.4 915.9 L565.8 918.5 L564.8 920.5 L563.3 921.7 L561.5 922.5 L559.4 922.8 L557.4 923 L555.4 923 L553.4 922.9 L551.4 922.7 L549.4 922.3 L547.7 921.6 L546.3 920.6 L545.3 919.2 L544.6 917.5 L544.2 915.5 L544 913.3 L543.9 911 L543.8 908.4 L543.8 905.4 L544 902.4 L544.5 899.7 L545.6 897.7 L547.2 896.4 L549.5 895.6 L552.1 895.2 L554.6 895.1 L556.9 895.3 L559.1 895.7 L561.2 896.6 L563.2 897.6 L564.9 898.8 L566.2 900.1 L567 901.3 L567.4 902.7 L567.5 904.1 L567.4 905.8Z" fill="#F6ECDF" stroke="#EAD8C6" stroke-width="0.7"/>
<ellipse cx="557.2" cy="909.4" rx="4.8" ry="5.8" fill="#EECFB8" transform="rotate(-25.6 555.5 909.5)"/>
<path d="M587.4 906.4 L587.7 908.9 L587.9 911.6 L587.9 914.2 L587.6 916.5 L586.8 918.2 L585.5 919.3 L583.6 919.9 L581.5 920.2 L579.4 920.3 L577.4 920.5 L575.5 921 L573.6 921.5 L571.8 921.9 L570.2 921.8 L568.9 920.8 L568 918.6 L567.3 915.5 L566.9 911.9 L566.7 908.4 L566.6 905.4 L566.7 902.8 L567 900.4 L567.4 898.3 L568.1 896.5 L568.9 895.1 L570 894.4 L571.3 894.2 L572.7 894.4 L574.3 894.6 L575.8 894.7 L577.5 894.6 L579.3 894.3 L581.1 894.1 L582.8 894.3 L584.2 895.1 L585.2 896.7 L586 898.8 L586.6 901.3 L587.1 904Z" fill="#F6ECDF" stroke="#EAD8C6" stroke-width="0.7"/>
<ellipse cx="575.6" cy="907.4" rx="4.3" ry="6.2" fill="#EECFB8" transform="rotate(34.3 577 907.7)"/>
<path d="M614.5 904 L614.1 906.5 L613.4 909.5 L612.4 912.6 L611.2 915.3 L609.9 917.3 L608.3 918.5 L606.4 919 L604.4 919.2 L602.3 919.2 L600.4 919.2 L598.6 919.4 L596.7 919.5 L594.9 919.6 L593.3 919.2 L591.8 918.4 L590.5 916.9 L589.4 914.8 L588.4 912.4 L587.7 910 L587.3 907.6 L587.2 905.3 L587.3 902.8 L587.7 900.3 L588.5 898.1 L589.6 896.3 L591.2 894.9 L593.3 893.8 L595.7 893 L598.1 892.5 L600.5 892.3 L603 892.6 L605.7 893.2 L608.4 894.1 L610.8 895.2 L612.6 896.4 L613.7 897.6 L614.4 898.9 L614.7 900.4 L614.7 902.1Z" fill="#F6ECDF" stroke="#EAD8C6" stroke-width="0.7"/>
<ellipse cx="600.1" cy="907.5" rx="4.7" ry="6.5" fill="#EECFB8" transform="rotate(21.3 600.5 906.1)"/>
<path d="M635.6 906.6 L635.7 909.1 L635.7 911.5 L635.6 913.8 L635.1 915.8 L634.1 917.3 L632.5 918.5 L630.3 919.3 L627.8 919.8 L625.4 920.1 L623.2 920.1 L621.3 919.9 L619.4 919.5 L617.6 918.8 L616.1 917.8 L614.8 916.6 L614 914.9 L613.5 912.9 L613.2 910.7 L613 908.3 L612.9 906 L612.9 903.6 L612.9 900.9 L613 898.3 L613.4 895.9 L614.2 894 L615.5 892.7 L617.1 891.8 L619 891.2 L621 890.9 L622.9 890.7 L624.9 890.6 L627.1 890.6 L629.3 890.9 L631.2 891.6 L632.8 892.9 L633.9 894.9 L634.6 897.7 L635.1 900.8 L635.4 903.9Z" fill="#F6ECDF" stroke="#EAD8C6" stroke-width="0.7"/>
<ellipse cx="623.6" cy="908.3" rx="4.7" ry="5.9" fill="#EECFB8" transform="rotate(18.3 624 905.3)"/>
<path d="M661.7 906.5 L661.5 908.4 L661.2 910.4 L660.6 912.4 L659.7 914.2 L658.5 915.7 L657 916.7 L655.1 917.5 L652.9 918 L650.6 918.2 L648.3 918.2 L645.8 918 L642.9 917.5 L640 916.8 L637.5 915.8 L635.6 914.5 L634.5 912.7 L634.1 910.5 L634 908.1 L634.1 905.7 L634.3 903.6 L634.4 901.8 L634.6 899.9 L635 898.3 L635.7 896.8 L636.8 895.7 L638.5 894.9 L640.8 894.4 L643.3 894.1 L645.8 894 L648.2 894.1 L650.6 894.4 L653.1 894.9 L655.5 895.6 L657.6 896.5 L659.3 897.6 L660.4 899 L661.1 900.7 L661.5 902.6 L661.7 904.6Z" fill="#F6ECDF" stroke="#EAD8C6" stroke-width="0.7"/>
<ellipse cx="647.7" cy="907.4" rx="3.7" ry="5.6" fill="#EECFB8" transform="rotate(-5.6 647.8 906)"/>
<path d="M684.1 907 L683.9 909.6 L683.7 912.5 L683.4 915.4 L682.8 917.9 L681.9 919.7 L680.6 920.7 L678.9 921.1 L677 921 L675.1 920.9 L673.3 920.8 L671.5 921 L669.8 921.4 L668.1 921.6 L666.5 921.4 L665.1 920.6 L663.7 918.8 L662.4 916.4 L661.3 913.6 L660.4 910.8 L659.8 908.2 L659.4 906 L659.3 903.8 L659.5 901.6 L660 899.7 L660.9 898.2 L662.2 896.9 L664 895.8 L666 895 L668.2 894.5 L670.5 894.2 L673 894.1 L675.9 894.3 L678.7 894.8 L681.3 895.5 L683.1 896.6 L684.1 898.1 L684.5 900.1 L684.5 902.3 L684.3 904.6Z" fill="#F6ECDF" stroke="#EAD8C6" stroke-width="0.7"/>
<ellipse cx="674.2" cy="909.6" rx="4.5" ry="6.3" fill="#EECFB8" transform="rotate(22.2 672.4 907.7)"/>
<path d="M708 909.3 L708.1 911 L708.2 912.6 L708.2 914.1 L707.8 915.4 L706.9 916.7 L705.3 917.9 L703.2 919.1 L700.7 920.2 L698.3 921.1 L696 921.6 L694 921.9 L691.9 922 L689.9 921.7 L688.1 921.1 L686.7 920 L685.5 918.1 L684.6 915.6 L683.9 912.7 L683.6 909.9 L683.5 907.4 L683.8 905.1 L684.5 902.9 L685.4 900.9 L686.5 899.1 L687.6 897.6 L688.6 896.6 L689.7 895.9 L690.9 895.4 L692.3 895.3 L694 895.3 L696.2 895.6 L698.9 896 L701.7 896.8 L704.2 897.7 L706.1 899 L707.2 900.7 L707.7 902.8 L707.9 905.1 L707.9 907.4Z" fill="#F6ECDF" stroke="#EAD8C6" stroke-width="0.7"/>
<ellipse cx="696" cy="910.2" rx="4.9" ry="6.3" fill="#EECFB8" transform="rotate(-21.7 695.8 908.8)"/>
<path d="M729.8 910.6 L729.9 912.6 L729.8 914.1 L729.5 915.4 L728.9 916.6 L727.8 917.8 L726.3 919.1 L724.2 920.3 L721.9 921.5 L719.6 922.4 L717.7 923 L716.2 923.4 L714.8 923.6 L713.5 923.5 L712.4 923 L711.3 921.8 L710.2 919.9 L709.1 917.2 L708 914.2 L707.3 911.1 L706.9 908.3 L706.8 905.8 L706.9 903.2 L707.4 900.7 L708.1 898.6 L709.2 897 L710.7 896 L712.8 895.5 L715 895.4 L717.3 895.4 L719.2 895.3 L720.8 895 L722.3 894.5 L723.7 894.3 L724.9 894.5 L726 895.5 L727.1 897.7 L728 900.9 L728.9 904.4 L729.5 907.8Z" fill="#F6ECDF" stroke="#EAD8C6" stroke-width="0.7"/>
<ellipse cx="717" cy="909.3" rx="4.6" ry="6.5" fill="#EECFB8" transform="rotate(-9.2 718.2 908.6)"/>
<path d="M753.2 906.3 L752.8 908.9 L752 912 L751 915.1 L749.9 917.9 L748.8 919.8 L747.8 920.8 L746.7 921.1 L745.5 921 L744.2 920.7 L742.6 920.5 L740.7 920.7 L738.5 921.1 L736.2 921.3 L734.1 921 L732.4 920.1 L731.2 918.1 L730.2 915.3 L729.5 912.1 L729 908.9 L728.7 906.2 L728.5 904.1 L728.5 902.2 L728.7 900.5 L729.2 899 L730 897.6 L731.3 896.2 L732.9 894.8 L734.8 893.6 L736.8 892.8 L738.9 892.5 L741.3 892.7 L744.1 893.4 L746.9 894.4 L749.3 895.7 L751.2 897.1 L752.4 898.5 L753 900.2 L753.4 902.1 L753.4 904.1Z" fill="#F6ECDF" stroke="#EAD8C6" stroke-width="0.7"/>
<ellipse cx="741.6" cy="907.7" rx="4" ry="5.6" fill="#EECFB8" transform="rotate(4.8 740.7 907.2)"/>
<path d="M778.7 907.4 L778.7 909.4 L778.7 911.3 L778.6 913 L778 914.5 L776.9 915.8 L774.8 916.8 L772.1 917.6 L769 918.2 L766 918.6 L763.4 918.8 L761.4 918.9 L759.6 919 L758 918.8 L756.7 918.2 L755.5 917.2 L754.5 915.6 L753.7 913.4 L753.2 910.9 L752.8 908.2 L752.6 905.7 L752.5 903.1 L752.4 900.2 L752.7 897.3 L753.3 894.8 L754.4 893 L756.3 891.9 L758.9 891.4 L761.7 891.4 L764.7 891.5 L767.3 891.7 L769.7 892 L772.1 892.4 L774.5 893 L776.4 893.9 L777.9 895.2 L778.7 897.1 L779.1 899.6 L779.1 902.4 L778.9 905.1Z" fill="#F6ECDF" stroke="#EAD8C6" stroke-width="0.7"/>
<ellipse cx="765.7" cy="906.4" rx="4" ry="5.4" fill="#EECFB8" transform="rotate(10.6 765.6 905.2)"/>
<path d="M804.5 904 L804.6 906 L804.6 907.9 L804.4 909.8 L803.9 911.5 L803 912.8 L801.6 913.9 L799.8 914.7 L797.7 915.3 L795.4 915.7 L793 915.8 L790.4 915.7 L787.3 915.3 L784.3 914.6 L781.5 913.8 L779.5 912.8 L778.3 911.6 L777.7 910.3 L777.4 908.7 L777.5 907 L777.7 905.1 L778 902.7 L778.6 900 L779.4 897.1 L780.5 894.6 L781.8 892.8 L783.7 891.7 L786 891.1 L788.5 890.9 L791 891 L793.3 891 L795.4 891 L797.4 891 L799.3 891.2 L801 891.8 L802.3 892.8 L803.3 894.5 L803.9 896.7 L804.2 899.2 L804.4 901.7Z" fill="#F6ECDF" stroke="#EAD8C6" stroke-width="0.7"/>
<ellipse cx="790.7" cy="906.1" rx="5.3" ry="6.8" fill="#EECFB8" transform="rotate(21.4 791.1 903.8)"/>
<path d="M829.4 906.3 L829.4 908.7 L829 911 L828.4 913 L827.5 914.8 L826.3 916.2 L824.8 917.3 L823 918.1 L820.9 918.7 L818.8 918.9 L816.6 918.7 L814.1 918 L811.4 916.9 L808.7 915.4 L806.4 913.9 L804.6 912.5 L803.6 911.2 L803.1 910 L802.9 908.8 L803.1 907.3 L803.4 905.5 L804 902.9 L804.9 899.8 L806 896.6 L807.2 893.7 L808.4 891.6 L809.5 890.3 L810.5 889.6 L811.6 889.3 L812.9 889.2 L814.4 889.3 L816.2 889.2 L818.5 889.2 L820.8 889.5 L823 890.2 L824.8 891.5 L826.2 893.8 L827.4 896.8 L828.3 900.2 L829 903.5Z" fill="#F6ECDF" stroke="#EAD8C6" stroke-width="0.7"/>
<ellipse cx="817.8" cy="903.1" rx="4.3" ry="5.2" fill="#EECFB8" transform="rotate(-19.8 816.2 904)"/>
<path d="M850 906 L850 908.3 L850 910.6 L849.8 912.7 L849.3 914.7 L848.5 916.3 L847.3 917.6 L845.7 918.6 L843.9 919.3 L842 919.8 L840.1 920.1 L838.1 920.3 L835.9 920.3 L833.8 920 L831.9 919.3 L830.4 918 L829.5 915.8 L828.9 912.8 L828.6 909.5 L828.5 906.2 L828.6 903.4 L828.9 901 L829.6 898.8 L830.4 896.7 L831.3 895 L832.2 893.5 L833.1 892.5 L833.9 891.8 L834.9 891.3 L836 891.1 L837.4 891 L839.4 891 L841.7 891.2 L844.2 891.6 L846.5 892.3 L848.1 893.5 L849.1 895.4 L849.7 897.9 L849.9 900.7 L850 903.5Z" fill="#F6ECDF" stroke="#EAD8C6" stroke-width="0.7"/>
<ellipse cx="841.3" cy="907.1" rx="4" ry="4.5" fill="#EECFB8" transform="rotate(-1.9 839.3 905.5)"/>
<path d="M872.5 907.8 L872.7 909.9 L872.7 911.7 L872.5 913.3 L871.9 914.8 L870.8 916.1 L869.1 917.5 L866.8 918.8 L864.2 920 L861.6 920.8 L859.3 921.1 L857.3 920.7 L855.4 919.8 L853.6 918.5 L852 917.1 L850.8 915.7 L849.9 914.5 L849.3 913.3 L849 912 L848.9 910.4 L849 908.4 L849.3 905.7 L849.8 902.4 L850.5 899 L851.4 895.9 L852.4 893.7 L853.5 892.5 L854.8 892.1 L856.1 892 L857.6 892.2 L859.2 892.4 L861 892.3 L863 892.3 L865 892.5 L867 893.1 L868.5 894.3 L869.8 896.3 L870.8 899.1 L871.6 902.2 L872.2 905.3Z" fill="#F6ECDF" stroke="#EAD8C6" stroke-width="0.7"/>
<ellipse cx="861.2" cy="909.2" rx="4.9" ry="6.8" fill="#EECFB8" transform="rotate(-5.8 860.9 906.8)"/>
<path d="M876.9 908.8 L876.9 911.1 L876.8 913.4 L876.7 915.5 L876.6 917.4 L876.4 918.7 L876 919.5 L875.6 919.7 L875.1 919.6 L874.6 919.4 L874 919.2 L873.5 919.4 L872.9 919.7 L872.4 919.8 L871.8 919.6 L871.4 918.9 L871.1 917.3 L870.9 915.3 L870.7 912.8 L870.6 910.3 L870.6 907.9 L870.5 905.4 L870.6 902.7 L870.6 900.1 L870.8 897.9 L871.1 896.2 L871.6 895.3 L872.2 895 L872.9 895.1 L873.6 895.3 L874.2 895.4 L874.7 895.4 L875.2 895.2 L875.7 895.3 L876.1 895.7 L876.4 896.6 L876.6 898.4 L876.8 900.8 L876.9 903.6 L876.9 906.3Z" fill="#F6ECDF" stroke="#EAD8C6" stroke-width="0.7"/>
<ellipse cx="873.7" cy="906.3" rx="5.1" ry="6.1" fill="#EECFB8" transform="rotate(-20.5 873.8 907.3)"/>
<path d="M290.7 872.8 L292.1 873.2 L293.3 873.5 L294.6 873.9 L296.3 874.3 L298.7 874.8 L301.8 875.5 L305.5 876.4 L309.6 877.3 L314.1 878.3 L318.8 879.3 L323.9 880.6 L329.5 882 L335.4 883.4 L341.2 884.9 L346.5 886.1 L351.4 887.2 L356 888.2 L360.3 889.2 L364.7 890 L369.1 890.9 L373.8 891.8 L378.5 892.7 L383.2 893.5 L387.8 894.3 L392 895 L395.9 895.5 L399.5 896 L403 896.5 L406.5 896.8 L409.9 897 L413.3 897.1 L416.6 897 L419.8 896.9 L422.9 896.6 L425.9 896.3 L428.7 896 L431.2 895.6 L433.7 895.1 L436.4 894.5 L439.4 893.8 L443.1 893 L447.1 892 L451.3 890.9 L455.6 889.8 L459.7 888.8 L463.9 887.7 L468.2 886.6 L472.4 885.5 L476.3 884.5 L479.8 883.6 L482.9 882.8 L485.5 882.2 L487.9 881.6 L490.1 881.2 L492.4 880.9 L494.8 880.7 L497.1 880.6 L499.4 880.7 L501.7 880.9 L504.1 881.2 L506.6 881.8 L509.2 882.5 L511.8 883.3 L514.7 884.3 L517.8 885.5 L521.1 886.9 L524.9 888.6 L529 890.4 L533.2 892.3 L537.3 894.1 L541.5 895.8 L545.7 897.5 L549.9 899.1 L554 900.5 L558 901.8 L561.7 902.7 L565.2 903.3 L568.4 903.8 L571.5 904.1 L574.4 904.4 L577.3 904.6 L580.1 904.7 L583.1 904.8 L586.2 904.7 L589.6 904.5 L593.6 904.2 L598 903.7 L602.6 903.2 L607.2 902.6 L611.6 901.9 L615.6 901.1 L619.4 900.2 L623.1 899.2 L626.7 898.2 L630.3 897.1 L634.1 895.8 L637.8 894.5 L641.4 893.1 L644.9 891.7 L648.4 890.3 L651.9 888.9 L655.2 887.4 L658.4 886 L661.5 884.6 L664.6 883.2 L668 881.7 L671.4 880.1 L674.8 878.6 L678.2 877.2 L681.6 876.1 L685.2 875.1 L688.9 874.3 L692.6 873.6 L696.4 873.1 L700.2 872.7 L703.9 872.5 L707.7 872.6 L711.5 872.7 L715.4 873.1 L719.3 873.5 L723.2 873.9 L727.1 874.5 L730.9 875.1 L734.7 875.9 L738.5 876.9 L742.3 878.1 L746.2 879.5 L750.1 881.1 L754 882.8 L757.6 884.4 L761 886 L764.2 887.7 L767.6 889.5 L771.1 891.3 L774.9 892.8 L778.8 894.1 L782.7 895.2 L786.5 896.1 L790.3 896.8 L794.1 897.4 L797.9 898 L801.8 898.4 L805.6 898.7 L809.4 898.9 L813.2 898.9 L817 898.8 L820.7 898.6 L824.4 898.2 L827.9 897.8 L831.4 897.3 L834.7 896.7 L838 896 L841.1 895.2 L844.2 894.4 L847.4 893.5 L850.8 892.4 L854.3 891.2 L857.8 889.9 L861.3 888.6 L864.7 887.4 L868.2 886.1 L871.6 884.8 L875 883.4 L878.4 882.1 L881.8 880.8 L876.2 866.2 L872.8 867.5 L869.4 868.8 L866 870.1 L862.6 871.4 L859.3 872.6 L855.9 873.9 L852.4 875.1 L849 876.3 L845.8 877.5 L842.6 878.5 L839.6 879.5 L836.8 880.4 L834.1 881.3 L831.5 882 L828.6 882.7 L825.6 883.4 L822.4 884 L819.2 884.5 L816 884.8 L812.8 885.1 L809.5 885.2 L806.1 885.2 L802.7 885.1 L799.3 884.9 L795.9 884.6 L792.4 884.1 L789 883.6 L785.6 882.9 L782.3 882.1 L779.1 881.2 L776 880 L773 878.6 L769.7 877 L766.2 875.3 L762.4 873.6 L758.4 872 L754.3 870.4 L750.1 868.9 L745.8 867.4 L741.5 866.1 L737.3 865 L733.1 864.1 L728.9 863.4 L724.8 862.7 L720.7 862.1 L716.6 861.6 L712.5 861.1 L708.3 860.7 L704.1 860.4 L699.8 860.3 L695.5 860.3 L691.2 860.5 L686.9 860.9 L682.7 861.3 L678.4 861.9 L674.2 862.7 L670 863.6 L666 864.6 L662.1 865.7 L658.4 866.8 L654.7 868.1 L651.2 869.5 L647.9 871 L644.8 872.4 L641.6 873.7 L638.3 875 L634.8 876.3 L631.5 877.6 L628.2 878.8 L624.9 879.9 L621.6 880.9 L618.4 881.9 L615.1 882.7 L611.9 883.5 L608.4 884.1 L604.6 884.8 L600.4 885.3 L596.1 885.8 L592 886.2 L588.4 886.5 L585.4 886.7 L582.8 886.8 L580.5 886.8 L578.2 886.7 L575.6 886.6 L572.8 886.5 L570.2 886.3 L567.6 886.1 L564.9 885.8 L562 885.2 L558.6 884.5 L554.9 883.5 L550.8 882.4 L546.7 881.1 L542.7 879.9 L538.7 878.5 L534.6 877 L530.4 875.4 L526.2 873.8 L522.2 872.5 L518.6 871.5 L515.3 870.7 L512.1 870.1 L509 869.6 L505.9 869.2 L502.9 868.8 L500 868.7 L497.2 868.6 L494.4 868.6 L491.6 868.7 L488.7 868.9 L486 869.1 L483.2 869.4 L480.2 869.8 L477 870.4 L473.2 871.2 L469.1 872.1 L464.8 873.1 L460.5 874.2 L456.3 875.2 L452.1 876.3 L447.8 877.5 L443.6 878.7 L439.7 879.8 L436.2 880.8 L433.2 881.6 L430.8 882.2 L428.6 882.8 L426.5 883.2 L424.1 883.7 L421.5 884.1 L418.7 884.4 L415.9 884.7 L413 884.9 L410.1 885 L407.1 885 L404 884.9 L400.7 884.7 L397.2 884.4 L393.4 884 L389.2 883.6 L384.8 883.1 L380.1 882.5 L375.5 881.8 L370.9 881.1 L366.5 880.4 L362.2 879.6 L357.9 878.8 L353.4 877.9 L348.7 876.9 L343.4 875.6 L337.8 874.1 L332 872.6 L326.3 871 L321.2 869.7 L316.6 868.4 L312.1 867.2 L308.1 866 L304.4 865 L301.3 864.2 L299 863.5 L297.3 863.1 L296 862.8 L294.7 862.5 L293.3 862.2Z" fill="#E11F26"/>
</g>
<path d="M403.1 544.7 L410.6 535.8 L423.5 537.5 L429.5 546.5 L422.4 556.7 L411.5 558.5Z" fill="#8549A9" stroke="#8549A9" stroke-width="1.2" stroke-linejoin="round"/><path d="M423.5 537.5 L429.5 546.5 L422.4 556.7 L420.4 553.7 L425.1 545.6 L422.8 538.6Z" fill="#7937A0"/><path d="M410.3 538.6 L422.8 538.6 L425.1 545.6 L420.4 553.7 L410.1 547.7Z" fill="#6A2391"/>
<path d="M461.2 530.2 L467.9 520.7 L480.9 521.2 L487.7 529.7 L481.5 540.4 L470.8 543.2Z" fill="#8549A9" stroke="#8549A9" stroke-width="1.2" stroke-linejoin="round"/><path d="M480.9 521.2 L487.7 529.7 L481.5 540.4 L479.2 537.6 L483.2 529.1 L480.3 522.4Z" fill="#7937A0"/><path d="M467.9 523.5 L480.3 522.4 L483.2 529.1 L479.2 537.6 L468.5 532.5Z" fill="#6A2391"/>
<path d="M495.7 522.1 L499.2 511 L511.7 507.5 L520.8 513.5 L518.2 525.6 L508.9 531.5Z" fill="#8549A9" stroke="#8549A9" stroke-width="1.2" stroke-linejoin="round"/><path d="M511.7 507.5 L520.8 513.5 L518.2 525.6 L515.1 523.6 L516.3 514.3 L511.5 508.8Z" fill="#7937A0"/><path d="M500 513.7 L511.5 508.8 L516.3 514.3 L515.1 523.6 L503.4 522.1Z" fill="#6A2391"/>
<path d="M394.1 608.3 L402.1 599.9 L414.9 602.2 L420.4 611.5 L412.8 621.3 L401.8 622.5Z" fill="#8549A9" stroke="#8549A9" stroke-width="1.2" stroke-linejoin="round"/><path d="M414.9 602.2 L420.4 611.5 L412.8 621.3 L410.9 618.2 L416.1 610.3 L414.1 603.3Z" fill="#7937A0"/><path d="M401.7 602.6 L414.1 603.3 L416.1 610.3 L410.9 618.2 L401 611.6Z" fill="#6A2391"/>
<path d="M551.9 644.2 L557.8 634.1 L570.8 633.5 L578.3 641.4 L573 652.6 L562.6 656.3Z" fill="#8549A9" stroke="#8549A9" stroke-width="1.2" stroke-linejoin="round"/><path d="M570.8 633.5 L578.3 641.4 L573 652.6 L570.5 650 L573.7 641.2 L570.3 634.7Z" fill="#7937A0"/><path d="M558 636.9 L570.3 634.7 L573.7 641.2 L570.5 650 L559.4 645.8Z" fill="#6A2391"/>
<path d="M458.5 736.3 L466.8 728.1 L479.5 730.8 L484.7 740.4 L476.8 749.8 L465.7 750.7Z" fill="#8549A9" stroke="#8549A9" stroke-width="1.2" stroke-linejoin="round"/><path d="M479.5 730.8 L484.7 740.4 L476.8 749.8 L475 746.7 L480.4 739 L478.7 731.9Z" fill="#7937A0"/><path d="M466.3 730.8 L478.7 731.9 L480.4 739 L475 746.7 L465.3 739.8Z" fill="#6A2391"/>
<path d="M435.9 578.1 L436.2 579.7 L436.5 582.4 L436.8 585.4 L437.3 587.7 L437.9 589.2 L438.6 590.3 L439.5 591.1 L440.7 591.7 L442.5 591.8 L444.8 591.6 L447 591.3 L448.6 591.4 L449.4 591.9 L449.7 592.8 L449.6 593.7 L449.1 594.5 L448.1 595.2 L446.5 596 L444.9 596.6 L443.5 597.3 L442.4 597.7 L441.4 598 L440.6 598.5 L440.1 599.5 L440.1 601.5 L440.5 604.1 L440.8 606.6 L440.7 608 L439.8 607.6 L438.5 606.1 L437.2 604.5 L436.2 604.1 L435.8 605.6 L435.8 608.1 L435.8 610.7 L435.6 611.9 L435.1 611.2 L434.4 609.4 L433.7 607.2 L432.8 605.7 L431.8 604.9 L430.8 604.5 L429.6 604.4 L428.3 604.6 L426.7 605.6 L424.7 607.2 L423.1 608.6 L422.1 609.1 L422.3 608.1 L423.3 606.2 L424.3 604.1 L424.9 602.4 L424.8 601.4 L424.4 600.6 L423.6 600 L422.6 599.5 L420.8 599.3 L418.3 599.2 L416.2 599.2 L415.3 599 L416.3 598.5 L418.6 597.9 L421.3 597.2 L423.2 596.2 L424.2 595.1 L424.7 593.8 L425 592.3 L425.5 590.5 L426.2 588 L426.9 584.9 L427.6 582.2 L428.3 580.9 L428.9 581.6 L429.4 583.8 L430 586.2 L430.5 587.7 L431.1 588.1 L431.7 587.9 L432.3 587.3 L432.8 586.6 L433.1 585.7 L433.4 584.5 L433.6 583.3 L433.9 582.1 L434.4 580.7 L434.9 579.2 L435.4 578.1Z" fill="#B79B9D" stroke="#B79B9D" stroke-width="2.4" stroke-linejoin="round"/><circle cx="432" cy="595.6" r="3.9" fill="#CC5F48"/>
<path d="M478.7 597.5 L477.9 598.9 L476.7 601.4 L475.4 604 L474.1 606.1 L473 607.3 L472 608.1 L470.9 608.5 L469.6 608.7 L467.8 608.2 L465.7 607.2 L463.7 606.1 L462.2 605.7 L461.3 605.9 L460.7 606.6 L460.5 607.5 L460.7 608.4 L461.4 609.5 L462.6 610.7 L463.9 611.9 L465 613 L465.9 613.8 L466.7 614.4 L467.3 615.1 L467.5 616.2 L466.8 618.1 L465.5 620.4 L464.4 622.6 L464 624 L464.9 623.9 L466.7 622.9 L468.5 621.9 L469.5 621.9 L469.4 623.3 L468.5 625.8 L467.7 628.1 L467.4 629.4 L468.2 628.9 L469.4 627.4 L470.9 625.6 L472.2 624.5 L473.4 624.1 L474.5 624.1 L475.7 624.4 L476.8 625 L478 626.5 L479.3 628.7 L480.3 630.6 L481.1 631.4 L481.2 630.4 L481 628.3 L480.7 625.9 L480.7 624.1 L481.2 623.2 L481.9 622.6 L482.8 622.3 L483.9 622.2 L485.7 622.6 L488 623.4 L490 624.1 L490.9 624.2 L490.1 623.4 L488.1 622.1 L486 620.4 L484.5 618.9 L484 617.5 L483.9 616.1 L484.1 614.6 L484.3 612.7 L484.5 610.1 L484.8 607 L485.1 604.2 L484.9 602.8 L484.1 603.2 L482.9 605.1 L481.5 607.1 L480.5 608.4 L479.8 608.5 L479.3 608.1 L479 607.4 L478.7 606.6 L478.7 605.6 L478.9 604.4 L479.1 603.2 L479.2 602 L479.3 600.5 L479.3 598.9 L479.2 597.7Z" fill="#B79B9D" stroke="#B79B9D" stroke-width="2.4" stroke-linejoin="round"/><circle cx="476.4" cy="615.3" r="3.9" fill="#CC5F48"/>
<path d="M542.7 588.7 L542.6 590.3 L542.7 593.1 L542.8 596 L542.7 598.4 L542.3 600 L541.7 601.2 L541 602.1 L539.8 602.8 L538 603.2 L535.7 603.3 L533.5 603.4 L532 603.7 L531.3 604.3 L531.1 605.1 L531.3 606 L531.9 606.8 L533 607.4 L534.6 607.9 L536.4 608.3 L537.8 608.8 L539 609.1 L540 609.2 L540.9 609.6 L541.5 610.5 L541.8 612.4 L541.8 615.1 L541.8 617.6 L542.1 619 L542.9 618.5 L544 616.8 L545.1 615.1 L546 614.5 L546.6 615.9 L547 618.4 L547.3 620.9 L547.7 622.1 L548.1 621.4 L548.5 619.5 L549 617.2 L549.6 615.6 L550.5 614.7 L551.5 614.1 L552.6 613.8 L553.9 613.9 L555.7 614.7 L557.8 616 L559.7 617.2 L560.7 617.5 L560.4 616.5 L559.1 614.8 L557.8 612.8 L557 611.2 L556.9 610.2 L557.2 609.4 L557.9 608.7 L558.9 608.1 L560.6 607.6 L563.1 607.2 L565.2 606.9 L566 606.5 L564.9 606.2 L562.5 605.9 L559.8 605.5 L557.8 604.9 L556.7 603.9 L556 602.7 L555.4 601.2 L554.7 599.5 L553.7 597.2 L552.6 594.2 L551.5 591.7 L550.6 590.4 L550.1 591.2 L549.9 593.4 L549.7 595.9 L549.4 597.5 L548.8 597.9 L548.2 597.8 L547.5 597.3 L547 596.7 L546.5 595.9 L546.1 594.7 L545.7 593.5 L545.2 592.4 L544.6 591.1 L543.9 589.7 L543.2 588.7Z" fill="#B79B9D" stroke="#B79B9D" stroke-width="2.4" stroke-linejoin="round"/><circle cx="549" cy="605.5" r="3.9" fill="#CC5F48"/>
<path d="M458.6 684.8 L458.1 686.3 L457 688.8 L455.8 691.6 L455 693.8 L454.8 695.4 L454.9 696.7 L455.2 697.9 L456 699 L457.5 700 L459.6 701 L461.7 701.8 L463 702.7 L463.4 703.5 L463.2 704.4 L462.7 705.1 L461.9 705.6 L460.6 705.7 L458.9 705.6 L457.1 705.4 L455.6 705.2 L454.4 705.1 L453.4 704.8 L452.5 704.8 L451.6 705.4 L450.6 707.1 L449.6 709.6 L448.6 711.9 L447.8 713.1 L447.3 712.3 L446.9 710.4 L446.5 708.3 L445.9 707.5 L444.8 708.5 L443.5 710.8 L442.3 712.9 L441.5 713.9 L441.4 713.1 L441.7 711.1 L442.1 708.9 L442.1 707.1 L441.7 706 L441 705.1 L440 704.4 L438.8 703.9 L436.9 704 L434.4 704.4 L432.2 704.8 L431.2 704.7 L431.8 704 L433.6 702.8 L435.6 701.5 L437 700.3 L437.4 699.4 L437.4 698.5 L437.1 697.6 L436.4 696.7 L434.9 695.6 L432.8 694.3 L431 693.2 L430.3 692.6 L431.5 692.7 L433.8 693.3 L436.4 694 L438.6 694.1 L440 693.6 L441.1 692.8 L442.1 691.6 L443.4 690.3 L445.3 688.5 L447.4 686.2 L449.4 684.2 L450.6 683.4 L450.8 684.3 L450.2 686.5 L449.4 688.8 L449.2 690.4 L449.5 691 L450.1 691.2 L450.9 691 L451.7 690.6 L452.4 690 L453.2 689.1 L454 688.1 L454.9 687.3 L456 686.3 L457.2 685.3 L458.2 684.6Z" fill="#B79B9D" stroke="#B79B9D" stroke-width="2.4" stroke-linejoin="round"/><circle cx="446.5" cy="698" r="3.9" fill="#CC5F48"/>
<path d="M503.6 718.5 L503 720 L502.2 722.6 L501.4 725.5 L500.6 727.7 L499.7 729.1 L498.8 730.1 L497.8 730.7 L496.5 731 L494.7 730.9 L492.5 730.2 L490.3 729.6 L488.8 729.4 L487.9 729.8 L487.5 730.5 L487.4 731.4 L487.8 732.3 L488.6 733.2 L490 734.2 L491.5 735.2 L492.8 736.1 L493.8 736.7 L494.7 737.2 L495.4 737.8 L495.7 738.8 L495.4 740.8 L494.6 743.3 L493.8 745.7 L493.7 747.1 L494.6 746.9 L496.2 745.6 L497.8 744.3 L498.8 744 L498.9 745.5 L498.5 748.1 L498 750.6 L498 751.8 L498.6 751.2 L499.6 749.5 L500.7 747.6 L501.9 746.2 L502.9 745.6 L504.1 745.4 L505.3 745.4 L506.5 745.9 L507.9 747.2 L509.5 749.1 L510.9 750.8 L511.8 751.4 L511.8 750.4 L511.2 748.4 L510.5 746.1 L510.2 744.3 L510.5 743.3 L511 742.6 L511.9 742.2 L513 741.9 L514.8 742 L517.2 742.4 L519.4 742.7 L520.3 742.6 L519.3 742 L517.1 741 L514.7 739.8 L513 738.5 L512.2 737.2 L511.9 735.9 L511.9 734.3 L511.7 732.5 L511.5 729.9 L511.3 726.8 L511 724 L510.6 722.6 L509.9 723.2 L509 725.2 L508 727.5 L507.2 728.9 L506.6 729.1 L506 728.8 L505.5 728.2 L505.2 727.4 L505 726.5 L505 725.3 L505 724 L504.9 722.8 L504.7 721.4 L504.4 719.8 L504.1 718.6Z" fill="#B79B9D" stroke="#B79B9D" stroke-width="2.4" stroke-linejoin="round"/><circle cx="504.4" cy="736.4" r="3.9" fill="#CC5F48"/>
<path d="M538.2 759.6 L539 761 L539.9 763.6 L541 766.4 L542.1 768.5 L543 769.8 L544 770.7 L545.1 771.2 L546.4 771.5 L548.2 771.1 L550.4 770.3 L552.4 769.5 L553.9 769.1 L554.8 769.5 L555.4 770.2 L555.5 771.1 L555.2 772 L554.4 773 L553.1 774.1 L551.7 775.2 L550.5 776.2 L549.6 776.9 L548.7 777.4 L548.1 778.1 L547.8 779.2 L548.3 781.1 L549.4 783.5 L550.4 785.8 L550.6 787.2 L549.7 787.1 L548 785.9 L546.3 784.8 L545.3 784.6 L545.3 786.1 L545.9 788.6 L546.6 791.1 L546.7 792.3 L546 791.8 L544.9 790.2 L543.6 788.3 L542.4 787 L541.3 786.6 L540.1 786.4 L538.9 786.6 L537.8 787.2 L536.4 788.5 L535 790.6 L533.7 792.4 L532.9 793.1 L532.9 792.1 L533.3 790 L533.8 787.7 L533.9 785.9 L533.5 784.9 L532.9 784.3 L532.1 783.9 L530.9 783.7 L529.1 783.9 L526.7 784.6 L524.7 785.1 L523.7 785.1 L524.6 784.4 L526.7 783.2 L529 781.8 L530.7 780.4 L531.3 779 L531.4 777.6 L531.4 776.1 L531.4 774.3 L531.4 771.7 L531.3 768.5 L531.3 765.7 L531.6 764.3 L532.4 764.8 L533.5 766.7 L534.6 768.9 L535.5 770.3 L536.2 770.5 L536.7 770.1 L537.1 769.4 L537.4 768.6 L537.5 767.6 L537.5 766.5 L537.3 765.2 L537.3 764 L537.4 762.5 L537.5 760.9 L537.8 759.7Z" fill="#B79B9D" stroke="#B79B9D" stroke-width="2.4" stroke-linejoin="round"/><circle cx="539" cy="777.5" r="3.9" fill="#CC5F48"/>
<path d="M488.5 558 L488.4 556.3 L488.6 554.6 L488.8 552.9 L489.3 551.3 L490 549.8 L491 548.5 L492.3 547.3 L493.9 546.3 L495.7 545.3 L497.6 544.6 L499.6 543.9 L501.5 543.5 L503.5 543.2 L505.5 543.1 L507.7 543.2 L509.7 543.4 L511.7 543.9 L513.5 544.5 L515.2 545.4 L516.7 546.6 L518.2 548 L519.5 549.5 L520.6 551 L521.5 552.5 L522 554 L522.3 555.6 L522.3 557.2 L522.2 558.9 L522.1 560.5 L522 562 L522.1 563.5 L522.2 565 L522.3 566.5 L522.3 567.9 L522 569.1 L521.5 570 L520.6 570.5 L519.5 570.8 L518.2 570.8 L516.7 570.8 L515.1 570.7 L513.5 570.8 L511.8 571 L510 571.3 L508.1 571.7 L506.2 571.9 L504.3 572.1 L502.5 572 L500.7 571.8 L498.9 571.4 L497.1 571 L495.4 570.4 L493.8 569.5 L492.5 568.5 L491.4 567.1 L490.5 565.5 L489.7 563.6 L489.1 561.7 L488.7 559.8Z" fill="#A9A9A9"/><ellipse cx="505" cy="557" rx="11.2" ry="8.8" fill="#E6DBA6" transform="rotate(0 505 557)"/>
<path d="M418.9 646 L419.1 644.4 L419.5 642.7 L420.1 641.1 L420.8 639.6 L421.8 638.3 L423 637.1 L424.4 636.2 L426.2 635.4 L428.1 634.8 L430.1 634.4 L432.2 634.1 L434.2 634 L436.2 634.1 L438.2 634.4 L440.3 634.8 L442.3 635.4 L444.2 636.2 L445.8 637.1 L447.3 638.3 L448.7 639.7 L449.9 641.3 L450.9 643 L451.7 644.7 L452.3 646.4 L452.6 647.9 L452.5 649.6 L452.3 651.2 L451.9 652.8 L451.5 654.3 L451.2 655.8 L451 657.3 L450.8 658.8 L450.6 660.3 L450.4 661.7 L450 662.8 L449.3 663.6 L448.3 664 L447.2 664 L445.8 663.8 L444.4 663.5 L442.8 663.2 L441.3 663 L439.6 662.9 L437.7 662.9 L435.8 662.9 L433.9 662.8 L432 662.6 L430.2 662.3 L428.5 661.7 L426.7 661.1 L425 660.3 L423.5 659.4 L422.1 658.3 L421 657.1 L420.1 655.6 L419.5 653.8 L419.1 651.8 L418.8 649.8 L418.8 647.8Z" fill="#A9A9A9"/><ellipse cx="435.3" cy="647.9" rx="11.2" ry="8.8" fill="#E6DBA6" transform="rotate(10 435.3 647.9)"/>
<path d="M501.1 655.3 L500.9 653.6 L500.8 651.9 L501 650.2 L501.3 648.5 L501.9 647 L502.7 645.6 L503.9 644.3 L505.4 643.1 L507.1 642 L509 641.1 L510.9 640.3 L512.8 639.7 L514.7 639.3 L516.7 639 L518.9 638.9 L521 638.9 L523 639.2 L524.8 639.7 L526.5 640.4 L528.2 641.5 L529.8 642.7 L531.2 644.1 L532.5 645.5 L533.5 646.9 L534.1 648.4 L534.5 650 L534.7 651.6 L534.7 653.2 L534.7 654.8 L534.8 656.3 L535 657.8 L535.2 659.4 L535.5 660.8 L535.6 662.2 L535.4 663.4 L535 664.4 L534.2 665 L533.1 665.3 L531.7 665.5 L530.2 665.5 L528.7 665.6 L527.1 665.9 L525.4 666.2 L523.7 666.7 L521.8 667.2 L519.9 667.6 L518 667.9 L516.2 668 L514.4 667.9 L512.6 667.8 L510.7 667.5 L509 667 L507.4 666.3 L506 665.4 L504.8 664.1 L503.7 662.6 L502.8 660.8 L502 658.9 L501.4 657Z" fill="#A9A9A9"/><ellipse cx="517.4" cy="652.8" rx="11.2" ry="8.8" fill="#E6DBA6" transform="rotate(-5 517.4 652.8)"/>
<path d="M467.5 687.5 L467.6 685.8 L467.8 684.1 L468.3 682.5 L468.9 680.9 L469.7 679.5 L470.8 678.3 L472.1 677.2 L473.8 676.3 L475.7 675.5 L477.7 674.9 L479.7 674.5 L481.7 674.2 L483.7 674.1 L485.7 674.2 L487.8 674.4 L489.9 674.9 L491.8 675.5 L493.5 676.2 L495.1 677.3 L496.6 678.6 L497.9 680.1 L499.1 681.7 L500.1 683.3 L500.8 684.9 L501.2 686.5 L501.3 688.1 L501.2 689.7 L500.9 691.3 L500.7 692.9 L500.5 694.4 L500.4 695.9 L500.4 697.5 L500.4 699 L500.2 700.3 L499.9 701.5 L499.3 702.3 L498.4 702.8 L497.2 703 L495.9 702.9 L494.4 702.7 L492.8 702.5 L491.3 702.4 L489.6 702.5 L487.7 702.7 L485.8 702.8 L483.9 702.9 L482 702.9 L480.2 702.7 L478.4 702.3 L476.6 701.8 L474.9 701.2 L473.2 700.4 L471.7 699.5 L470.5 698.3 L469.6 696.9 L468.8 695.1 L468.2 693.2 L467.8 691.2 L467.5 689.3Z" fill="#A9A9A9"/><ellipse cx="484" cy="688" rx="11.2" ry="8.8" fill="#E6DBA6" transform="rotate(5 484 688)"/>
<path d="M534 731 L533.9 729.3 L534.1 727.6 L534.3 725.9 L534.8 724.3 L535.5 722.8 L536.5 721.5 L537.8 720.3 L539.4 719.3 L541.2 718.3 L543.1 717.6 L545.1 716.9 L547 716.5 L549 716.2 L551 716.1 L553.2 716.2 L555.2 716.4 L557.2 716.9 L559 717.5 L560.7 718.4 L562.2 719.6 L563.7 721 L565 722.5 L566.1 724 L567 725.5 L567.5 727 L567.8 728.6 L567.8 730.2 L567.7 731.9 L567.6 733.5 L567.5 735 L567.6 736.5 L567.7 738 L567.8 739.5 L567.8 740.9 L567.5 742.1 L567 743 L566.1 743.5 L565 743.8 L563.7 743.8 L562.2 743.8 L560.6 743.7 L559 743.8 L557.3 744 L555.5 744.3 L553.6 744.7 L551.7 744.9 L549.8 745.1 L548 745 L546.2 744.8 L544.4 744.4 L542.6 744 L540.9 743.4 L539.3 742.5 L538 741.5 L536.9 740.1 L536 738.5 L535.2 736.6 L534.6 734.7 L534.2 732.8Z" fill="#A9A9A9"/><ellipse cx="550.5" cy="730" rx="11.2" ry="8.8" fill="#E6DBA6" transform="rotate(0 550.5 730)"/>
<rect x="453.5" y="570.1" width="35" height="11" rx="5.5" fill="#CCE8DD" transform="rotate(22 471 575.6)"/>
<rect x="524.3" y="564.5" width="35" height="11" rx="5.5" fill="#CCE8DD" transform="rotate(-6 541.8 570)"/>
<rect x="482.5" y="620" width="35" height="11" rx="5.5" fill="#CCE8DD" transform="rotate(-48 500 625.5)"/>
<rect x="547.2" y="674.5" width="35" height="11" rx="5.5" fill="#CCE8DD" transform="rotate(-6 564.7 680)"/>
<rect x="507.2" y="692.5" width="35" height="11" rx="5.5" fill="#CCE8DD" transform="rotate(28 524.7 698)"/>
<circle cx="538" cy="519.3" r="15" fill="url(#agG)"/>
<circle cx="538" cy="519.3" r="4.6" fill="url(#agS)"/>
<rect x="726.9" y="638.9" width="35" height="11" rx="5.5" fill="#BAAFAF" transform="rotate(20 744.4 644.4)"/>
<rect x="686.2" y="652.5" width="35" height="11" rx="5.5" fill="#BAAFAF" transform="rotate(-25 703.7 658)"/>
<rect x="643.3" y="661.1" width="35" height="11" rx="5.5" fill="#BAAFAF" transform="rotate(15 660.8 666.6)"/>
<rect x="643.3" y="746.5" width="35" height="11" rx="5.5" fill="#BAAFAF" transform="rotate(-8 660.8 752)"/>
<rect x="611.5" y="525.5" width="35" height="11" rx="5.5" fill="#BAAFAF" transform="rotate(-25 629 531)"/>
<path d="M683.8 577.5 L683.7 575.8 L683.9 574.1 L684.1 572.4 L684.6 570.8 L685.3 569.3 L686.3 568 L687.6 566.8 L689.2 565.8 L691 564.8 L692.9 564.1 L694.9 563.4 L696.8 563 L698.8 562.7 L700.8 562.6 L703 562.7 L705 562.9 L707 563.4 L708.8 564 L710.5 564.9 L712 566.1 L713.5 567.5 L714.8 569 L715.9 570.5 L716.8 572 L717.3 573.5 L717.6 575.1 L717.6 576.8 L717.5 578.4 L717.4 580 L717.3 581.5 L717.4 583 L717.5 584.5 L717.6 586 L717.6 587.4 L717.3 588.6 L716.8 589.5 L715.9 590 L714.8 590.3 L713.5 590.3 L712 590.3 L710.4 590.2 L708.8 590.3 L707.1 590.5 L705.3 590.8 L703.4 591.2 L701.5 591.4 L699.6 591.6 L697.8 591.5 L696 591.3 L694.2 590.9 L692.4 590.5 L690.7 589.9 L689.1 589 L687.8 588 L686.7 586.6 L685.8 585 L685 583.1 L684.4 581.2 L684 579.3Z" fill="#B4A6A6"/><ellipse cx="700.3" cy="576.5" rx="11.2" ry="8.8" fill="#BDB5B5" transform="rotate(0 700.3 576.5)"/>
<path d="M625.1 618 L625.3 616.4 L625.7 614.7 L626.3 613.1 L627 611.6 L628 610.3 L629.2 609.1 L630.6 608.2 L632.4 607.4 L634.3 606.8 L636.3 606.4 L638.4 606.1 L640.4 606 L642.4 606.1 L644.4 606.4 L646.5 606.8 L648.5 607.4 L650.4 608.2 L652 609.1 L653.5 610.3 L654.9 611.7 L656.1 613.3 L657.1 615 L657.9 616.7 L658.5 618.4 L658.8 619.9 L658.7 621.6 L658.5 623.2 L658.1 624.8 L657.7 626.3 L657.4 627.8 L657.2 629.3 L657 630.8 L656.8 632.3 L656.6 633.7 L656.2 634.8 L655.5 635.6 L654.5 636 L653.4 636 L652 635.8 L650.6 635.5 L649 635.2 L647.5 635 L645.8 634.9 L643.9 634.9 L642 634.9 L640.1 634.8 L638.2 634.6 L636.4 634.3 L634.7 633.7 L632.9 633.1 L631.2 632.3 L629.7 631.4 L628.3 630.3 L627.2 629.1 L626.3 627.6 L625.7 625.8 L625.3 623.8 L625 621.8 L625 619.8Z" fill="#B4A6A6"/><ellipse cx="641.5" cy="619.9" rx="11.2" ry="8.8" fill="#BDB5B5" transform="rotate(10 641.5 619.9)"/>
<path d="M721.1 619.5 L720.9 617.8 L720.8 616.1 L721 614.4 L721.3 612.7 L721.9 611.2 L722.7 609.8 L723.9 608.5 L725.4 607.3 L727.1 606.2 L729 605.3 L730.9 604.5 L732.8 603.9 L734.7 603.5 L736.7 603.2 L738.9 603.1 L741 603.1 L743 603.4 L744.8 603.9 L746.5 604.6 L748.2 605.7 L749.8 606.9 L751.2 608.3 L752.5 609.7 L753.5 611.1 L754.1 612.6 L754.5 614.2 L754.7 615.8 L754.7 617.4 L754.7 619 L754.8 620.5 L755 622 L755.2 623.6 L755.5 625 L755.6 626.4 L755.4 627.6 L755 628.6 L754.2 629.2 L753.1 629.5 L751.7 629.7 L750.2 629.7 L748.7 629.8 L747.1 630.1 L745.4 630.4 L743.7 630.9 L741.8 631.4 L739.9 631.8 L738 632.1 L736.2 632.2 L734.4 632.1 L732.6 632 L730.7 631.7 L729 631.2 L727.4 630.5 L726 629.6 L724.8 628.3 L723.7 626.8 L722.8 625 L722 623.1 L721.4 621.2Z" fill="#B4A6A6"/><ellipse cx="737.4" cy="617" rx="11.2" ry="8.8" fill="#BDB5B5" transform="rotate(-5 737.4 617)"/>
<path d="M607.5 707.5 L607.6 705.8 L607.8 704.1 L608.3 702.5 L608.9 700.9 L609.7 699.5 L610.8 698.3 L612.1 697.2 L613.8 696.3 L615.7 695.5 L617.7 694.9 L619.7 694.5 L621.7 694.2 L623.7 694.1 L625.7 694.2 L627.8 694.4 L629.9 694.9 L631.8 695.5 L633.5 696.2 L635.1 697.3 L636.6 698.6 L637.9 700.1 L639.1 701.7 L640.1 703.3 L640.8 704.9 L641.2 706.5 L641.3 708.1 L641.2 709.7 L640.9 711.3 L640.7 712.9 L640.5 714.4 L640.4 715.9 L640.4 717.5 L640.4 719 L640.2 720.3 L639.9 721.5 L639.3 722.3 L638.4 722.8 L637.2 723 L635.9 722.9 L634.4 722.7 L632.8 722.5 L631.3 722.4 L629.6 722.5 L627.7 722.7 L625.8 722.8 L623.9 722.9 L622 722.9 L620.2 722.7 L618.4 722.3 L616.6 721.8 L614.9 721.2 L613.2 720.4 L611.7 719.5 L610.5 718.3 L609.6 716.9 L608.8 715.1 L608.2 713.2 L607.8 711.2 L607.5 709.3Z" fill="#B4A6A6"/><ellipse cx="624" cy="708" rx="11.2" ry="8.8" fill="#BDB5B5" transform="rotate(5 624 708)"/>
<path d="M685 734.6 L684.9 732.9 L685.1 731.2 L685.3 729.5 L685.8 727.9 L686.5 726.4 L687.5 725.1 L688.8 723.9 L690.4 722.9 L692.2 721.9 L694.1 721.2 L696.1 720.5 L698 720.1 L700 719.8 L702 719.7 L704.2 719.8 L706.2 720 L708.2 720.5 L710 721.1 L711.7 722 L713.2 723.2 L714.7 724.6 L716 726.1 L717.1 727.6 L718 729.1 L718.5 730.6 L718.8 732.2 L718.8 733.9 L718.7 735.5 L718.6 737.1 L718.5 738.6 L718.6 740.1 L718.7 741.6 L718.8 743.1 L718.8 744.5 L718.5 745.7 L718 746.6 L717.1 747.1 L716 747.4 L714.7 747.4 L713.2 747.4 L711.6 747.3 L710 747.4 L708.3 747.6 L706.5 747.9 L704.6 748.3 L702.7 748.5 L700.8 748.7 L699 748.6 L697.2 748.4 L695.4 748 L693.6 747.6 L691.9 747 L690.3 746.1 L689 745.1 L687.9 743.7 L687 742.1 L686.2 740.2 L685.6 738.3 L685.2 736.4Z" fill="#B4A6A6"/><ellipse cx="701.5" cy="733.6" rx="11.2" ry="8.8" fill="#BDB5B5" transform="rotate(0 701.5 733.6)"/>
<path d="M666.5 518.8 L662.5 520.7 L662.8 525.2 L658.6 523.6 L655.7 527 L653.8 523 L649.3 523.3 L650.9 519.1 L647.5 516.2 L651.5 514.3 L651.2 509.8 L655.4 511.4 L658.3 508 L660.2 512 L664.7 511.7 L663.1 515.9Z" fill="#A9D79C" stroke="#A9D79C" stroke-width="0.8" stroke-linejoin="round"/>
<path d="M719.5 530.3 L715.5 532.2 L715.8 536.7 L711.6 535.1 L708.7 538.5 L706.8 534.5 L702.3 534.8 L703.9 530.6 L700.5 527.7 L704.5 525.8 L704.2 521.3 L708.4 522.9 L711.3 519.5 L713.2 523.5 L717.7 523.2 L716.1 527.4Z" fill="#B0C8A6" stroke="#B0C8A6" stroke-width="0.8" stroke-linejoin="round"/>
<path d="M790.3 545 L786.3 546.9 L786.6 551.4 L782.4 549.8 L779.5 553.2 L777.6 549.2 L773.1 549.5 L774.7 545.3 L771.3 542.4 L775.3 540.5 L775 536 L779.2 537.6 L782.1 534.2 L784 538.2 L788.5 537.9 L786.9 542.1Z" fill="#B3C5AA" stroke="#B3C5AA" stroke-width="0.8" stroke-linejoin="round"/>
<path d="M660.5 566.1 L656.5 568 L656.8 572.5 L652.6 570.9 L649.7 574.3 L647.8 570.3 L643.3 570.6 L644.9 566.4 L641.5 563.5 L645.5 561.6 L645.2 557.1 L649.4 558.7 L652.3 555.3 L654.2 559.3 L658.7 559 L657.1 563.2Z" fill="#B3C5AA" stroke="#B3C5AA" stroke-width="0.8" stroke-linejoin="round"/>
<path d="M743 701.3 L739 703.2 L739.3 707.7 L735.1 706.1 L732.2 709.5 L730.3 705.5 L725.8 705.8 L727.4 701.6 L724 698.7 L728 696.8 L727.7 692.3 L731.9 693.9 L734.8 690.5 L736.7 694.5 L741.2 694.2 L739.6 698.4Z" fill="#B0C8A6" stroke="#B0C8A6" stroke-width="0.8" stroke-linejoin="round"/>
<path d="M651.3 793.3 L647.3 795.2 L647.6 799.7 L643.4 798.1 L640.5 801.5 L638.6 797.5 L634.1 797.8 L635.7 793.6 L632.3 790.7 L636.3 788.8 L636 784.3 L640.2 785.9 L643.1 782.5 L645 786.5 L649.5 786.2 L647.9 790.4Z" fill="#B3C5AA" stroke="#B3C5AA" stroke-width="0.8" stroke-linejoin="round"/>
<circle cx="671.7" cy="538" r="4.2" fill="url(#agD)"/>
<circle cx="619" cy="596.4" r="4.2" fill="url(#agD)"/>
<circle cx="703.7" cy="692.8" r="4.2" fill="url(#agD)"/>
<circle cx="624.7" cy="742.6" r="4.2" fill="url(#agD)"/>
<circle cx="689" cy="548.4" r="9.2" fill="url(#ilS)"/><path d="M684.4 545.2 q-2.3 3.2 0 6.9" stroke="#E9E2B8" stroke-width="1.3" fill="none" stroke-linecap="round" opacity="0.8"/>
<circle cx="693.5" cy="625.5" r="9.2" fill="url(#ilS)"/><path d="M688.9 622.3 q-2.3 3.2 0 6.9" stroke="#E9E2B8" stroke-width="1.3" fill="none" stroke-linecap="round" opacity="0.8"/>
<circle cx="621.8" cy="659" r="9.2" fill="url(#ilS)"/><path d="M617.2 655.8 q-2.3 3.2 0 6.9" stroke="#E9E2B8" stroke-width="1.3" fill="none" stroke-linecap="round" opacity="0.8"/>
<circle cx="671" cy="703.7" r="9.2" fill="url(#ilS)"/><path d="M666.4 700.5 q-2.3 3.2 0 6.9" stroke="#E9E2B8" stroke-width="1.3" fill="none" stroke-linecap="round" opacity="0.8"/>
<circle cx="667" cy="782" r="9.2" fill="url(#ilS)"/><path d="M662.4 778.8 q-2.3 3.2 0 6.9" stroke="#E9E2B8" stroke-width="1.3" fill="none" stroke-linecap="round" opacity="0.8"/>
<circle cx="621" cy="796.5" r="9.2" fill="url(#ilS)"/><path d="M616.4 793.3 q-2.3 3.2 0 6.9" stroke="#E9E2B8" stroke-width="1.3" fill="none" stroke-linecap="round" opacity="0.8"/>
<path d="M556.7 509.2 L612 509.2 L612 499.8 L636 519.5 L612 538.2 L612 529.6 L556.7 529.6 L566.2 519.4Z" fill="url(#arrG)"/>
<text x="557.4" y="498" font-size="14.9" fill="#000" font-weight="bold" textLength="79.4" lengthAdjust="spacingAndGlyphs">Enzyme-like</text>
<text x="545.3" y="549.4" font-size="14.9" fill="#000" font-weight="bold" textLength="108.3" lengthAdjust="spacingAndGlyphs">Catalytic activity</text>
<text x="787.3" y="700.3" font-size="17.3" fill="#000" font-weight="bold" textLength="83.7" lengthAdjust="spacingAndGlyphs">Hemostasis</text>
<text x="778.3" y="768.4" font-size="17.3" fill="#000" font-weight="bold" textLength="97" lengthAdjust="spacingAndGlyphs">Antibacterial</text>
<text x="782.7" y="836.3" font-size="17.3" fill="#000" font-weight="bold" textLength="88" lengthAdjust="spacingAndGlyphs">Antioxidant</text>
<path d="M826.6 712.7 L831.5 719.6 L844.2 722.4 L844.2 740 Q843.5 746 824.8 757.8 Q810.5 746 809.8 740 L809.8 722.4 L822 719.6Z" fill="#FBDFDF" stroke="#E02020" stroke-width="1.4" stroke-linejoin="round"/>
<path d="M825.6 727.6h2.6v4.1h4.1v2.6h-4.1v4.1h-2.6v-4.1h-4.1v-2.6h4.1z" fill="#E02020"/>
<path d="M820.4 795 C822 789 825.5 786 829.2 786 C833 786 836.5 789 838 795 C850 797 857.8 801 857.8 807.3 C857.8 815 845 821.4 829.8 821.4 C814.5 821.4 801.8 815 801.8 807.3 C801.8 801 809 797 820.4 795Z" fill="none" stroke="#2E7FC0" stroke-width="1.7"/>
<text x="827" y="813.2" font-size="17" font-weight="bold" fill="#2E7FC0" text-anchor="middle">O<tspan font-size="10.5" dy="3.6">2</tspan></text>
<use href="#mouse" transform="translate(19.7 523) scale(0.22548)"/>
<circle cx="128.6" cy="563" r="9" fill="#E06A66"/><circle cx="127.5" cy="562" r="6.5" fill="#E57A74" opacity="0.6"/>
<use href="#mouse" transform="translate(15 675) scale(0.22548)"/>
<circle cx="116" cy="705.4" r="8.6" fill="#C9CBCD" stroke="#D25353" stroke-width="1.1"/>
<use href="#mouse" transform="translate(20 830) scale(0.22548)"/>
<g transform="translate(60 488.3) rotate(47.4)">
<linearGradient id="syB" x1="0" x2="0" y1="-4.8" y2="4.8" gradientUnits="userSpaceOnUse"><stop offset="0" stop-color="#C9C9C9"/><stop offset="0.35" stop-color="#F6F6F6"/><stop offset="0.7" stop-color="#DEDEDE"/><stop offset="1" stop-color="#BDBDBD"/></linearGradient>
<rect x="-1.2" y="-5.2" width="2.6" height="10.4" rx="1" fill="#DCDCDC"/>
<rect x="0" y="-2.5" width="26" height="5" fill="#E3E3E3"/>
<rect x="0" y="-0.6" width="26" height="1.2" fill="#F6F6F6"/>
<rect x="21.6" y="-10.5" width="2.8" height="21" rx="1.2" fill="#DEDEDE"/>
<rect x="23.5" y="-4.7" width="49" height="9.4" fill="url(#syB)"/>
<linearGradient id="syD" x1="48" x2="72.5" y1="0" y2="0" gradientUnits="userSpaceOnUse"><stop offset="0" stop-color="#1E1E1E"/><stop offset="0.3" stop-color="#6A6A6A"/><stop offset="1" stop-color="#A9A9A9"/></linearGradient>
<rect x="48" y="-4.7" width="24.5" height="9.4" fill="url(#syD)"/>
<rect x="48" y="-4.7" width="24.5" height="2.2" fill="#fff" opacity="0.18"/>
<rect x="34" y="-4.7" width="0.8" height="3.4" fill="#444"/>
<rect x="41" y="-4.7" width="0.8" height="3.4" fill="#444"/>
<rect x="55" y="-4.7" width="0.8" height="3.4" fill="#444"/>
<rect x="62" y="-4.7" width="0.8" height="3.4" fill="#444"/>
<rect x="68" y="-4.7" width="0.8" height="3.4" fill="#444"/>
<path d="M72.5 -3.2 L83 -0.9 L83 0.9 L72.5 3.2Z" fill="#B5D3EC"/>
<rect x="83" y="-0.45" width="18.5" height="0.9" fill="#8A8A8A"/>
</g>
<path d="M96.4 634.7 L103 639.2 L109.6 634.7 L109.6 661.2 L116.2 661.2 L103 674.5 L89.8 661.2 L96.4 661.2Z" fill="#9DC3EA"/>
<path d="M98 785 L104.6 789.5 L111.2 785 L111.2 811.5 L117.8 811.5 L104.6 824.8 L91.4 811.5 L98 811.5Z" fill="#9DC3EA"/>
<path d="M125 693 L289 535.5 L289 913Z" fill="url(#coneB)"/>
<radialGradient id="bubG" cx="0.5" cy="0.5" r="0.5"><stop offset="0.88" stop-color="#BFDAE8"/><stop offset="0.94" stop-color="#C6DFEC" stop-opacity="0.85"/><stop offset="1" stop-color="#D5E9F2" stop-opacity="0"/></radialGradient>
<ellipse cx="259" cy="533.5" rx="111.5" ry="62.0" fill="url(#bubG)"/>
<clipPath id="bubC"><ellipse cx="259" cy="533.5" rx="103.3" ry="54.3"/></clipPath>
<g clip-path="url(#bubC)"><rect x="150" y="470" width="220" height="125" fill="#ECEEF1"/>
<path d="M148.5 557.4 L149.7 556.9 L150.6 556.5 L151.6 556.1 L152.8 555.6 L154.5 555.1 L156.9 554.6 L160.2 554 L164.2 553.4 L168.7 552.8 L173.4 552.1 L178 551.3 L182.3 550.3 L186.3 549.1 L190.2 547.7 L194.1 546.1 L197.8 544.5 L201.4 543.1 L204.8 541.9 L208 540.8 L210.9 539.8 L213.6 538.8 L216.3 538.1 L219 537.7 L221.7 537.6 L224.5 538 L227.3 538.8 L230 539.8 L232.8 541.1 L235.7 542.4 L238.6 543.8 L241.7 545.5 L244.9 547.4 L248.2 549.4 L251.5 551.4 L254.9 553.1 L258.4 554.6 L262 555.7 L265.9 556.6 L269.8 557.3 L273.7 557.8 L277.5 558 L280.9 557.9 L284.1 557.5 L287.1 556.7 L289.9 555.7 L292.6 554.5 L295.2 553.1 L297.8 551.7 L300.3 550.1 L302.7 548 L305.1 545.8 L307.3 543.8 L309.6 542.1 L311.9 541 L314.3 540.7 L316.6 540.9 L319 541.4 L321.3 542.2 L323.7 543.1 L326 543.8 L328.4 544.7 L330.7 545.8 L333.1 547 L335.4 548.1 L337.8 548.9 L340.1 549.5 L342.4 549.6 L344.7 549.5 L347 549.1 L349.3 548.6 L351.7 548.1 L354.2 547.5 L356.9 546.9 L359.6 546.3 L362.5 545.5 L365.4 544.8 L368.3 544 L371.1 543.3 L372 600 L150 600Z" fill="#FBE6D7"/></g>
<path d="M194.3 497 L201.4 502.9 L199.8 512 L191.1 515.1 L184.1 509.2 L185.7 500.2Z" fill="none" stroke="#8B5A2B" stroke-width="1.6" stroke-linejoin="round"/>
<line x1="194" y1="499.7" x2="198.7" y2="503.7" stroke="#8B5A2B" stroke-width="1.4400000000000002" stroke-linecap="round"/>
<line x1="197.6" y1="510.3" x2="191.7" y2="512.5" stroke="#8B5A2B" stroke-width="1.4400000000000002" stroke-linecap="round"/>
<line x1="186.6" y1="508.2" x2="187.7" y2="502" stroke="#8B5A2B" stroke-width="1.4400000000000002" stroke-linecap="round"/>
<line x1="194.3" y1="497" x2="193.8" y2="489.2" stroke="#8B5A2B" stroke-width="1.6" stroke-linecap="round"/>
<line x1="191.1" y1="515.1" x2="185.9" y2="520.7" stroke="#8B5A2B" stroke-width="1.6" stroke-linecap="round"/>
<text x="182.3" y="525.5" font-size="8.2" font-family="'Liberation Sans', sans-serif" font-weight="bold" fill="#8B5A2B" text-anchor="middle" dominant-baseline="central">HO</text>
<line x1="199.8" y1="512" x2="205.4" y2="517.4" stroke="#8B5A2B" stroke-width="1.6" stroke-linecap="round"/>
<text x="209.6" y="519.9" font-size="8.2" font-family="'Liberation Sans', sans-serif" font-weight="bold" fill="#8B5A2B" text-anchor="middle" dominant-baseline="central" transform="rotate(-52 209.6 519.9)">OH</text>
<line x1="186.8" y1="529.8" x2="183.7" y2="539.3" stroke="#E040D0" stroke-width="1.8" stroke-dasharray="1.7 1.1"/>
<text x="188.5" y="543.8" font-size="9" font-weight="bold" fill="#111" text-anchor="middle" dominant-baseline="central" textLength="30" lengthAdjust="spacingAndGlyphs">COOH</text>
<line x1="178" y1="550" x2="182.3" y2="559.6" stroke="#111" stroke-width="1.8" stroke-linecap="round"/>
<path d="M254.4 488.2 L256.1 498.3 L248.3 504.8 L238.7 501.4 L237 491.3 L244.8 484.8Z" fill="none" stroke="#8B5A2B" stroke-width="1.9" stroke-linejoin="round"/>
<line x1="252.4" y1="490.3" x2="253.6" y2="497.1" stroke="#8B5A2B" stroke-width="1.71" stroke-linecap="round"/>
<line x1="247.6" y1="502.1" x2="241" y2="499.8" stroke="#8B5A2B" stroke-width="1.71" stroke-linecap="round"/>
<line x1="239.7" y1="492" x2="245" y2="487.6" stroke="#8B5A2B" stroke-width="1.71" stroke-linecap="round"/>
<line x1="254.4" y1="488.2" x2="260.6" y2="478.5" stroke="#8B5A2B" stroke-width="1.9" stroke-linecap="round"/>
<line x1="237" y1="491.3" x2="227.9" y2="489.2" stroke="#8B5A2B" stroke-width="1.9" stroke-linecap="round"/>
<text x="222.9" y="488.6" font-size="9" font-family="'Liberation Sans', sans-serif" font-weight="bold" fill="#8B5A2B" text-anchor="middle" dominant-baseline="central" transform="rotate(-90 222.9 488.6)">HO</text>
<line x1="238.7" y1="501.4" x2="239.2" y2="511.7" stroke="#8B5A2B" stroke-width="1.9" stroke-linecap="round"/>
<text x="239.2" y="516.8" font-size="9" font-family="'Liberation Sans', sans-serif" font-weight="bold" fill="#8B5A2B" text-anchor="middle" dominant-baseline="central" transform="rotate(30 239.2 516.8)">OH</text>
<line x1="245.4" y1="524.1" x2="251.9" y2="533.7" stroke="#E040D0" stroke-width="2" stroke-dasharray="1.7 1.1"/>
<text x="253.3" y="540.5" font-size="9.5" font-weight="bold" fill="#111" text-anchor="middle" dominant-baseline="central" transform="rotate(62 253.3 540.5)">HO</text>
<line x1="256.7" y1="547.2" x2="259.8" y2="557.9" stroke="#111" stroke-width="1.9" stroke-linecap="round"/>
<line x1="256.1" y1="498.3" x2="270.2" y2="518.5" stroke="#111" stroke-width="1.9" stroke-linecap="round"/>
<text x="274.2" y="522.4" font-size="9" font-weight="bold" fill="#111" text-anchor="middle" dominant-baseline="central">S</text>
<line x1="274.7" y1="528.1" x2="272.8" y2="557.9" stroke="#111" stroke-width="1.9" stroke-linecap="round"/>
<line x1="303.5" y1="485.5" x2="313.9" y2="501" stroke="#111" stroke-width="1.9" stroke-linecap="round"/>
<line x1="313.9" y1="501" x2="308" y2="516.5" stroke="#111" stroke-width="1.9" stroke-linecap="round"/>
<line x1="318.1" y1="498.2" x2="322.6" y2="498.2" stroke="#111" stroke-width="1.3" stroke-linecap="round"/>
<line x1="318.1" y1="501" x2="322.6" y2="501" stroke="#111" stroke-width="1.3" stroke-linecap="round"/>
<text x="329.4" y="499.6" font-size="8.8" font-family="'Liberation Sans', sans-serif" font-weight="bold" fill="#111" text-anchor="middle" dominant-baseline="central">O</text>
<text x="311.4" y="521.6" font-size="8.4" font-family="'Liberation Sans', sans-serif" font-weight="bold" fill="#111" text-anchor="middle" dominant-baseline="central">NH</text>
<line x1="309.1" y1="526.7" x2="316.4" y2="538.5" stroke="#111" stroke-width="1.9" stroke-linecap="round"/>
<text x="173.8" y="574.3" font-size="17.4" fill="#000" font-weight="bold" textLength="167.7" lengthAdjust="spacingAndGlyphs">Wet adhesive property</text>
<text x="14.8" y="498.2" font-size="21" fill="#000" font-weight="bold">b</text>
<path d="M287.4 928.1 L287.7 929.5 L288 931.9 L288.2 934.5 L288.7 936.5 L289.2 937.9 L289.8 938.9 L290.6 939.6 L291.7 940.1 L293.3 940.2 L295.3 940 L297.2 939.7 L298.6 939.8 L299.3 940.3 L299.6 941 L299.5 941.8 L299 942.5 L298.1 943.2 L296.8 943.8 L295.3 944.4 L294.1 945 L293.2 945.4 L292.3 945.7 L291.6 946.1 L291.1 946.9 L291.1 948.7 L291.5 951 L291.8 953.2 L291.7 954.4 L290.9 954.1 L289.7 952.7 L288.5 951.4 L287.7 951 L287.4 952.3 L287.3 954.5 L287.4 956.8 L287.2 957.8 L286.7 957.2 L286.2 955.6 L285.5 953.7 L284.7 952.4 L283.9 951.7 L282.9 951.3 L281.9 951.2 L280.7 951.4 L279.3 952.3 L277.6 953.7 L276.1 955 L275.3 955.4 L275.5 954.5 L276.3 952.8 L277.3 951 L277.8 949.5 L277.7 948.6 L277.3 947.9 L276.6 947.3 L275.7 946.9 L274.1 946.7 L272 946.7 L270.1 946.7 L269.3 946.5 L270.2 946.1 L272.3 945.5 L274.6 944.9 L276.3 944 L277.1 943 L277.5 941.9 L277.9 940.6 L278.3 939 L278.9 936.8 L279.5 934.1 L280.2 931.7 L280.7 930.6 L281.3 931.2 L281.7 933.1 L282.2 935.2 L282.7 936.5 L283.2 936.9 L283.8 936.7 L284.3 936.2 L284.7 935.6 L285 934.8 L285.2 933.8 L285.4 932.6 L285.7 931.6 L286.1 930.4 L286.5 929.1 L287 928.1Z" fill="#B58D8B" stroke="#B58D8B" stroke-width="2.1" stroke-linejoin="round"/><circle cx="284" cy="943.5" r="3.4" fill="#D2513C"/>
<text x="307.7" y="948.8" font-size="13.5" fill="#000" font-weight="bold" textLength="18.3" lengthAdjust="spacingAndGlyphs">M1</text>
<path d="M346.9 942.5 L351.1 936.4 L359.5 936.7 L363.8 942.2 L359.9 949 L353 950.8Z" fill="#8549A9" stroke="#8549A9" stroke-width="1.2" stroke-linejoin="round"/><path d="M359.5 936.7 L363.8 942.2 L359.9 949 L358.4 947.2 L360.9 941.8 L359.1 937.5Z" fill="#7937A0"/><path d="M351.1 938.2 L359.1 937.5 L360.9 941.8 L358.4 947.2 L351.5 944Z" fill="#6A2391"/>
<text x="365" y="948.8" font-size="13.5" fill="#000" font-weight="bold" textLength="43" lengthAdjust="spacingAndGlyphs">TNF-α</text>
<path d="M418.8 943.6 L418.8 942.8 L418.8 941.9 L419 941.1 L419.2 940.2 L419.6 939.5 L420.1 938.9 L420.7 938.3 L421.5 937.7 L422.4 937.3 L423.3 936.9 L424.3 936.6 L425.3 936.4 L426.3 936.2 L427.3 936.2 L428.4 936.2 L429.4 936.3 L430.4 936.5 L431.3 936.9 L432.1 937.3 L432.9 937.9 L433.7 938.6 L434.3 939.3 L434.9 940.1 L435.3 940.9 L435.6 941.6 L435.7 942.4 L435.7 943.2 L435.6 944 L435.6 944.8 L435.6 945.6 L435.6 946.4 L435.6 947.1 L435.7 947.9 L435.7 948.6 L435.6 949.2 L435.3 949.6 L434.9 949.9 L434.3 950 L433.6 950 L432.9 950 L432.1 950 L431.3 950 L430.5 950.1 L429.6 950.3 L428.6 950.4 L427.7 950.6 L426.7 950.6 L425.8 950.6 L424.9 950.5 L424 950.3 L423.1 950.1 L422.2 949.8 L421.5 949.4 L420.8 948.9 L420.3 948.2 L419.8 947.3 L419.4 946.4 L419.1 945.4 L418.9 944.5Z" fill="#A9A9A9"/><ellipse cx="427.1" cy="943.1" rx="5.6" ry="4.4" fill="#E6DAA8" transform="rotate(0 427.1 943.1)"/>
<text x="437.8" y="948.8" font-size="13.5" fill="#000" font-weight="bold" font-style="italic" textLength="55.2" lengthAdjust="spacingAndGlyphs">S.aureus</text>
<rect x="502" y="940" width="27" height="7" rx="3.5" fill="#CBE6DA" transform="rotate(-3 515.5 943.5)"/>
<text x="533.9" y="948.8" font-size="13.5" fill="#000" font-weight="bold" font-style="italic" textLength="34.9" lengthAdjust="spacingAndGlyphs">E.coli</text>
<path d="M574.5 943.6 L574.5 942.8 L574.5 941.9 L574.7 941.1 L574.9 940.2 L575.3 939.5 L575.8 938.9 L576.4 938.3 L577.2 937.7 L578.1 937.3 L579 936.9 L580 936.6 L581 936.4 L582 936.2 L583 936.2 L584.1 936.2 L585.1 936.3 L586.1 936.5 L587 936.9 L587.8 937.3 L588.6 937.9 L589.4 938.6 L590 939.3 L590.6 940.1 L591 940.9 L591.3 941.6 L591.4 942.4 L591.4 943.2 L591.3 944 L591.3 944.8 L591.2 945.6 L591.3 946.4 L591.3 947.1 L591.4 947.9 L591.4 948.6 L591.3 949.2 L591 949.6 L590.6 949.9 L590 950 L589.3 950 L588.6 950 L587.8 950 L587 950 L586.2 950.1 L585.3 950.3 L584.3 950.4 L583.4 950.6 L582.4 950.6 L581.5 950.6 L580.6 950.5 L579.7 950.3 L578.8 950.1 L577.9 949.8 L577.2 949.4 L576.5 948.9 L576 948.2 L575.5 947.3 L575.1 946.4 L574.8 945.4 L574.6 944.5Z" fill="#9A9A9A"/><ellipse cx="582.8" cy="943.1" rx="5.6" ry="4.4" fill="#BDBDBD" transform="rotate(0 582.8 943.1)"/>
<rect x="597.5" y="941.5" width="17" height="5" rx="2.5" fill="#B9B9B9" transform="rotate(-3 606 944)"/>
<text x="621" y="948.8" font-size="13.5" fill="#000" font-weight="bold" textLength="93" lengthAdjust="spacingAndGlyphs">Dead bacterium</text>
<circle cx="725.7" cy="944" r="6" fill="url(#ilL)"/><path d="M722.7 942 q-1.2 2 0 4" stroke="#F2E4A8" stroke-width="1" fill="none"/>
<text x="735.8" y="948.8" font-size="13.5" fill="#000" font-weight="bold" textLength="31.2" lengthAdjust="spacingAndGlyphs">IL-10</text>
<path d="M793.7 944.8 L789.8 946.6 L790.1 950.9 L786 949.4 L783.2 952.7 L781.4 948.8 L777.1 949.1 L778.6 945 L775.3 942.2 L779.2 940.4 L778.9 936.1 L783 937.6 L785.8 934.3 L787.6 938.2 L791.9 937.9 L790.4 942Z" fill="#A4D09B" stroke="#A4D09B" stroke-width="0.8" stroke-linejoin="round"/>
<text x="794.3" y="948.8" font-size="13.5" fill="#000" font-weight="bold" textLength="28.1" lengthAdjust="spacingAndGlyphs">ROS</text>
<circle cx="836.3" cy="945.6" r="4.6" fill="#BBB" opacity="0.5"/>
<circle cx="834.7" cy="944" r="4.6" fill="url(#agS)"/>
<text x="846.6" y="948.8" font-size="13.5" font-weight="bold" fill="#000">Ag<tspan font-size="8.5" dy="-5.5">+</tspan></text>
<text x="44.8" y="952.4" font-size="18" font-family="'Liberation Sans','Noto Sans CJK SC',sans-serif" font-weight="bold" textLength="71.8" lengthAdjust="spacingAndGlyphs" fill="#9C9C9C" opacity="0.55">大数跨境</text>
<text x="44" y="951.6" font-size="18" font-family="'Liberation Sans','Noto Sans CJK SC',sans-serif" font-weight="bold" textLength="71.8" lengthAdjust="spacingAndGlyphs" fill="#fff" stroke="#B4B4B4" stroke-width="1.5" paint-order="stroke" stroke-linejoin="round">大数跨境</text>
<g fill="none" stroke="#B2B2B2" stroke-width="4.2" stroke-linecap="round" opacity="0.9" transform="translate(0.4 0.5)"><path d="M10.3 936.8 L10.3 952.4"/><path d="M19.6 938.2 Q13.6 941 14.5 945.6 Q15 950.4 20.6 952.6"/><circle cx="27.2" cy="939.3" r="2.9"/><circle cx="35.1" cy="938.7" r="2.9"/></g>
<g fill="none" stroke="#fff" stroke-width="2.2" stroke-linecap="round"><path d="M10.3 936.8 L10.3 952.4"/><path d="M19.6 938.2 Q13.6 941 14.5 945.6 Q15 950.4 20.6 952.6"/><circle cx="27.2" cy="939.3" r="2.9"/><circle cx="35.1" cy="938.7" r="2.9"/></g>
</g>
<line x1="5.4" y1="2.3" x2="881.6" y2="2.3" stroke="#8DC1F1" stroke-width="3.0" stroke-dasharray="10.9 4" stroke-dashoffset="0"/>
<line x1="4.7" y1="6" x2="4.7" y2="460.6" stroke="#8DC1F1" stroke-width="3.3" stroke-dasharray="10.9 4" stroke-dashoffset="0"/>
<line x1="880" y1="6" x2="880" y2="460.6" stroke="#8DC1F1" stroke-width="3.3" stroke-dasharray="10.9 4" stroke-dashoffset="0"/>
<line x1="3.1" y1="459" x2="881.6" y2="459" stroke="#8DC1F1" stroke-width="3.3" stroke-dasharray="10.9 4" stroke-dashoffset="0"/>
<line x1="3.1" y1="468.7" x2="881.6" y2="468.7" stroke="#8DC1F1" stroke-width="3.3" stroke-dasharray="10.9 4" stroke-dashoffset="0"/>
<line x1="4.7" y1="467.1" x2="4.7" y2="960.4" stroke="#8DC1F1" stroke-width="3.3" stroke-dasharray="10.9 4" stroke-dashoffset="3.2"/>
<line x1="880" y1="467.1" x2="880" y2="960.4" stroke="#8DC1F1" stroke-width="3.3" stroke-dasharray="10.9 4" stroke-dashoffset="3.2"/>
<line x1="3.1" y1="958.8" x2="881.6" y2="958.8" stroke="#8DC1F1" stroke-width="3.3" stroke-dasharray="10.9 4" stroke-dashoffset="0"/>
</svg></body></html>
